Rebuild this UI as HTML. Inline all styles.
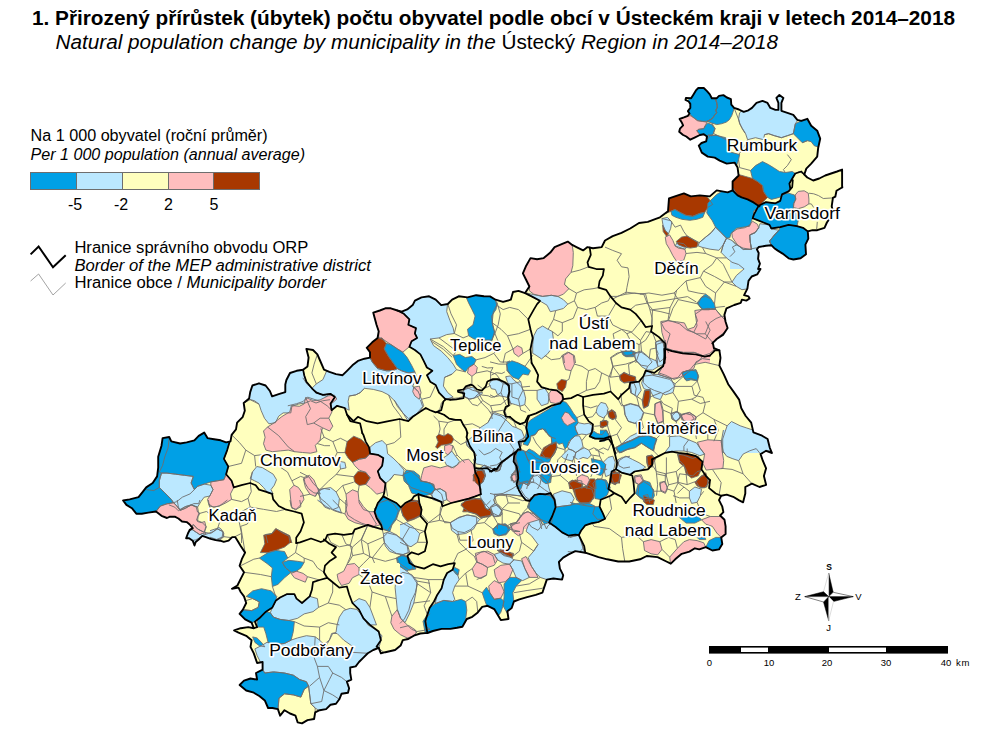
<!DOCTYPE html>
<html><head><meta charset="utf-8">
<style>
html,body{margin:0;padding:0;background:#fff;}
body{width:1005px;height:744px;overflow:hidden;font-family:"Liberation Sans",sans-serif;}
svg{display:block;position:absolute;left:0;top:0;}
text{font-family:"Liberation Sans",sans-serif;fill:#000;}
.lb{font-size:16px;paint-order:stroke;stroke:#fff;stroke-width:3.2px;stroke-linejoin:round;}
</style></head><body>
<svg width="1005" height="744" viewBox="0 0 1005 744">
<rect width="1005" height="744" fill="#fff"/>
<text x="32" y="24.6" font-size="20" font-weight="bold" textLength="923" lengthAdjust="spacingAndGlyphs">1. Přirozený přírůstek (úbytek) počtu obyvatel podle obcí v Ústeckém kraji v letech 2014–2018</text>
<text x="55.5" y="48.8" font-size="20" textLength="722.5" lengthAdjust="spacingAndGlyphs"><tspan font-style="italic">Natural population change by municipality in the </tspan>Ústecký<tspan font-style="italic"> Region in 2014–2018</tspan></text>
<text x="30.6" y="141" font-size="16" textLength="237" lengthAdjust="spacingAndGlyphs">Na 1 000 obyvatel (roční průměr)</text>
<text x="30.6" y="159.7" font-size="16" font-style="italic" textLength="274.4" lengthAdjust="spacingAndGlyphs">Per 1 000 population (annual average)</text>
<g stroke="#6e6e6e" stroke-width="1">
<rect x="30.5" y="172.5" width="46" height="17" fill="#00a0e6"/>
<rect x="76.5" y="172.5" width="46" height="17" fill="#bbe8ff"/>
<rect x="122.5" y="172.5" width="46" height="17" fill="#ffffbe"/>
<rect x="168.5" y="172.5" width="45" height="17" fill="#ffbebe"/>
<rect x="213.5" y="172.5" width="46" height="17" fill="#a83800"/>
</g>
<g font-size="16" text-anchor="middle">
<text x="75" y="210">-5</text><text x="121" y="210">-2</text><text x="168.5" y="210">2</text><text x="214" y="210">5</text>
</g>
<polyline points="30.6,254.4 38.6,246.5 53,267.2 65.7,255.2" fill="none" stroke="#000" stroke-width="2"/>
<polyline points="30.6,281 38.6,274 53,295 65.7,283" fill="none" stroke="#8c8c8c" stroke-width="0.8"/>
<text x="74.4" y="253.2" font-size="16" textLength="234" lengthAdjust="spacingAndGlyphs">Hranice správního obvodu ORP</text>
<text x="74.4" y="270.5" font-size="16" font-style="italic" textLength="296.6" lengthAdjust="spacingAndGlyphs">Border of the MEP administrative district</text>
<text x="74.4" y="288.4" font-size="16" textLength="252" lengthAdjust="spacingAndGlyphs">Hranice obce / <tspan font-style="italic">Municipality border</tspan></text>
<!-- compass -->
<g stroke="#000" stroke-width="0.5" stroke-linejoin="miter">
<polygon points="828.7,573 833.2,592.3 828.7,596.6" fill="#000"/>
<polygon points="828.7,573 823.5,591.7 828.7,596.6" fill="#fff" stroke="#bbb"/>
<polygon points="853.2,596.6 833.5,601.5 828.7,596.6" fill="#000"/>
<polygon points="853.2,596.6 833.2,592.3 828.7,596.6" fill="#fff"/>
<polygon points="828.7,620.7 823.5,602 828.7,596.6" fill="#000"/>
<polygon points="828.7,620.7 833.5,601.5 828.7,596.6" fill="#fff" stroke="#bbb"/>
<polygon points="804.8,596.6 823.5,591.7 828.7,596.6" fill="#000"/>
<polygon points="804.8,596.6 823.5,602 828.7,596.6" fill="#fff"/>
</g>
<g font-size="9.5" text-anchor="middle">
<text x="829" y="569.5" font-weight="bold" font-size="8.5">S</text>
<text x="828.5" y="630.5">J</text>
<text x="797.8" y="600">Z</text>
<text x="858.5" y="600">V</text>
</g>
<!-- scalebar -->
<rect x="709" y="646" width="239" height="7.6" fill="#000"/>
<rect x="741" y="647.6" width="27" height="4.4" fill="#fff"/>
<rect x="829" y="647.6" width="57" height="4.4" fill="#fff"/>
<g font-size="9.5" text-anchor="middle">
<text x="709.5" y="666">0</text><text x="769" y="666">10</text><text x="827" y="666">20</text><text x="886" y="666">30</text><text x="946" y="666">40</text><text x="963" y="666" letter-spacing="0.6">km</text>
</g>
<defs><clipPath id="oc"><polygon points="660.0,217.3 668.0,211.3 669.0,198.4 674.9,196.4 683.9,193.4 690.8,196.4 699.8,195.4 709.8,196.4 716.7,190.4 727.7,192.4 732.6,190.4 732.6,181.5 738.6,175.5 737.6,167.6 734.6,162.6 726.7,163.6 719.7,160.6 714.7,157.6 707.8,156.6 701.8,152.6 698.8,145.7 701.5,143.0 706.2,141.3 707.0,136.5 703.8,134.2 699.9,135.0 695.1,137.3 690.3,139.7 686.3,136.5 683.1,135.0 679.2,131.8 680.0,128.6 683.1,125.4 681.6,122.2 679.6,119.0 683.9,117.4 687.9,115.8 689.5,113.5 687.9,111.1 690.3,107.9 690.3,103.9 688.7,101.5 685.5,99.9 685.9,97.9 691.1,98.3 693.5,94.4 695.9,90.4 698.3,88.0 703.8,88.0 707.0,91.2 709.8,94.4 711.8,98.3 716.6,98.3 719.0,95.9 723.4,95.1 726.9,97.5 730.9,99.1 731.3,104.7 734.1,107.9 738.9,109.5 743.7,111.9 748.4,110.3 752.0,107.9 756.5,102.9 762.5,100.9 767.5,102.9 770.4,107.9 775.4,109.9 778.4,109.9 778.4,102.9 776.4,97.9 779.4,94.9 783.4,97.9 781.4,102.9 781.4,110.8 787.4,112.8 793.3,114.8 797.3,119.8 801.3,120.8 807.3,118.8 811.2,125.8 817.2,130.7 820.2,138.7 818.2,147.7 817.2,156.6 811.2,163.6 806.3,168.6 804.3,174.5 807.3,177.5 813.2,180.5 819.2,178.5 825.2,175.5 831.1,173.5 837.1,171.5 842.1,169.6 842.1,187.5 842.4,187.2 836.5,190.8 835.3,196.7 832.9,197.9 831.7,206.3 832.9,211.1 830.5,217.1 826.9,222.5 824.5,227.8 817.3,230.2 812.5,230.2 807.8,231.4 808.3,238.6 805.4,244.6 806.0,254.2 800.6,258.3 793.4,259.5 788.6,258.3 782.6,253.6 777.8,250.6 774.3,248.2 771.3,245.2 765.9,245.8 758.7,247.0 756.9,249.4 758.7,253.0 758.1,258.9 759.9,263.7 758.1,269.0 760.5,268.9 757.2,274.4 751.7,276.5 748.5,280.9 747.4,288.6 744.1,295.2 748.5,296.3 749.6,298.5 746.3,300.6 741.9,299.6 740.8,302.8 734.2,305.0 726.5,308.3 724.4,314.9 725.5,321.5 727.6,328.0 723.3,334.6 716.7,339.0 712.3,343.4 712.8,342.6 713.9,348.1 719.4,350.3 720.5,357.9 719.4,365.6 723.8,374.4 728.2,384.2 733.7,391.9 739.1,399.6 741.3,408.3 745.7,416.0 751.2,422.6 753.4,432.4 762.1,435.7 767.6,439.0 769.8,447.8 772.0,453.0 772.0,453.0 766.1,450.8 760.6,454.1 762.8,460.7 766.1,468.3 763.9,476.0 766.1,484.8 759.5,487.0 751.9,483.7 745.3,487.0 745.3,493.5 743.1,502.3 738.7,500.1 733.2,496.8 726.7,494.6 721.2,495.7 719.0,500.1 722.3,506.7 723.4,512.2 720.1,515.5 724.5,519.8 725.6,526.4 725.6,534.1 721.2,537.4 722.3,543.9 719.0,549.4 712.4,550.5 705.8,547.2 699.3,549.4 694.9,548.3 689.4,551.6 681.7,553.8 675.2,559.3 670.8,563.7 666.4,561.5 657.6,557.1 646.7,556.0 640.1,559.3 629.2,561.5 618.2,561.5 607.2,559.3 598.5,557.1 591.9,554.9 585.3,552.7 575.3,551.1 568.7,554.4 563.2,557.6 558.9,562.0 559.9,568.6 563.2,575.2 562.1,579.6 553.4,578.5 546.8,579.6 544.6,586.1 542.4,592.7 535.8,594.9 527.1,597.1 519.4,599.3 513.9,601.5 511.7,608.0 507.4,611.3 508.5,619.0 500.8,620.1 497.5,614.6 494.2,609.1 487.6,605.8 482.2,606.9 477.8,612.4 472.3,616.8 466.8,619.0 462.4,626.7 457.0,627.8 450.4,628.9 441.6,628.9 432.9,631.0 427.4,633.0 427.4,632.9 420.3,633.5 413.8,635.7 408.3,639.0 402.8,640.1 400.6,645.6 395.1,650.0 385.3,652.2 380.9,653.3 378.7,647.8 373.2,650.0 367.8,653.3 363.4,657.6 359.0,662.0 355.7,666.4 350.2,667.5 350.2,673.0 351.3,679.6 346.9,681.7 349.1,688.3 348.0,692.7 341.5,693.8 339.3,699.3 336.0,703.7 330.5,704.8 326.1,709.1 319.6,710.2 315.2,712.4 314.1,719.0 307.5,720.1 302.0,723.4 297.6,722.3 295.5,715.7 290.0,713.5 284.5,710.2 280.1,715.7 277.9,709.1 272.4,708.0 268.1,708.0 264.8,700.4 259.3,696.0 253.8,692.7 246.2,690.5 239.6,685.0 244.0,680.6 250.5,678.5 257.1,679.6 256.0,673.0 262.6,669.7 262.6,662.0 257.1,663.0 253.8,653.4 250.5,646.8 251.6,640.2 246.2,635.8 238.5,632.6 234.1,630.4 240.7,628.2 248.3,627.1 253.8,628.2 251.6,622.7 245.1,619.4 239.6,613.9 242.9,609.6 246.2,603.0 244.0,596.4 240.7,592.0 238.5,587.6 231.9,588.7 237.4,585.5 240.7,578.9 244.0,572.3 239.6,565.7 241.8,559.2 245.1,552.6 240.7,546.0 237.4,540.5 235.2,537.1 232.2,537.1 228.6,540.7 223.8,541.9 220.2,540.7 215.5,540.1 210.7,538.9 205.9,537.1 202.3,535.9 198.7,539.5 195.7,541.9 194.5,545.5 192.7,540.7 189.1,538.3 186.1,538.3 187.9,533.5 189.7,529.9 192.7,528.1 189.7,524.5 186.7,522.1 182.0,521.5 178.4,518.5 174.8,516.7 170.0,516.7 167.0,518.0 161.5,515.8 156.0,511.5 148.3,512.6 141.8,513.7 136.3,513.7 131.9,508.2 126.4,504.9 123.1,500.5 129.7,499.4 138.5,497.2 142.9,491.7 146.2,487.4 152.7,483.0 157.1,476.4 158.2,467.6 158.2,456.7 161.5,445.7 162.6,438.1 169.2,437.0 171.3,441.3 180.1,443.5 186.7,442.4 194.4,440.3 198.7,435.9 204.2,432.6 207.5,438.1 214.1,439.2 220.6,440.3 226.1,442.4 230.5,441.3 231.6,434.8 236.0,429.3 237.1,422.7 242.6,417.2 244.8,410.7 243.7,403.0 249.1,398.6 250.2,392.1 252.4,385.5 259.0,383.3 265.6,385.5 269.9,391.0 272.1,396.4 278.7,394.2 285.3,392.1 285.3,384.4 286.4,380.0 290.0,373.0 296.6,370.8 303.1,369.7 307.5,366.4 308.6,357.6 306.4,348.9 313.0,350.0 317.4,354.4 320.7,362.0 324.0,369.7 329.4,371.9 336.0,374.1 342.6,375.2 347.0,370.8 352.4,365.3 357.9,360.9 364.5,358.7 370.0,357.6 370.0,352.2 366.7,347.8 372.2,342.3 377.6,337.9 378.7,331.3 376.5,324.8 374.4,317.1 373.3,312.7 379.8,310.5 385.3,308.3 390.8,308.3 397.4,310.5 401.7,311.6 407.2,309.4 412.7,305.1 414.9,300.7 421.5,297.4 429.1,296.3 435.7,299.6 441.2,305.1 447.8,304.0 452.1,299.6 458.7,296.3 467.5,297.4 476.2,295.2 483.9,296.3 490.0,296.4 495.5,299.7 503.1,301.9 510.8,299.7 513.0,292.0 518.5,290.9 525.1,293.1 529.4,286.5 526.2,280.0 522.9,273.4 526.2,265.7 530.5,258.1 537.1,259.2 543.7,258.1 550.3,252.6 554.6,247.1 562.3,243.8 567.8,241.6 572.2,244.9 576.5,247.1 583.1,250.4 587.5,247.1 593.0,248.2 601.7,247.1 605.0,240.5 612.7,236.2 621.5,232.9 630.2,228.5 639.0,223.0 647.8,221.9 656.5,218.6"/></clipPath></defs>
<polygon points="660.0,217.3 668.0,211.3 669.0,198.4 674.9,196.4 683.9,193.4 690.8,196.4 699.8,195.4 709.8,196.4 716.7,190.4 727.7,192.4 732.6,190.4 732.6,181.5 738.6,175.5 737.6,167.6 734.6,162.6 726.7,163.6 719.7,160.6 714.7,157.6 707.8,156.6 701.8,152.6 698.8,145.7 701.5,143.0 706.2,141.3 707.0,136.5 703.8,134.2 699.9,135.0 695.1,137.3 690.3,139.7 686.3,136.5 683.1,135.0 679.2,131.8 680.0,128.6 683.1,125.4 681.6,122.2 679.6,119.0 683.9,117.4 687.9,115.8 689.5,113.5 687.9,111.1 690.3,107.9 690.3,103.9 688.7,101.5 685.5,99.9 685.9,97.9 691.1,98.3 693.5,94.4 695.9,90.4 698.3,88.0 703.8,88.0 707.0,91.2 709.8,94.4 711.8,98.3 716.6,98.3 719.0,95.9 723.4,95.1 726.9,97.5 730.9,99.1 731.3,104.7 734.1,107.9 738.9,109.5 743.7,111.9 748.4,110.3 752.0,107.9 756.5,102.9 762.5,100.9 767.5,102.9 770.4,107.9 775.4,109.9 778.4,109.9 778.4,102.9 776.4,97.9 779.4,94.9 783.4,97.9 781.4,102.9 781.4,110.8 787.4,112.8 793.3,114.8 797.3,119.8 801.3,120.8 807.3,118.8 811.2,125.8 817.2,130.7 820.2,138.7 818.2,147.7 817.2,156.6 811.2,163.6 806.3,168.6 804.3,174.5 807.3,177.5 813.2,180.5 819.2,178.5 825.2,175.5 831.1,173.5 837.1,171.5 842.1,169.6 842.1,187.5 842.4,187.2 836.5,190.8 835.3,196.7 832.9,197.9 831.7,206.3 832.9,211.1 830.5,217.1 826.9,222.5 824.5,227.8 817.3,230.2 812.5,230.2 807.8,231.4 808.3,238.6 805.4,244.6 806.0,254.2 800.6,258.3 793.4,259.5 788.6,258.3 782.6,253.6 777.8,250.6 774.3,248.2 771.3,245.2 765.9,245.8 758.7,247.0 756.9,249.4 758.7,253.0 758.1,258.9 759.9,263.7 758.1,269.0 760.5,268.9 757.2,274.4 751.7,276.5 748.5,280.9 747.4,288.6 744.1,295.2 748.5,296.3 749.6,298.5 746.3,300.6 741.9,299.6 740.8,302.8 734.2,305.0 726.5,308.3 724.4,314.9 725.5,321.5 727.6,328.0 723.3,334.6 716.7,339.0 712.3,343.4 712.8,342.6 713.9,348.1 719.4,350.3 720.5,357.9 719.4,365.6 723.8,374.4 728.2,384.2 733.7,391.9 739.1,399.6 741.3,408.3 745.7,416.0 751.2,422.6 753.4,432.4 762.1,435.7 767.6,439.0 769.8,447.8 772.0,453.0 772.0,453.0 766.1,450.8 760.6,454.1 762.8,460.7 766.1,468.3 763.9,476.0 766.1,484.8 759.5,487.0 751.9,483.7 745.3,487.0 745.3,493.5 743.1,502.3 738.7,500.1 733.2,496.8 726.7,494.6 721.2,495.7 719.0,500.1 722.3,506.7 723.4,512.2 720.1,515.5 724.5,519.8 725.6,526.4 725.6,534.1 721.2,537.4 722.3,543.9 719.0,549.4 712.4,550.5 705.8,547.2 699.3,549.4 694.9,548.3 689.4,551.6 681.7,553.8 675.2,559.3 670.8,563.7 666.4,561.5 657.6,557.1 646.7,556.0 640.1,559.3 629.2,561.5 618.2,561.5 607.2,559.3 598.5,557.1 591.9,554.9 585.3,552.7 575.3,551.1 568.7,554.4 563.2,557.6 558.9,562.0 559.9,568.6 563.2,575.2 562.1,579.6 553.4,578.5 546.8,579.6 544.6,586.1 542.4,592.7 535.8,594.9 527.1,597.1 519.4,599.3 513.9,601.5 511.7,608.0 507.4,611.3 508.5,619.0 500.8,620.1 497.5,614.6 494.2,609.1 487.6,605.8 482.2,606.9 477.8,612.4 472.3,616.8 466.8,619.0 462.4,626.7 457.0,627.8 450.4,628.9 441.6,628.9 432.9,631.0 427.4,633.0 427.4,632.9 420.3,633.5 413.8,635.7 408.3,639.0 402.8,640.1 400.6,645.6 395.1,650.0 385.3,652.2 380.9,653.3 378.7,647.8 373.2,650.0 367.8,653.3 363.4,657.6 359.0,662.0 355.7,666.4 350.2,667.5 350.2,673.0 351.3,679.6 346.9,681.7 349.1,688.3 348.0,692.7 341.5,693.8 339.3,699.3 336.0,703.7 330.5,704.8 326.1,709.1 319.6,710.2 315.2,712.4 314.1,719.0 307.5,720.1 302.0,723.4 297.6,722.3 295.5,715.7 290.0,713.5 284.5,710.2 280.1,715.7 277.9,709.1 272.4,708.0 268.1,708.0 264.8,700.4 259.3,696.0 253.8,692.7 246.2,690.5 239.6,685.0 244.0,680.6 250.5,678.5 257.1,679.6 256.0,673.0 262.6,669.7 262.6,662.0 257.1,663.0 253.8,653.4 250.5,646.8 251.6,640.2 246.2,635.8 238.5,632.6 234.1,630.4 240.7,628.2 248.3,627.1 253.8,628.2 251.6,622.7 245.1,619.4 239.6,613.9 242.9,609.6 246.2,603.0 244.0,596.4 240.7,592.0 238.5,587.6 231.9,588.7 237.4,585.5 240.7,578.9 244.0,572.3 239.6,565.7 241.8,559.2 245.1,552.6 240.7,546.0 237.4,540.5 235.2,537.1 232.2,537.1 228.6,540.7 223.8,541.9 220.2,540.7 215.5,540.1 210.7,538.9 205.9,537.1 202.3,535.9 198.7,539.5 195.7,541.9 194.5,545.5 192.7,540.7 189.1,538.3 186.1,538.3 187.9,533.5 189.7,529.9 192.7,528.1 189.7,524.5 186.7,522.1 182.0,521.5 178.4,518.5 174.8,516.7 170.0,516.7 167.0,518.0 161.5,515.8 156.0,511.5 148.3,512.6 141.8,513.7 136.3,513.7 131.9,508.2 126.4,504.9 123.1,500.5 129.7,499.4 138.5,497.2 142.9,491.7 146.2,487.4 152.7,483.0 157.1,476.4 158.2,467.6 158.2,456.7 161.5,445.7 162.6,438.1 169.2,437.0 171.3,441.3 180.1,443.5 186.7,442.4 194.4,440.3 198.7,435.9 204.2,432.6 207.5,438.1 214.1,439.2 220.6,440.3 226.1,442.4 230.5,441.3 231.6,434.8 236.0,429.3 237.1,422.7 242.6,417.2 244.8,410.7 243.7,403.0 249.1,398.6 250.2,392.1 252.4,385.5 259.0,383.3 265.6,385.5 269.9,391.0 272.1,396.4 278.7,394.2 285.3,392.1 285.3,384.4 286.4,380.0 290.0,373.0 296.6,370.8 303.1,369.7 307.5,366.4 308.6,357.6 306.4,348.9 313.0,350.0 317.4,354.4 320.7,362.0 324.0,369.7 329.4,371.9 336.0,374.1 342.6,375.2 347.0,370.8 352.4,365.3 357.9,360.9 364.5,358.7 370.0,357.6 370.0,352.2 366.7,347.8 372.2,342.3 377.6,337.9 378.7,331.3 376.5,324.8 374.4,317.1 373.3,312.7 379.8,310.5 385.3,308.3 390.8,308.3 397.4,310.5 401.7,311.6 407.2,309.4 412.7,305.1 414.9,300.7 421.5,297.4 429.1,296.3 435.7,299.6 441.2,305.1 447.8,304.0 452.1,299.6 458.7,296.3 467.5,297.4 476.2,295.2 483.9,296.3 490.0,296.4 495.5,299.7 503.1,301.9 510.8,299.7 513.0,292.0 518.5,290.9 525.1,293.1 529.4,286.5 526.2,280.0 522.9,273.4 526.2,265.7 530.5,258.1 537.1,259.2 543.7,258.1 550.3,252.6 554.6,247.1 562.3,243.8 567.8,241.6 572.2,244.9 576.5,247.1 583.1,250.4 587.5,247.1 593.0,248.2 601.7,247.1 605.0,240.5 612.7,236.2 621.5,232.9 630.2,228.5 639.0,223.0 647.8,221.9 656.5,218.6" fill="#ffffbe"/>
<g clip-path="url(#oc)">
<polygon points="696.8,145.7 704.8,141.7 708.8,137.7 710.7,134.7 717.7,135.7 725.7,137.7 727.7,145.7 728.7,151.6 739.6,154.6 738.6,159.6 736.6,165.6 734.6,164.6 726.7,165.6 719.7,162.6 714.7,159.6 707.8,158.6 701.8,154.6" fill="#00a0e6"/>
<polygon points="795.3,123.8 801.3,120.8 807.3,116.8 813.2,123.8 819.2,128.8 822.2,138.7 820.2,147.7 814.2,145.7 811.2,141.7 807.3,140.7 802.3,142.7 797.3,137.7 793.3,133.7 794.3,128.8" fill="#00a0e6"/>
<polygon points="750.5,170.5 755.5,165.6 762.5,161.6 768.5,164.6 773.4,167.6 779.4,171.5 785.4,172.5 792.3,171.5 795.3,173.5 792.3,178.5 789.4,183.5 790.3,188.5 785.4,193.4 779.4,197.4 771.4,199.4 767.5,197.4 763.5,191.4 762.5,185.5 757.5,181.5 752.5,178.5" fill="#00a0e6"/>
<polygon points="670.9,211.3 674.9,209.4 679.9,212.3 685.9,215.3 692.8,216.3 699.8,213.3 704.8,212.3 702.8,217.3 696.8,219.3 689.9,220.3 681.9,219.3 675.9,217.3 671.9,215.3" fill="#00a0e6"/>
<polygon points="739.6,112.8 743.6,108.9 749.6,105.9 756.5,100.9 762.5,98.9 767.5,100.9 770.4,105.9 775.4,107.9 776.4,107.9 776.4,93.9 785.4,93.9 783.4,108.9 787.4,110.8 793.3,112.8 799.3,117.8 795.3,123.8 794.3,128.8 793.3,133.7 787.4,135.7 781.4,137.7 774.4,135.7 768.5,133.7 764.5,134.7 763.5,139.7 755.5,137.7 747.6,139.7 745.6,133.7 742.6,128.8 739.6,123.8 738.6,118.8" fill="#bbe8ff"/>
<polygon points="730.6,181.5 738.6,174.5 745.6,176.5 752.5,178.5 757.5,181.5 762.5,185.5 763.5,191.4 767.5,197.4 763.5,201.4 759.5,206.4 753.5,202.4 747.6,199.4 741.6,197.4 737.6,195.4 732.6,190.4" fill="#a83800"/>
<polygon points="667.0,198.4 674.9,194.4 683.9,191.4 690.8,194.4 699.8,193.4 707.8,197.4 712.7,204.4 707.8,207.4 704.8,212.3 699.8,213.3 692.8,216.3 685.9,215.3 679.9,212.3 674.9,209.4 670.9,211.3 666.0,213.3" fill="#a83800"/>
<polygon points="758.7,205.7 765.9,202.1 775.5,203.3 780.2,200.9 782.0,194.4 788.6,193.2 794.6,195.0 795.8,199.1 793.4,203.9 793.4,208.7 797.0,214.7 798.2,220.7 797.0,226.1 788.6,224.9 780.2,227.2 771.3,229.0 769.5,224.9 763.5,222.5 757.5,220.1 752.7,218.3 753.9,214.7" fill="#00a0e6"/>
<polygon points="795.2,195.0 798.2,191.4 804.2,190.8 808.3,193.2 808.9,199.1 808.9,203.9 804.2,206.9 798.2,208.7 793.4,207.5 794.0,203.3 795.8,199.1" fill="#ffbebe"/>
<polygon points="759.9,223.7 769.5,224.9 771.3,229.0 779.0,230.2 775.5,233.8 769.5,241.0 771.3,245.2 765.9,245.8 758.7,247.0 756.9,249.4 758.7,253.0 758.1,258.9 759.9,263.7 758.1,269.0 730.0,269.0 730.0,256.6 734.8,251.8 732.4,247.0 737.2,244.6 743.2,249.4 751.5,249.4 750.3,242.2 749.7,235.0 755.1,232.6 758.7,227.8" fill="#bbe8ff"/>
<polygon points="752.7,221.3 757.5,224.3 758.7,227.8 755.1,232.6 749.7,235.0 750.3,242.2 751.5,249.4 743.2,249.4 737.2,244.6 732.4,237.4 731.8,232.6 737.2,229.0 744.4,227.8 749.1,225.5" fill="#ffbebe"/>
<polygon points="779.0,230.2 780.2,227.2 788.6,224.9 797.0,226.1 803.0,227.8 807.8,231.4 809.5,238.6 806.6,244.6 807.2,254.2 800.6,259.5 793.4,260.7 788.6,259.5 782.6,254.8 777.8,251.8 774.3,249.4 771.3,245.2 769.5,241.0 775.5,233.8" fill="#00a0e6"/>
<polygon points="707.9,203.1 716.7,194.4 727.6,188.2 733.1,188.2 737.7,195.5 741.7,197.4 747.6,199.4 753.5,202.5 759.6,206.4 753.9,210.8 752.8,217.4 749.6,226.2 736.4,228.3 730.9,233.8 729.8,237.8 726.5,238.2 721.1,232.7 715.6,227.2 712.3,220.7 706.8,213.0" fill="#00a0e6"/>
<polygon points="661.9,218.5 667.4,217.4 671.8,221.8 670.7,228.3 668.5,233.8 665.2,230.5 663.0,225.1" fill="#bbe8ff"/>
<polygon points="662.6,225.1 665.2,230.5 668.5,233.8 666.7,236.5 663.2,231.6" fill="#a83800"/>
<polygon points="665.2,237.1 669.6,234.9 672.9,240.4 675.1,245.9 678.3,248.1 684.9,249.2 686.0,253.5 683.8,260.1 677.2,262.3 672.9,255.7 669.6,249.2 666.3,243.7" fill="#ffbebe"/>
<polygon points="675.1,245.9 684.9,249.2 687.1,247.0 683.8,243.7 677.2,242.6" fill="#bbe8ff"/>
<polygon points="676.2,241.5 681.6,237.1 687.1,236.0 692.6,239.3 698.1,242.6 697.0,247.0 690.4,248.1 683.8,247.0 678.3,244.8" fill="#a83800"/>
<polygon points="699.2,242.6 705.7,237.1 711.2,232.7 715.6,227.2 721.1,232.7 726.5,238.2 723.3,244.8 718.9,250.3 710.1,249.2 702.4,247.4 698.1,245.9" fill="#bbe8ff"/>
<polygon points="726.5,238.2 732.0,240.4 736.4,244.8 743.0,248.1 749.6,249.2 755.0,248.1 761.6,247.0 759.4,250.3 761.6,255.7 760.5,262.3 762.7,268.9 759.4,274.4 753.9,276.5 750.6,280.9 749.6,288.6 741.9,289.7 736.4,286.4 732.0,282.0 736.4,275.5 744.1,268.9 738.6,264.5 732.0,262.3 726.5,257.9 721.1,252.4 723.3,244.8" fill="#bbe8ff"/>
<polygon points="701.3,297.4 705.7,294.1 710.1,297.4 714.5,303.9 715.6,309.4 707.9,308.3 702.4,309.4 698.1,303.9" fill="#00a0e6"/>
<polygon points="694.8,310.5 702.4,309.4 715.6,309.4 721.1,316.0 726.5,321.5 729.8,328.0 725.5,334.6 718.9,339.0 714.5,343.4 713.4,353.0 668.5,353.0 665.2,343.4 661.9,332.4 660.8,321.5 668.5,320.4 679.4,323.7 687.1,330.2 693.7,332.4 697.0,325.8 695.9,318.2" fill="#ffbebe"/>
<polygon points="524.0,265.7 528.3,255.9 537.1,257.0 543.7,255.9 550.3,250.4 554.6,244.9 562.3,241.6 567.8,239.4 572.2,244.9 573.3,252.6 572.8,265.7 571.1,272.3 565.6,278.9 564.5,284.4 568.9,288.7 563.4,294.2 557.9,296.4 551.3,295.3 542.6,296.4 533.8,294.2 529.4,290.9 529.4,286.5 526.2,280.0 520.7,273.4" fill="#ffbebe"/>
<polygon points="527.2,293.1 533.8,294.7 542.6,296.4 551.3,295.3 557.9,296.4 563.4,299.7 567.8,304.1 563.4,308.5 555.7,310.6 550.3,311.7 547.0,305.2 541.5,301.9 537.1,299.7 531.6,296.4" fill="#bbe8ff"/>
<polygon points="537.1,329.3 542.6,326.0 548.1,329.3 552.4,331.5 553.5,340.2 551.3,349.0 547.0,354.5 541.5,358.9 534.9,354.5 532.7,353.4 532.7,344.6 533.8,335.8" fill="#bbe8ff"/>
<polygon points="487.8,294.2 495.5,299.7 496.6,305.2 493.3,311.7 492.2,322.7 494.4,331.5 492.2,340.2 490.0,342.4 487.8,342.4" fill="#00a0e6"/>
<polygon points="513.0,349.0 517.4,345.7 521.8,347.9 522.9,353.4 518.5,356.7 514.1,353.4" fill="#ffbebe"/>
<polygon points="563.4,355.6 568.9,352.3 574.4,355.6 575.5,363.0 564.5,363.0" fill="#ffbebe"/>
<polygon points="621.5,351.2 630.2,350.1 635.7,352.3 633.5,356.7 625.8,356.7 622.6,354.5" fill="#00a0e6"/>
<polygon points="655.4,342.4 659.8,340.2 664.2,343.5 665.3,349.0 664.2,363.0 657.6,363.0 656.5,353.4" fill="#bbe8ff"/>
<polygon points="665.3,349.0 671.9,351.2 682.8,353.4 696.0,354.5 704.7,356.7 710.0,355.6 710.0,363.0 664.6,363.0" fill="#ffbebe"/>
<polygon points="697.1,303.0 701.4,297.5 705.8,296.4 710.0,298.6 710.0,309.6 703.6,309.6 700.3,307.4" fill="#00a0e6"/>
<polygon points="371.1,312.7 379.8,308.3 385.3,306.2 390.8,306.2 397.4,310.5 403.9,313.8 409.4,319.3 408.3,324.8 416.0,328.1 414.9,333.5 417.1,337.9 411.6,341.2 409.4,346.7 402.8,352.2 397.4,348.9 390.8,344.5 384.2,340.1 378.7,337.9 378.7,331.3 376.5,324.8 374.4,317.1" fill="#ffbebe"/>
<polygon points="364.5,347.8 372.2,340.1 377.6,337.9 382.0,337.9 386.4,343.4 384.2,348.9 388.6,356.5 394.1,364.2 397.4,368.6 393.0,370.8 386.4,370.8 377.6,368.6 372.2,362.0 370.0,357.6 370.0,352.2" fill="#a83800"/>
<polygon points="384.2,348.9 386.4,343.4 390.8,344.5 397.4,348.9 402.8,352.2 407.2,357.6 411.6,365.3 414.9,371.9 408.3,373.0 401.7,370.8 397.4,368.6 394.1,364.2 388.6,356.5" fill="#00a0e6"/>
<polygon points="311.9,388.3 316.3,383.9 322.9,379.6 327.2,369.7 336.0,371.9 342.6,373.0 347.0,368.6 352.4,363.1 357.9,358.7 364.5,356.5 370.0,357.6 372.2,362.0 377.6,368.6 386.4,370.8 393.0,370.8 397.4,368.6 401.7,370.8 408.3,373.0 414.9,371.9 417.1,377.4 412.7,386.1 418.2,391.6 421.5,399.3 423.7,405.8 419.3,412.4 412.7,416.8 408.3,421.2 403.9,414.6 399.6,408.0 395.2,401.5 388.6,394.9 382.0,391.6 373.3,389.4 364.5,388.3 360.1,392.7 355.7,394.9 349.2,396.0 348.1,401.5 349.2,410.2 344.8,408.0 337.1,405.8 331.6,410.2 330.5,403.7 334.9,397.1 330.5,393.8 322.9,394.9 316.3,392.7" fill="#bbe8ff"/>
<polygon points="287.8,373.0 296.6,368.6 303.1,369.7 304.2,375.2 306.4,381.7 311.9,388.3 316.3,392.7 322.9,394.9 330.5,393.8 334.9,397.1 330.5,403.7 331.6,410.2 327.2,405.8 320.7,401.5 314.1,399.3 307.5,397.1 303.1,401.5 296.6,403.7 287.8,405.8" fill="#bbe8ff"/>
<polygon points="401.7,311.6 407.2,307.2 412.7,302.9 414.9,298.5 421.5,295.2 429.1,294.1 435.7,297.4 441.2,302.9 447.8,301.8 446.7,311.6 449.9,320.4 453.2,328.1 454.3,333.5 446.7,334.6 439.0,337.9 430.2,339.0 433.5,345.6 441.2,351.1 447.8,357.6 453.2,364.2 456.5,369.7 452.1,374.1 444.5,377.4 443.4,386.1 447.8,392.7 453.2,397.1 445.6,399.3 439.0,392.7 435.7,385.0 430.2,381.7 426.9,375.2 432.4,370.8 426.9,367.5 423.7,360.9 420.4,354.4 414.9,350.0 409.4,346.7 411.6,341.2 417.1,337.9 414.9,333.5 416.0,328.1 408.3,324.8 409.4,319.3 403.9,313.8" fill="#bbe8ff"/>
<polygon points="465.3,295.2 476.2,293.0 483.9,294.1 491.6,295.2 497.1,302.9 496.0,309.4 491.6,316.0 492.7,324.8 494.9,333.5 491.6,340.1 482.8,340.1 474.0,339.0 468.6,335.7 467.5,329.2 473.0,324.8 475.1,316.0 471.9,309.4 468.6,302.9" fill="#00a0e6"/>
<polygon points="453.2,355.5 459.8,354.4 465.3,357.6 471.9,356.5 476.2,359.8 474.0,364.2 468.6,367.5 465.3,371.9 460.9,368.6 456.5,364.2" fill="#00a0e6"/>
<polygon points="468.6,367.5 474.0,364.2 477.3,367.5 476.2,373.0 471.9,376.3 467.5,373.0" fill="#ffbebe"/>
<polygon points="506.9,362.0 510.0,360.9 510.0,373.0 506.9,370.8" fill="#00a0e6"/>
<polygon points="413.8,387.2 419.3,386.1 421.0,392.7 419.3,399.3 414.9,396.0 412.7,391.6" fill="#ffbebe"/>
<polygon points="121.0,500.5 129.7,497.2 138.5,495.0 142.9,489.6 146.2,485.2 152.7,480.8 154.9,476.4 156.0,467.6 156.0,456.7 159.3,445.7 160.4,435.9 169.2,434.8 171.3,439.2 180.1,441.3 186.7,440.3 194.4,438.1 198.7,433.7 204.2,430.4 207.5,435.9 214.1,437.0 220.6,438.1 226.1,440.3 229.4,442.4 227.2,450.1 223.9,458.9 228.3,466.5 226.1,474.2 223.9,479.7 217.4,480.8 210.8,481.9 204.2,484.1 197.6,486.3 194.4,489.6 191.1,483.0 193.3,476.4 184.5,475.3 175.7,474.2 167.0,473.1 161.5,473.1 159.3,480.8 159.3,487.4 164.8,492.8 171.3,499.4 173.5,502.7 167.0,503.8 160.4,506.0 156.0,511.5 148.3,514.8 141.8,515.8 136.3,515.8 130.8,510.4 125.3,507.1" fill="#00a0e6"/>
<polygon points="161.5,473.1 167.0,473.1 175.7,474.2 184.5,475.3 193.3,476.4 191.1,483.0 194.4,489.6 197.6,486.3 204.2,484.1 210.8,485.2 213.0,489.6 209.7,496.1 204.2,497.2 200.9,501.6 197.6,507.1 191.1,504.9 185.6,508.2 180.1,510.4 176.8,506.0 173.5,502.7 171.3,499.4 164.8,492.8 159.3,487.4 159.3,480.8" fill="#bbe8ff"/>
<polygon points="210.8,481.9 217.4,480.8 223.9,479.7 226.1,474.2 231.6,480.8 233.8,487.4 230.5,493.9 231.6,499.4 226.1,502.7 219.6,506.0 213.0,507.1 208.6,503.8 207.5,499.4 209.7,496.1 213.0,489.6 210.8,485.2" fill="#ffbebe"/>
<polygon points="156.0,511.5 160.4,506.0 167.0,503.8 173.5,502.7 176.8,506.0 180.1,510.4 185.6,508.2 191.1,504.9 197.6,507.1 198.7,513.7 196.5,520.2 202.0,522.4 206.4,526.8 204.2,532.3 197.6,529.0 193.3,524.6 190.0,531.2 183.4,525.7 177.9,521.3 173.5,519.1 167.0,520.2 161.5,518.0" fill="#ffbebe"/>
<polygon points="187.8,531.2 193.3,524.6 197.6,529.0 204.2,532.3 210.8,533.4 217.4,529.0 222.8,531.2 223.9,536.7 217.4,539.9 208.6,538.9 202.0,536.7 195.5,539.9 188.9,541.0 184.5,536.7" fill="#bbe8ff"/>
<polygon points="265.6,534.5 272.1,533.4 276.5,529.0 283.1,532.3 289.7,535.6 291.9,543.0 267.8,543.0" fill="#a83800"/>
<polygon points="246.9,398.6 248.0,392.1 250.2,384.4 259.0,381.1 265.6,383.3 271.0,389.9 273.2,394.2 278.7,392.1 283.1,391.0 283.1,384.4 284.2,377.8 302.8,377.8 307.2,384.4 313.8,389.9 320.3,394.2 326.9,396.4 330.0,393.1 330.0,399.7 322.5,400.8 316.0,403.0 310.5,400.8 305.0,403.0 298.4,404.1 291.9,406.3 290.8,412.9 283.1,412.9 278.7,416.2 275.4,422.7 268.9,423.8 264.5,418.3 261.2,410.7 259.0,404.1 254.6,400.8" fill="#bbe8ff"/>
<polygon points="252.4,472.0 256.8,466.5 262.3,467.6 267.8,470.9 273.2,474.2 276.5,479.7 274.3,485.2 271.0,489.6 273.2,493.9 267.8,492.8 263.4,487.4 259.0,483.0 254.6,480.8 250.2,478.6" fill="#bbe8ff"/>
<polygon points="289.7,489.6 294.0,485.2 298.4,487.4 302.8,493.9 303.9,499.4 300.6,504.9 296.2,509.3 291.9,508.2 290.8,500.5" fill="#ffbebe"/>
<polygon points="303.9,477.5 309.4,475.3 313.8,479.7 317.1,487.4 320.3,493.9 313.8,492.8 308.3,488.5 305.0,483.0" fill="#ffbebe"/>
<polygon points="318.2,489.6 324.7,488.5 330.0,489.6 330.0,509.3 324.7,507.1 320.3,500.5" fill="#bbe8ff"/>
<polygon points="344.9,452.6 347.1,441.6 353.7,436.2 361.3,439.4 365.7,443.8 369.0,447.1 370.1,453.7 365.7,458.1 359.2,459.2 352.6,462.4 348.2,458.1" fill="#a83800"/>
<polygon points="352.6,462.4 359.2,459.2 365.7,458.1 370.1,453.7 377.8,454.8 383.3,458.1 382.2,465.7 377.8,471.2 380.0,477.8 385.5,483.3 384.4,492.0 376.7,494.2 370.1,487.6 365.7,484.4 370.1,477.8 365.7,472.3 359.2,470.1 354.8,465.7" fill="#ffbebe"/>
<polygon points="353.7,476.7 358.1,471.2 365.7,472.3 370.1,477.8 365.7,484.4 359.2,485.5 354.8,482.2" fill="#a83800"/>
<polygon points="303.3,478.9 308.8,476.7 313.1,483.3 319.7,489.8 315.3,496.4 309.9,494.2 305.5,487.6" fill="#ffbebe"/>
<polygon points="317.5,492.0 323.0,488.7 330.7,487.6 336.2,492.0 339.4,498.6 338.3,507.4 332.9,509.6 326.3,503.0 320.8,498.6" fill="#bbe8ff"/>
<polygon points="346.0,494.2 352.6,489.8 358.1,492.0 359.2,503.0 363.5,509.6 370.1,511.7 374.5,511.7 376.7,518.3 380.0,524.9 372.3,527.1 363.5,524.9 354.8,522.7 348.2,519.4 344.9,513.9 347.1,505.2" fill="#ffbebe"/>
<polygon points="339.4,461.3 344.9,462.4 346.0,467.9 340.5,469.0" fill="#bbe8ff"/>
<polygon points="370.1,447.1 375.6,442.7 382.2,440.5 386.5,444.9 387.6,453.7 393.1,458.1 398.6,463.5 404.1,470.1 403.0,475.6 394.2,474.5 389.8,480.0 385.5,483.3 380.0,477.8 377.8,471.2 382.2,465.7 383.3,458.1 377.8,454.8 370.1,453.7" fill="#bbe8ff"/>
<polygon points="403.0,475.6 406.3,470.1 413.9,471.2 419.4,475.6 420.5,481.1 427.1,482.2 433.7,484.4 434.8,489.8 430.4,494.2 422.7,496.4 416.1,494.2 411.7,493.1 408.5,485.5 404.1,481.1" fill="#00a0e6"/>
<polygon points="421.6,475.6 423.8,467.9 431.5,465.7 440.2,467.9 447.9,465.7 453.4,467.9 458.9,463.5 462.1,460.3 468.7,459.2 474.2,465.7 475.3,472.3 478.6,478.9 479.7,485.5 480.8,494.2 475.3,496.4 468.7,498.6 459.9,500.8 451.2,503.0 446.8,499.7 445.7,492.0 440.2,488.7 434.8,489.8 433.7,484.4 427.1,482.2 420.5,481.1" fill="#ffbebe"/>
<polygon points="434.8,489.8 440.2,488.7 445.7,492.0 446.8,499.7 441.3,501.9 433.7,498.6 430.4,494.2" fill="#bbe8ff"/>
<polygon points="473.1,475.6 476.4,470.1 481.9,470.1 485.1,475.6 483.0,482.2 478.6,485.5 475.3,482.2" fill="#a83800"/>
<polygon points="511.4,474.5 516.9,470.1 520.0,472.3 520.0,481.1 515.8,483.3 512.5,480.0" fill="#ffbebe"/>
<polygon points="515.8,451.5 520.0,449.3 520.0,472.3 518.0,465.7 515.8,458.1" fill="#00a0e6"/>
<polygon points="461.0,504.1 468.7,498.6 475.3,498.6 481.9,499.7 486.2,505.2 490.6,509.6 492.8,515.0 486.2,516.1 479.7,517.2 475.3,513.9 468.7,511.7 464.3,508.5" fill="#a83800"/>
<polygon points="450.1,522.7 457.8,518.3 466.5,515.0 475.3,516.1 479.7,519.4 475.3,524.9 470.9,529.3 464.3,532.6 457.8,531.5 452.3,528.2" fill="#bbe8ff"/>
<polygon points="490.6,507.4 496.1,505.2 501.6,509.6 500.5,516.1 493.9,516.1" fill="#bbe8ff"/>
<polygon points="492.8,529.3 498.3,523.8 506.0,524.9 510.3,529.3 506.0,534.8 498.3,535.8 493.9,533.7" fill="#00a0e6"/>
<polygon points="497.2,550.1 503.8,551.2 513.6,553.4 512.5,557.8 503.8,555.6" fill="#a83800"/>
<polygon points="475.3,553.4 484.0,551.2 492.8,555.6 495.0,563.0 477.5,563.0" fill="#ffbebe"/>
<polygon points="510.3,524.9 520.0,522.7 520.0,531.5 513.6,531.5" fill="#ffbebe"/>
<polygon points="374.5,511.7 377.8,503.0 383.3,496.4 389.8,499.7 396.4,503.0 400.8,507.4 398.6,512.8 396.4,519.4 392.0,524.9 389.8,531.5 382.2,529.3 381.1,524.9 376.7,518.3" fill="#00a0e6"/>
<polygon points="400.8,507.4 405.2,503.0 411.7,499.7 418.3,500.8 421.6,509.6 420.5,516.1 413.9,519.4 407.4,521.6 403.0,516.1" fill="#a83800"/>
<polygon points="383.3,533.7 389.8,531.5 396.4,534.8 401.9,540.2 407.4,544.6 409.6,552.3 403.0,554.5 396.4,553.4 389.8,549.0 384.4,542.4" fill="#bbe8ff"/>
<polygon points="396.4,557.8 403.0,554.5 407.4,557.8 408.5,563.0 397.5,563.0" fill="#00a0e6"/>
<polygon points="394.2,400.0 420.5,400.0 422.7,406.6 416.1,414.2 408.5,418.6 403.0,413.1 397.5,406.6" fill="#bbe8ff"/>
<polygon points="506.4,364.1 511.9,360.8 518.5,363.0 525.1,366.3 530.5,370.7 528.3,375.1 522.9,374.0 518.5,379.4 513.0,377.2 508.6,372.9" fill="#00a0e6"/>
<polygon points="490.0,379.4 498.8,379.4 503.1,383.8 501.0,392.6 494.4,397.0 490.0,394.8" fill="#bbe8ff"/>
<polygon points="511.9,383.8 520.7,381.6 522.9,390.4 518.5,399.2 511.9,397.0" fill="#bbe8ff"/>
<polygon points="537.1,390.4 544.8,388.2 549.2,394.8 548.1,403.5 541.5,405.7 537.1,399.2" fill="#bbe8ff"/>
<polygon points="548.1,394.8 551.3,390.4 557.9,390.8 562.3,394.8 562.3,401.3 555.7,403.5 550.3,402.4" fill="#ffbebe"/>
<polygon points="556.8,383.8 561.2,379.4 566.7,380.5 565.6,387.1 562.3,391.5 557.9,389.3" fill="#a83800"/>
<polygon points="562.3,355.3 567.8,352.1 573.3,355.3 574.4,364.1 571.1,370.7 565.6,369.6 563.4,363.0" fill="#ffbebe"/>
<polygon points="622.6,352.1 632.4,349.9 634.6,354.2 626.9,356.4" fill="#00a0e6"/>
<polygon points="634.6,353.1 641.2,351.0 646.7,355.3 652.1,361.9 647.8,366.3 641.2,365.2 635.7,360.8" fill="#bbe8ff"/>
<polygon points="656.5,344.4 663.1,342.2 664.2,348.8 665.3,357.5 659.8,361.9 656.5,353.1" fill="#bbe8ff"/>
<polygon points="619.3,376.2 623.7,372.9 630.2,375.1 635.7,377.2 634.6,382.7 629.1,381.6 623.7,382.7 620.4,380.5" fill="#a83800"/>
<polygon points="630.2,382.7 639.0,381.6 641.2,390.4 636.8,397.0 631.3,392.6" fill="#bbe8ff"/>
<polygon points="665.3,340.0 710.0,340.0 710.0,359.7 702.5,358.6 696.0,361.9 693.8,368.5 687.2,372.9 680.6,377.2 674.0,379.4 665.3,375.1 658.7,372.9 663.1,366.3 665.3,357.5" fill="#ffbebe"/>
<polygon points="681.7,372.9 687.2,370.7 696.0,369.6 698.2,375.1 697.1,380.5 690.5,378.3 685.0,379.4" fill="#00a0e6"/>
<polygon points="643.4,376.2 652.1,375.1 660.9,377.2 669.7,379.4 675.1,383.8 673.0,392.6 665.3,394.8 660.9,392.6 654.3,390.4 647.8,387.1 643.4,382.7" fill="#bbe8ff"/>
<polygon points="644.5,390.4 649.9,389.3 649.9,397.0 647.8,405.7 643.4,407.9 642.3,401.3" fill="#a83800"/>
<polygon points="655.4,403.5 660.9,401.3 663.1,410.1 663.1,421.1 657.6,423.3 654.3,414.5" fill="#ffbebe"/>
<polygon points="623.7,405.7 630.2,403.5 639.0,405.7 643.4,412.3 641.2,418.9 634.6,423.3 628.0,421.1 624.8,414.5" fill="#bbe8ff"/>
<polygon points="670.8,413.4 677.3,411.2 680.6,416.7 676.2,421.1 671.9,418.9" fill="#bbe8ff"/>
<polygon points="680.6,414.5 689.4,412.3 696.0,416.7 693.8,423.3 685.0,424.4" fill="#ffbebe"/>
<polygon points="621.5,444.1 630.2,436.4 639.0,432.0 643.4,436.4 639.0,436.4 630.2,440.8" fill="#bbe8ff"/>
<polygon points="616.0,447.4 621.5,444.1 630.2,440.8 639.0,436.4 647.8,435.3 656.5,438.6 654.3,445.2 653.2,450.6 647.8,447.4 641.2,443.0 634.6,447.4 625.8,449.6 619.3,452.8" fill="#00a0e6"/>
<polygon points="619.3,460.5 625.8,456.1 632.4,459.4 639.0,462.7 645.6,467.1 641.2,470.4 634.6,471.5 630.2,474.8 621.5,472.6 616.0,469.3" fill="#bbe8ff"/>
<polygon points="646.7,456.1 652.1,455.0 655.4,459.4 652.1,464.9 648.9,469.3 646.7,462.7" fill="#a83800"/>
<polygon points="678.4,453.9 687.2,453.9 696.0,456.1 702.5,461.6 701.4,469.3 698.2,475.8 691.6,478.0 686.1,473.7 683.9,464.9 679.5,460.5" fill="#a83800"/>
<polygon points="696.0,481.3 701.4,475.8 705.8,475.8 709.1,482.4 704.7,487.9 699.2,486.8" fill="#a83800"/>
<polygon points="659.8,482.4 665.3,481.3 667.5,489.0 665.3,493.4 660.9,491.2" fill="#ffbebe"/>
<polygon points="634.6,475.8 641.2,474.8 643.4,480.2 639.0,484.6 634.6,482.4" fill="#ffbebe"/>
<polygon points="639.0,484.6 643.4,480.2 649.9,482.4 653.2,491.2 652.1,497.8 643.4,498.9 637.9,495.6" fill="#00a0e6"/>
<polygon points="643.4,495.6 647.8,494.5 649.9,503.0 644.5,503.0" fill="#a83800"/>
<polygon points="530.5,497.8 540.4,493.4 550.3,495.6 555.7,503.0 529.4,503.0" fill="#00a0e6"/>
<polygon points="490.0,436.4 496.6,434.2 503.1,438.6 509.7,443.0 514.1,449.6 511.9,455.0 503.1,460.5 496.6,464.9 490.0,466.0" fill="#bbe8ff"/>
<polygon points="490.0,471.5 496.6,469.3 501.0,462.7 511.9,455.0 516.3,451.7 515.2,458.3 517.4,467.1 516.3,475.8 518.5,484.6 511.9,489.0 503.1,493.4 494.4,494.5 490.0,493.4" fill="#bbe8ff"/>
<polygon points="661.3,322.9 667.9,320.7 676.7,321.8 684.4,322.9 687.6,329.4 694.2,327.2 697.5,320.7 695.3,314.1 701.9,309.7 708.5,309.7 715.0,308.6 721.6,316.3 727.1,316.3 728.2,322.9 729.3,328.3 723.8,332.7 718.3,337.1 715.0,342.6 716.1,348.1 709.6,353.5 703.0,355.7 694.2,352.4 683.3,352.4 672.3,350.3 665.7,348.1 667.9,340.4 670.1,333.8 664.6,329.4" fill="#ffbebe"/>
<polygon points="665.7,348.1 672.3,350.3 683.3,352.4 694.2,352.4 703.0,355.7 699.7,360.1 694.2,364.5 689.8,370.0 682.2,372.2 677.8,377.6 671.2,378.7 664.6,376.5 658.1,374.4 663.5,364.5 664.6,355.7" fill="#ffbebe"/>
<polygon points="682.2,372.2 689.8,370.0 696.4,371.1 698.6,376.5 697.5,380.9 690.9,379.8 686.5,380.9 683.3,376.5" fill="#00a0e6"/>
<polygon points="655.9,341.5 662.4,340.4 664.6,348.1 664.6,355.7 663.5,364.5 658.1,366.7 655.9,360.1 658.1,353.5 655.9,348.1" fill="#bbe8ff"/>
<polygon points="632.9,353.5 641.6,352.4 649.3,357.9 657.0,361.2 658.1,366.7 652.6,370.0 647.1,370.0 641.6,366.7 636.2,360.1" fill="#bbe8ff"/>
<polygon points="621.9,351.3 632.9,351.3 632.9,354.6 624.1,355.7" fill="#00a0e6"/>
<polygon points="619.7,375.5 624.1,372.2 629.6,375.5 635.1,376.5 636.2,380.9 630.7,382.0 624.1,383.1 620.8,379.8" fill="#a83800"/>
<polygon points="643.8,376.5 647.1,370.0 652.6,374.4 658.1,374.4 664.6,376.5 671.2,378.7 674.5,386.4 669.0,390.8 663.5,393.0 660.3,399.6 653.7,397.4 650.4,390.8 643.8,388.6 641.6,383.1" fill="#bbe8ff"/>
<polygon points="644.9,390.8 650.4,389.7 650.4,397.4 648.2,406.1 643.8,408.3 642.7,401.7" fill="#a83800"/>
<polygon points="624.1,406.1 630.7,403.9 638.3,406.1 643.8,412.7 641.6,419.3 636.2,423.7 628.5,421.5 625.2,414.9" fill="#bbe8ff"/>
<polygon points="629.6,384.2 634.0,383.1 636.2,388.6 635.1,395.2 630.7,393.0" fill="#bbe8ff"/>
<polygon points="654.8,403.9 660.3,401.7 662.4,410.5 663.5,421.5 658.1,423.7 654.8,414.9" fill="#ffbebe"/>
<polygon points="671.2,413.8 677.8,411.6 681.1,417.1 676.7,421.5 672.3,419.3" fill="#bbe8ff"/>
<polygon points="681.1,414.9 689.8,412.7 696.4,417.1 694.2,423.7 685.5,424.8" fill="#ffbebe"/>
<polygon points="607.7,412.7 613.1,410.5 616.4,418.2 612.1,419.3 608.8,417.1" fill="#a83800"/>
<polygon points="600.0,421.5 606.6,420.4 607.7,424.8 602.2,428.0 600.0,426.9" fill="#a83800"/>
<polygon points="600.0,430.2 606.6,430.2 609.9,436.8 604.4,441.2 600.0,441.2" fill="#00a0e6"/>
<polygon points="616.4,447.8 621.9,444.5 630.7,441.2 639.4,436.8 648.2,435.7 657.0,439.0 654.8,445.6 653.7,451.0 648.2,447.8 641.6,443.4 635.1,447.8 626.3,449.9 619.7,453.0" fill="#00a0e6"/>
<polygon points="722.7,439.0 727.1,425.8 731.5,421.5 740.2,425.8 746.8,428.0 753.4,430.2 764.3,433.5 769.8,436.8 772.0,447.8 774.2,453.0 722.7,453.0" fill="#bbe8ff"/>
<polygon points="677.4,454.1 683.9,455.2 692.7,458.5 698.2,456.3 702.6,462.9 701.5,470.5 697.1,471.6 692.7,476.0 688.3,474.9 685.0,467.2 679.6,462.9" fill="#a83800"/>
<polygon points="694.9,482.6 700.4,477.1 705.8,472.7 708.0,480.4 706.9,487.0 701.5,488.1 697.1,485.9" fill="#a83800"/>
<polygon points="723.4,430.0 754.0,430.0 762.8,432.2 770.5,438.8 774.9,450.8 766.1,450.8 760.6,454.1 756.2,448.6 749.7,450.8 743.1,454.1 738.7,460.7 732.1,458.5 726.7,456.3 723.4,451.9 721.2,442.1" fill="#bbe8ff"/>
<polygon points="646.7,456.3 652.2,455.2 654.4,459.6 652.2,467.2 647.8,465.1" fill="#a83800"/>
<polygon points="634.6,477.1 640.1,476.0 643.4,481.5 639.0,484.8 635.7,482.6" fill="#ffbebe"/>
<polygon points="637.9,484.8 643.4,481.5 648.9,484.8 653.3,489.2 654.4,495.7 652.2,500.1 645.6,501.2 640.1,497.9 635.7,493.5" fill="#00a0e6"/>
<polygon points="643.4,495.7 648.9,497.9 654.4,500.1 653.3,504.5 646.7,504.5 643.4,501.2" fill="#a83800"/>
<polygon points="659.8,483.7 664.2,481.5 667.5,487.0 665.3,492.4 660.9,490.3" fill="#ffbebe"/>
<polygon points="689.4,491.3 694.9,487.0 701.5,489.2 700.4,495.7 697.1,502.3 691.6,503.4 689.4,497.9" fill="#bbe8ff"/>
<polygon points="679.6,517.6 688.3,515.5 698.2,516.5 701.5,519.8 694.9,523.1 686.1,523.1" fill="#00a0e6"/>
<polygon points="701.5,519.8 710.2,516.5 721.2,516.5 726.7,519.8 727.8,526.4 727.8,534.1 721.2,537.4 716.8,533.0 712.4,526.4 705.8,524.2" fill="#ffbebe"/>
<polygon points="643.4,541.7 651.1,539.6 659.8,541.7 662.0,549.4 657.6,554.9 651.1,553.8 644.5,550.5" fill="#ffbebe"/>
<polygon points="677.4,548.3 683.9,541.7 689.4,539.6 697.1,540.6 703.7,542.8 705.8,547.2 699.3,551.6 694.9,550.5 689.4,553.8 681.7,556.0 675.2,561.5 670.8,565.8 669.7,557.1" fill="#ffbebe"/>
<polygon points="705.8,547.2 709.1,540.6 715.7,537.4 721.2,537.4 724.5,543.9 721.2,551.6 712.4,552.7" fill="#00a0e6"/>
<polygon points="697.1,537.4 704.8,537.4 705.8,539.6 699.3,539.6" fill="#00a0e6"/>
<polygon points="610.5,473.8 617.1,472.7 621.5,474.9 619.3,481.5 613.8,483.7 609.4,481.5" fill="#a83800"/>
<polygon points="570.0,502.3 578.8,504.5 591.9,506.7 599.6,506.7 602.9,513.3 605.1,518.7 598.5,522.0 591.9,523.1 585.3,525.3 581.0,530.8 578.8,535.2 570.0,537.4" fill="#00a0e6"/>
<polygon points="567.8,537.4 578.8,535.2 581.0,539.6 583.1,548.3 578.8,552.7 567.8,551.6" fill="#bbe8ff"/>
<polygon points="574.4,489.2 583.1,487.0 591.9,489.2 594.1,495.7 590.8,502.3 583.1,504.5 576.6,500.1" fill="#a83800"/>
<polygon points="481.3,468.7 487.2,468.1 491.4,471.7 494.4,468.7 497.4,470.5 499.8,466.3 501.0,462.7 507.0,459.1 511.8,455.6 515.4,452.6 517.8,449.6 514.2,455.6 513.6,461.5 516.6,466.3 517.8,472.3 518.3,478.3 516.6,484.3 518.9,490.2 522.5,496.2 517.8,495.6 511.8,495.0 507.0,494.4 499.8,495.0 495.6,496.2 493.8,499.8 495.0,503.4 491.4,507.0 487.8,509.4 485.5,508.2 484.3,504.6 481.9,499.8 480.1,496.2 481.3,489.0 478.3,485.5 483.1,481.9 485.5,475.9 483.1,469.9" fill="#bbe8ff"/>
<polygon points="495.6,496.2 499.8,495.0 507.0,494.4 511.8,495.0 517.8,495.6 522.5,496.2 526.1,500.4 529.7,501.0 528.5,507.0 523.7,511.8 520.1,517.8 516.6,522.5 510.6,523.7 507.0,526.1 502.2,524.9 502.2,514.2 501.6,510.6 498.6,505.8 495.0,503.4 493.8,499.8" fill="#ffffbe"/>
<polygon points="510.6,477.1 513.0,474.7 517.8,474.7 517.8,479.5 514.8,481.3 511.8,480.1" fill="#ffbebe"/>
<polygon points="490.2,507.0 495.0,503.4 498.6,505.8 501.6,510.6 502.2,514.2 497.4,516.6 493.2,516.6 492.0,511.8" fill="#bbe8ff"/>
<polygon points="460.9,505.2 465.1,501.0 475.9,498.6 480.7,498.6 481.9,499.8 484.3,504.6 485.5,508.2 487.8,509.4 491.4,511.8 490.2,516.6 485.5,517.2 480.7,517.8 477.1,514.2 472.3,513.0 467.5,511.8 462.7,511.8 463.9,508.2" fill="#a83800"/>
<polygon points="510.6,523.7 516.6,522.5 520.1,517.8 523.7,513.0 528.5,511.8 534.5,516.6 539.3,520.1 541.7,529.0 511.8,529.0" fill="#ffbebe"/>
<polygon points="497.4,523.7 502.2,524.9 507.0,526.1 508.2,529.0 497.4,529.0" fill="#00a0e6"/>
<polygon points="517.8,449.6 522.5,450.2 527.3,452.0 532.1,454.4 535.7,457.9 541.7,460.3 545.3,463.9 550.0,469.9 551.2,475.9 547.7,481.9 544.1,478.3 539.3,474.7 534.5,473.5 530.9,479.5 528.5,485.5 523.7,483.1 518.9,484.3 518.3,478.3 517.8,472.3 516.6,466.3 513.6,461.5 514.2,455.6" fill="#00a0e6"/>
<polygon points="518.9,484.3 523.7,483.1 528.5,485.5 530.9,479.5 534.5,473.5 539.3,474.7 544.1,478.3 547.7,481.9 548.9,487.8 550.6,493.2 545.3,494.4 539.3,493.8 534.5,495.0 529.7,501.0 526.1,500.4 522.5,496.2 518.9,490.2 516.6,484.3" fill="#bbe8ff"/>
<polygon points="529.7,501.0 534.5,495.0 539.3,493.8 545.3,494.4 550.6,493.2 554.8,498.6 556.0,504.6 554.8,511.8 552.4,516.6 551.8,522.5 547.7,526.1 546.5,529.0 544.1,523.7 540.5,518.9 535.7,514.2 530.9,510.6 527.3,507.0" fill="#00a0e6"/>
<polygon points="541.7,453.2 545.3,448.4 550.0,444.8 556.0,442.4 557.2,447.2 554.8,453.2 551.2,457.9 546.5,459.1" fill="#a83800"/>
<polygon points="403.3,474.4 411.0,471.1 417.5,476.6 421.9,481.0 430.7,483.1 435.1,488.6 431.8,494.1 424.1,491.9 417.5,489.7 411.0,487.5 406.6,482.1" fill="#00a0e6"/>
<polygon points="431.8,494.1 435.1,488.6 441.6,494.1 443.8,502.9 432.9,499.6" fill="#bbe8ff"/>
<polygon points="450.4,522.6 459.2,517.1 467.9,514.9 476.7,517.1 476.7,523.7 473.4,529.2 465.7,533.5 457.0,534.6 451.5,530.3" fill="#bbe8ff"/>
<polygon points="493.1,529.2 498.6,524.8 505.2,523.7 509.6,527.0 506.3,533.5 499.7,535.7 495.3,533.5" fill="#00a0e6"/>
<polygon points="509.6,528.1 516.1,522.6 520.5,516.0 527.1,511.6 533.7,513.8 540.2,519.3 542.4,524.8 538.0,530.3 531.5,527.0 528.2,522.6 523.8,527.0 522.7,533.5 518.3,535.7 513.9,532.4" fill="#ffbebe"/>
<polygon points="529.3,522.6 540.2,519.3 542.4,524.8 549.0,522.6 555.6,527.0 562.1,532.4 568.7,535.7 575.3,534.6 578.8,535.1 581.9,544.5 585.1,554.4 575.3,553.3 568.7,556.5 563.2,559.8 561.0,562.0 562.1,568.6 565.4,575.2 564.3,581.7 553.4,580.6 546.8,579.6 540.2,577.4 535.8,573.0 531.5,566.4 528.2,557.6 533.7,551.1 538.0,544.5 531.5,535.7 526.0,531.3" fill="#bbe8ff"/>
<polygon points="497.5,550.0 503.0,548.9 509.6,552.2 513.9,555.5 509.6,556.5 503.0,554.4" fill="#a83800"/>
<polygon points="494.2,554.4 500.8,552.2 509.6,556.5 513.9,559.8 509.6,564.2 503.0,563.1 497.5,559.8" fill="#bbe8ff"/>
<polygon points="474.5,556.5 481.1,552.2 487.6,551.1 494.2,554.4 497.5,559.8 494.2,565.3 487.6,567.5 482.2,564.2 476.7,562.0" fill="#ffbebe"/>
<polygon points="472.3,568.6 476.7,562.0 482.2,564.2 487.6,567.5 486.5,575.2 481.1,578.5 474.5,576.3" fill="#ffbebe"/>
<polygon points="494.2,569.7 500.8,565.3 509.6,564.2 512.8,569.7 509.6,577.4 505.2,581.7 498.6,582.8 495.3,576.3" fill="#ffbebe"/>
<polygon points="509.6,564.2 513.9,559.8 521.6,560.9 524.9,568.6 529.3,577.4 522.7,580.6 516.1,577.4 512.8,569.7" fill="#bbe8ff"/>
<polygon points="521.6,558.7 526.0,556.5 531.5,566.4 535.8,573.0 538.0,577.4 529.3,577.4 524.9,568.6" fill="#ffbebe"/>
<polygon points="488.7,586.1 494.2,580.6 500.8,583.9 504.1,591.6 500.8,598.2 494.2,599.3 489.8,592.7" fill="#ffbebe"/>
<polygon points="504.1,583.9 509.6,577.4 516.1,577.4 521.6,580.6 516.1,586.1 512.8,592.7 513.9,601.5 512.8,609.1 507.4,613.5 503.0,605.8 504.1,597.1 504.1,591.6" fill="#00a0e6"/>
<polygon points="482.2,592.7 486.5,587.2 489.8,592.7 494.2,599.3 500.8,598.2 504.1,601.5 503.0,605.8 500.8,612.4 497.5,616.8 493.1,610.2 487.6,608.0 484.4,599.3" fill="#00a0e6"/>
<polygon points="423.0,621.2 427.4,614.6 429.6,608.0 435.1,603.7 443.8,600.4 452.6,601.5 461.3,599.3 465.7,601.5 466.8,610.2 465.7,619.0 463.5,627.8 457.0,629.9 450.4,631.0 441.6,631.0 432.9,633.0 425.2,633.0" fill="#00a0e6"/>
<polygon points="447.1,573.0 452.6,569.7 457.0,573.0 459.2,579.6 454.8,586.1 452.6,592.7 454.8,599.3 452.6,601.5 443.8,600.4 435.1,603.7 437.2,594.9 441.6,588.3 443.8,579.6" fill="#bbe8ff"/>
<polygon points="452.6,569.7 454.8,567.5 459.2,569.7 458.1,575.2 455.9,574.1" fill="#00a0e6"/>
<polygon points="400.0,524.8 406.6,522.6 413.1,527.0 419.7,533.5 417.5,542.3 411.0,546.7 404.4,544.5 400.0,542.3" fill="#bbe8ff"/>
<polygon points="400.0,555.5 406.6,556.5 411.0,562.0 413.1,568.6 406.6,570.8 400.0,566.4" fill="#00a0e6"/>
<polygon points="400.0,566.4 406.6,570.8 413.1,577.4 417.5,583.9 415.3,592.7 411.0,601.5 408.8,610.2 404.4,619.0 400.0,623.4" fill="#bbe8ff"/>
<polygon points="400.0,627.8 408.8,625.6 415.3,629.9 416.4,633.0 400.0,633.0" fill="#ffbebe"/>
<polygon points="518.3,483.1 527.1,481.0 535.8,483.1 544.6,489.7 551.2,494.1 540.2,494.1 533.7,496.3 529.3,499.6 524.9,496.3 519.4,487.5" fill="#bbe8ff"/>
<polygon points="529.3,499.6 533.7,496.3 540.2,494.1 549.0,495.2 554.5,499.6 555.6,507.2 552.3,516.0 549.0,522.6 540.2,519.3 533.7,513.8 529.3,509.4" fill="#00a0e6"/>
<polygon points="555.6,507.2 562.1,506.2 570.9,505.1 579.7,502.9 588.4,502.9 595.0,506.2 592.8,513.8 597.2,519.3 604.9,519.3 597.2,522.6 586.2,524.8 581.0,530.7 578.8,535.1 575.3,534.6 568.7,535.7 562.1,532.4 555.6,527.0 549.0,522.6 552.3,516.0" fill="#00a0e6"/>
<polygon points="553.4,494.1 562.1,490.8 570.9,493.0 574.2,498.5 570.9,505.1 562.1,506.2 555.6,507.2 554.5,499.6" fill="#bbe8ff"/>
<polygon points="568.7,483.1 575.3,479.9 581.9,481.0 581.9,487.5 588.4,485.3 595.0,489.7 593.9,498.5 588.4,502.9 579.7,502.9 575.3,496.3 573.1,489.7" fill="#a83800"/>
<polygon points="592.8,483.1 597.2,478.8 606.0,479.9 610.3,487.5 607.1,495.2 600.7,499.6 595.0,498.5 595.0,489.7" fill="#00a0e6"/>
<polygon points="610.3,474.4 620.0,472.2 620.0,483.1 613.6,483.1" fill="#a83800"/>
<polygon points="260.4,552.6 264.8,543.8 263.7,535.1 271.3,534.0 275.7,528.5 282.3,532.9 288.9,536.2 290.0,542.7 284.5,547.1 275.7,550.4 268.1,552.6" fill="#a83800"/>
<polygon points="259.3,558.1 268.1,552.6 275.7,550.4 284.5,551.5 287.8,558.1 282.3,562.4 285.6,567.9 291.1,572.3 284.5,577.8 277.9,584.4 272.4,586.5 271.3,576.7 272.4,567.9 267.0,563.5" fill="#00a0e6"/>
<polygon points="282.3,562.4 288.9,560.3 297.6,561.3 304.2,562.4 300.9,567.9 296.5,571.2 291.1,572.3 285.6,567.9" fill="#00a0e6"/>
<polygon points="291.1,573.4 296.5,571.2 303.1,573.4 307.5,576.7 305.3,582.2 299.8,580.0 294.4,577.8" fill="#ffbebe"/>
<polygon points="246.2,596.4 252.7,590.9 261.5,588.7 271.3,590.9 276.8,596.4 275.7,600.8 272.4,607.4 265.9,611.7 259.3,618.3 254.9,621.6 251.6,622.7 242.9,621.6 237.4,613.9 240.7,609.6 251.6,610.6 258.2,607.4 259.3,601.9 252.7,598.6" fill="#00a0e6"/>
<polygon points="245.1,600.8 252.7,598.6 259.3,601.9 258.2,607.4 251.6,610.6 242.9,609.6" fill="#ffffbe"/>
<polygon points="272.4,607.4 275.7,600.8 280.1,597.5 286.7,594.2 294.4,594.2 296.5,598.6 302.0,603.0 309.7,596.4 317.4,598.6 318.5,607.4 313.0,611.7 304.2,613.9 297.6,618.3 288.9,620.5 280.1,619.4 273.5,617.2 270.3,612.8" fill="#bbe8ff"/>
<polygon points="257.1,619.4 265.9,611.7 270.3,612.8 273.5,617.2 280.1,619.4 288.9,620.5 294.4,621.6 293.3,631.5 291.1,640.2 284.5,643.5 275.7,644.6 268.1,642.4 265.9,633.7 263.7,627.1 257.1,627.1" fill="#00a0e6"/>
<polygon points="252.7,636.9 257.1,638.0 261.5,642.4 264.8,646.8 259.3,645.7 254.9,642.4" fill="#00a0e6"/>
<polygon points="383.1,537.2 387.5,532.9 396.2,535.1 402.8,539.4 407.2,546.0 408.3,552.6 402.8,554.8 396.2,553.7 389.7,551.5 385.3,546.0" fill="#bbe8ff"/>
<polygon points="397.3,558.1 402.8,554.8 408.3,557.0 412.7,563.5 416.0,569.0 409.4,570.1 402.8,565.7 398.4,562.4" fill="#00a0e6"/>
<polygon points="396.2,576.7 402.8,572.3 411.6,574.5 417.1,581.1 416.0,592.0 413.8,603.0 409.4,613.9 405.0,622.7 400.6,618.3 397.3,609.6 396.2,598.6 395.1,587.6" fill="#bbe8ff"/>
<polygon points="391.9,616.1 397.3,609.6 400.6,618.3 405.0,622.7 411.6,629.3 417.1,631.5 413.8,635.8 407.2,638.0 400.6,634.8 394.0,629.3 390.8,622.7" fill="#ffbebe"/>
<polygon points="337.1,574.5 343.7,571.2 346.9,564.6 354.6,563.5 359.0,567.9 359.0,574.5 352.4,577.8 349.1,583.3 341.5,585.5 338.2,580.0" fill="#ffbebe"/>
<polygon points="352.4,603.0 359.0,598.6 365.6,600.8 369.9,607.4 373.2,616.1 376.5,624.9 369.9,624.9 363.4,618.3 359.0,609.6" fill="#bbe8ff"/>
<polygon points="374.3,508.8 380.9,502.2 387.5,500.0 394.0,504.4 398.4,511.0 396.2,517.5 391.9,524.1 387.5,530.7 383.1,528.5 380.9,521.9 376.5,515.3" fill="#00a0e6"/>
<polygon points="400.6,508.8 407.2,502.2 416.0,501.1 421.4,506.6 420.3,515.3 413.8,518.6 407.2,520.8 402.8,515.3" fill="#a83800"/>
<polygon points="345.8,500.0 359.0,500.0 363.4,506.6 369.9,513.1 376.5,524.1 373.2,527.4 367.8,525.2 361.2,523.0 354.6,519.7 348.0,515.3 345.8,508.8" fill="#ffbebe"/>
<polygon points="290.0,500.0 299.8,500.0 300.9,506.6 295.5,509.9 291.1,506.6" fill="#ffbebe"/>
<polygon points="317.4,500.0 332.7,500.0 339.3,506.6 341.5,513.1 334.9,511.0 326.1,506.6" fill="#bbe8ff"/>
<polygon points="425.8,618.3 430.0,613.9 430.0,629.3 426.9,627.1" fill="#00a0e6"/>
<polygon points="210.0,530.7 216.6,528.5 223.1,531.8 222.1,537.2 216.6,539.4 210.0,537.2" fill="#bbe8ff"/>
<polygon points="445.3,399.2 451.7,398.6 458.2,397.9 463.4,396.6 462.1,391.5 458.2,390.8 463.4,388.9 469.9,386.3 472.4,385.0 477.6,385.0 482.8,388.9 489.3,386.3 490.6,385.0 507.4,385.0 510.0,391.5 508.7,397.9 511.3,404.4 507.4,407.0 504.8,410.9 507.4,417.3 513.8,421.2 521.6,423.8 525.5,426.4 526.8,432.9 524.2,438.0 519.0,440.6 521.6,445.8 519.0,448.4 512.5,453.6 507.4,458.7 502.2,462.6 499.6,470.4 495.7,471.7 490.6,467.8 484.1,465.2 477.6,470.4 475.0,465.2 473.7,460.0 476.3,454.9 472.4,451.0 467.3,445.8 466.0,441.9 467.3,435.5 466.0,429.0 463.4,425.1 460.8,419.9 455.6,419.9 449.2,418.6 444.0,414.8 437.5,412.2 440.1,408.3 441.4,403.1" fill="#ffffbe"/>
<polygon points="466.0,441.9 472.4,436.7 480.2,427.7 488.0,422.5 493.1,413.5 500.9,416.0 507.4,421.2 512.5,426.4 516.4,427.7 521.6,430.3 524.2,436.7 521.6,443.2 519.0,448.4 512.5,453.6 507.4,458.7 502.2,462.6 499.6,470.4 494.4,469.1 489.3,467.8 482.8,465.2 476.3,463.9 473.7,460.0 476.3,454.9 472.4,451.0 467.3,445.8" fill="#bbe8ff"/>
<polygon points="463.4,390.2 467.3,387.6 472.4,390.2 477.6,391.5 482.8,392.8 480.2,395.3 475.0,397.9 469.9,399.2 464.7,396.6" fill="#bbe8ff"/>
<polygon points="477.6,470.4 484.1,465.2 490.6,467.8 495.7,471.7 499.6,470.4 502.2,462.6 507.4,458.7 512.5,453.6 516.4,453.6 515.1,460.0 516.4,469.1 513.8,474.3 511.3,476.8 511.3,481.2 482.8,481.2 485.4,475.6 484.1,470.4" fill="#bbe8ff"/>
<polygon points="436.2,436.7 438.8,434.2 444.0,436.1 447.9,433.5 451.7,435.5 453.7,439.3 451.7,443.2 446.6,444.5 441.4,445.2 437.5,448.4 435.6,447.1 438.2,441.9" fill="#a83800"/>
<polygon points="444.6,445.8 449.2,444.5 453.0,445.8 451.7,451.0 447.9,454.9 444.6,452.3" fill="#ffbebe"/>
<polygon points="444.0,457.4 447.9,454.9 451.7,451.0 455.6,456.2 459.5,461.3 456.9,465.2 451.7,467.8 446.6,465.2 444.6,461.3" fill="#bbe8ff"/>
<polygon points="473.7,474.3 477.6,470.4 484.1,470.4 485.4,475.6 482.8,481.2 473.1,481.2" fill="#a83800"/>
<polygon points="489.0,383.9 491.4,380.7 496.2,379.9 501.8,381.5 505.7,383.9 508.5,386.3 508.9,391.8 507.3,397.4 504.1,396.6 499.4,395.8 497.0,393.4 495.4,389.5 491.4,388.7" fill="#bbe8ff"/>
<polygon points="461.9,391.8 465.1,389.5 469.1,387.9 473.1,387.1 476.3,391.1 480.3,392.6 477.1,395.0 473.9,398.2 469.1,399.0 465.1,397.4" fill="#bbe8ff"/>
<polygon points="505.7,376.7 510.5,375.9 513.7,379.9 517.7,383.1 521.7,387.1 524.0,391.8 525.6,398.2 524.8,404.6 520.1,406.2 515.3,404.6 509.7,403.0 508.9,397.4 509.7,391.8 509.3,385.5 507.3,381.5" fill="#bbe8ff"/>
<polygon points="491.4,414.1 494.6,412.5 499.4,414.1 504.1,415.7 507.3,419.0 492.2,419.0" fill="#bbe8ff"/>
<polygon points="687.9,100.7 690.3,97.5 692.7,93.6 695.1,89.6 697.9,87.2 704.2,87.2 707.8,90.8 710.6,94.0 711.8,98.3 715.4,99.1 716.6,102.3 717.4,107.1 715.8,110.3 716.6,112.7 714.2,115.8 711.8,119.0 707.0,121.4 702.3,121.4 697.5,120.6 694.3,118.2 691.1,115.8 689.5,113.5 687.1,111.1 689.5,107.9 689.5,103.9" fill="#00a0e6"/>
<polygon points="715.4,99.1 716.6,97.5 719.0,95.1 723.4,94.4 727.3,96.7 731.7,98.7 732.1,104.7 734.1,107.9 733.3,111.1 731.7,115.8 729.3,119.8 726.1,122.2 721.4,123.8 716.6,124.6 711.8,123.0 707.0,121.4 711.8,119.0 714.2,115.8 716.6,112.7 715.8,110.3 717.4,107.1 716.6,102.3" fill="#00a0e6"/>
<polygon points="678.8,119.0 683.9,117.4 687.9,115.8 691.1,115.8 694.3,118.2 697.5,120.6 702.3,121.4 707.0,122.2 705.4,125.4 703.8,128.6 698.3,129.4 696.7,131.0 699.1,133.4 699.9,135.0 695.1,138.1 690.3,140.5 685.9,137.3 682.7,135.8 678.4,131.8 679.2,128.6 682.4,125.4 680.8,122.2" fill="#ffbebe"/>
<polygon points="696.7,131.0 698.3,129.4 703.8,128.6 705.4,125.4 707.8,123.0 711.8,124.6 715.0,128.6 713.4,133.4 711.8,135.8 708.6,135.0 707.0,136.5 703.8,134.2 699.9,135.0 699.1,133.4" fill="#00a0e6"/>
<polygon points="707.0,136.5 708.6,135.0 711.8,135.8 716.6,135.0 721.4,137.3 726.1,139.7 727.7,143.0 701.5,143.0 706.2,141.3" fill="#00a0e6"/>
<polygon points="664.8,452.5 669.6,446.2 669.6,436.6 679.1,435.8 688.7,439.8 696.6,443.0 699.8,447.8 704.6,454.1 699.8,455.7 691.8,452.5 683.9,451.0 675.9,451.0 669.6,451.8" fill="#bbe8ff"/>
<polygon points="697.4,442.2 707.8,439.8 721.3,440.6 722.1,451.0 723.7,460.5 722.9,468.5 712.5,469.3 706.2,470.1 703.0,463.7 704.6,454.1 699.8,447.8" fill="#ffbebe"/>
<polygon points="671.9,415.9 675.9,411.9 680.7,413.5 679.1,419.1 675.1,421.5" fill="#bbe8ff"/>
<polygon points="680.7,415.9 685.5,413.5 691.8,415.1 694.2,419.1 688.7,421.5 682.3,420.7" fill="#ffbebe"/>
<polygon points="263.5,431.0 267.5,427.0 273.9,423.0 281.8,416.6 289.8,411.8 291.4,405.5 299.4,406.3 304.1,403.9 305.7,397.5 313.7,400.7 320.1,399.9 328.0,395.9 334.4,395.1 336.8,399.1 331.2,403.9 332.0,411.8 328.8,418.2 332.8,426.2 329.6,431.0 322.5,427.8 320.9,434.1 320.1,440.5 315.3,445.3 316.9,451.7 310.5,453.2 302.5,452.5 294.6,451.7 288.2,450.1 280.3,450.9 272.3,451.7 265.9,450.1 263.5,443.7 265.1,437.3" fill="#ffbebe"/>
<polygon points="527.9,422.7 526.7,429.9 525.6,437.1 523.2,444.3 527.9,445.5 530.3,440.7 530.9,435.9 535.1,434.7 538.7,429.9 542.9,428.7 547.1,433.5 551.3,437.1 551.9,444.3 556.1,441.9 559.0,444.3 562.6,443.1 565.0,449.0 567.4,446.7 568.6,441.9 571.0,439.5 575.2,435.9 578.2,434.7 575.8,429.9 575.2,426.3 578.2,422.7 577.0,417.9 573.4,413.2 569.8,407.2 566.2,402.4 562.6,401.2 557.8,403.6 551.9,407.2 545.9,410.8 539.9,414.4 533.9,417.9 530.3,420.3" fill="#00a0e6"/>
<polygon points="561.4,417.9 565.0,412.0 568.6,413.2 572.2,417.9 575.8,421.5 571.0,423.9 567.4,425.7 563.8,422.7" fill="#ffbebe"/>
<polygon points="575.2,426.3 578.2,422.7 584.2,423.9 588.9,423.3 592.5,425.7 593.7,429.9 590.1,433.5 586.6,434.7 581.8,434.1 578.2,434.7 575.8,429.9" fill="#bbe8ff"/>
<polygon points="590.1,435.9 593.7,431.1 597.3,433.5 602.1,434.7 605.7,429.9 608.7,434.7 608.1,438.3 603.3,439.5 597.3,438.9 592.5,438.3" fill="#00a0e6"/>
<polygon points="567.4,446.7 571.0,439.5 575.2,435.9 579.4,435.9 581.8,440.7 583.0,446.7 579.4,450.2 575.8,452.6 572.2,450.2 568.6,449.0" fill="#bbe8ff"/>
<polygon points="561.4,456.2 565.0,452.6 568.6,449.0 572.2,450.2 575.8,452.6 574.6,457.4 572.2,461.0 567.4,459.8 563.8,458.6" fill="#bbe8ff"/>
<polygon points="575.8,452.6 579.4,450.2 584.2,447.8 588.9,450.2 591.3,455.0 587.8,458.6 583.0,457.4 578.2,459.8 574.6,457.4" fill="#bbe8ff"/>
<polygon points="591.3,458.6 596.1,459.8 602.1,461.0 605.7,464.6 604.5,471.8 600.9,475.4 596.1,474.2 593.7,470.6 592.5,464.6" fill="#00a0e6"/>
<polygon points="603.3,462.2 608.1,457.4 612.9,456.2 615.3,462.2 614.1,468.2 611.7,474.2 605.7,476.6 604.5,471.8 605.7,464.6" fill="#bbe8ff"/>
<polygon points="539.9,456.2 543.5,447.8 549.5,444.3 556.1,441.9 556.7,447.8 554.3,453.8 550.7,458.6 544.7,457.4" fill="#a83800"/>
<polygon points="525.0,452.6 529.1,449.0 533.9,451.4 539.9,456.2 544.7,457.4 550.7,458.6 549.5,462.2 533.9,462.2 527.9,459.8" fill="#00a0e6"/>
<polygon points="517.2,451.4 523.2,450.2 525.0,452.6 527.9,459.8 530.3,464.6 531.5,474.2 533.9,481.3 529.1,483.7 523.2,482.5 520.8,489.0 517.2,489.0 516.0,477.8 515.4,467.0 514.8,457.4" fill="#00a0e6"/>
<polygon points="531.5,476.6 537.5,475.4 541.1,478.9 539.9,484.9 537.5,489.0 526.7,489.0 527.9,483.7" fill="#bbe8ff"/>
<polygon points="539.9,475.4 545.9,474.2 551.3,476.6 550.7,482.5 545.9,483.7 542.3,481.3" fill="#00a0e6"/>
<polygon points="511.2,476.6 514.8,470.6 518.4,474.2 517.8,480.1 513.6,482.5" fill="#ffbebe"/>
<polygon points="577.0,477.8 581.8,474.8 587.8,476.6 590.1,481.3 586.6,486.1 583.0,483.7 578.2,482.5" fill="#ffbebe"/>
<polygon points="568.6,482.5 572.2,480.1 578.2,482.5 583.0,483.7 581.8,489.0 569.8,489.0" fill="#a83800"/>
<polygon points="587.8,483.7 590.1,478.9 594.9,478.9 595.5,489.0 586.6,489.0" fill="#a83800"/>
<polygon points="595.5,480.1 600.9,478.9 605.7,481.3 606.9,489.0 596.1,489.0" fill="#00a0e6"/>
<polygon points="610.5,474.2 614.1,470.6 620.0,474.2 618.9,481.3 615.3,484.9 610.5,482.5" fill="#a83800"/>
<polygon points="597.3,407.2 600.9,402.4 605.7,403.6 608.1,408.4 606.9,414.4 603.3,417.9 598.5,415.6 596.1,412.0" fill="#bbe8ff"/>
<polygon points="608.1,412.0 611.7,409.6 615.3,412.0 616.5,416.7 612.9,419.7 609.3,417.9" fill="#a83800"/>
<polygon points="600.3,422.1 604.5,420.3 608.1,421.5 607.5,425.7 603.3,426.9 600.3,425.7" fill="#a83800"/>
<polygon points="615.3,447.8 620.0,445.5 624.8,443.1 630.0,440.7 630.0,447.8 626.0,450.2 621.2,452.6 617.7,451.4" fill="#00a0e6"/>
<polygon points="617.7,459.8 622.4,457.4 630.0,456.2 630.0,467.0 623.6,468.2 618.9,465.8" fill="#bbe8ff"/>
<polygon points="261.5,645.6 267.0,642.3 275.7,644.5 284.5,643.4 291.1,640.1 297.6,637.9 306.4,635.7 315.2,636.8 319.6,640.1 323.9,644.5 329.4,640.1 331.6,633.5 336.0,632.4 337.1,624.8 339.3,617.1 343.7,610.5 350.2,608.3 356.8,609.4 363.4,617.1 367.8,624.8 376.5,630.3 382.0,635.7 379.8,644.5 378.7,647.8 373.2,652.2 367.8,655.5 363.4,659.8 359.0,664.2 355.7,668.6 352.4,669.7 352.4,673.0 353.5,679.6 349.1,681.7 351.3,688.3 350.2,694.9 343.7,696.0 341.5,701.5 338.2,705.8 332.7,706.9 328.3,711.3 321.7,712.4 315.2,708.0 310.8,703.7 309.7,694.9 308.6,686.1 306.4,681.7 299.8,679.6 293.3,675.2 284.5,673.0 273.5,671.9 264.8,673.0 262.6,669.7 260.4,662.0 257.1,655.5 254.9,648.9" fill="#bbe8ff"/>
<polygon points="329.4,640.1 332.7,633.5 337.1,633.5 343.7,640.1 354.6,647.8 350.2,652.2 341.5,651.1 332.7,650.0 326.1,645.6" fill="#ffffbe"/>
<polygon points="237.4,685.0 241.8,679.6 250.5,676.3 254.9,678.5 253.8,671.9 262.6,669.7 264.8,673.0 273.5,671.9 284.5,673.0 293.3,675.2 299.8,679.6 306.4,681.7 308.6,686.1 304.2,689.4 300.9,697.1 293.3,694.9 284.5,693.8 279.0,698.2 277.9,711.3 272.4,710.2 267.0,710.2 262.6,702.6 257.1,698.2 251.6,694.9 244.0,692.7" fill="#00a0e6"/>
<polygon points="277.9,709.1 279.0,698.2 284.5,693.8 293.3,694.9 300.9,697.1 304.2,689.4 308.6,686.1 309.7,694.9 310.8,703.7 315.2,708.0 315.2,712.4 314.1,719.0 307.5,720.1 302.0,723.4 297.6,724.5 295.5,715.7 290.0,713.5 284.5,710.2 280.1,715.7" fill="#ffffbe"/>
<polygon points="187.9,533.5 189.7,529.9 192.7,529.9 196.3,532.3 199.9,534.7 202.3,533.5 204.7,534.7 208.3,533.5 213.1,531.7 216.7,528.7 219.0,527.5 221.4,529.3 223.8,533.5 223.2,537.1 220.2,540.1 215.5,540.7 210.7,540.1 205.9,538.3 202.3,537.1 198.7,540.7 195.7,543.1 193.9,546.7 191.5,541.3 187.9,539.5 185.0,538.9" fill="#bbe8ff"/>
<polygon points="168.8,504.8 174.8,507.2 178.4,510.8 182.0,508.4 186.7,506.0 191.5,504.8 196.3,507.2 197.5,512.0 199.9,513.2 198.1,516.7 197.5,521.5 201.1,522.7 204.7,521.5 205.9,526.3 204.7,531.1 205.9,534.1 202.3,533.5 199.9,534.7 196.3,532.3 192.7,529.9 192.7,528.1 189.7,524.5 186.7,522.1 182.0,522.1 178.4,519.7 174.8,517.9 168.8,517.9" fill="#ffbebe"/>
<polygon points="208.3,500.0 227.4,500.0 222.6,503.6 219.0,506.0 214.3,507.2 209.5,506.0" fill="#ffbebe"/>
<polygon points="177.2,500.0 199.9,500.0 198.7,503.6 193.9,503.6 189.1,506.0 184.4,507.2 180.8,509.6 178.4,507.2" fill="#bbe8ff"/>
<g fill="none" stroke="#6e6e6e" stroke-width="0.9" stroke-linejoin="round">
<polyline points="696.8,145.7 704.8,141.7 708.8,137.7 710.7,134.7 717.7,135.7 725.7,137.7 727.7,145.7 728.7,151.6 739.6,154.6 738.6,159.6 736.6,165.6 734.6,164.6 726.7,165.6 719.7,162.6 714.7,159.6 707.8,158.6 701.8,154.6 696.8,145.7"/>
<polyline points="795.3,123.8 801.3,120.8 807.3,116.8 813.2,123.8 819.2,128.8 822.2,138.7 820.2,147.7 814.2,145.7 811.2,141.7 807.3,140.7 802.3,142.7 797.3,137.7 793.3,133.7 794.3,128.8 795.3,123.8"/>
<polyline points="750.5,170.5 755.5,165.6 762.5,161.6 768.5,164.6 773.4,167.6 779.4,171.5 785.4,172.5 792.3,171.5 795.3,173.5 792.3,178.5 789.4,183.5 790.3,188.5 785.4,193.4 779.4,197.4 771.4,199.4 767.5,197.4 763.5,191.4 762.5,185.5 757.5,181.5 752.5,178.5 750.5,170.5"/>
<polyline points="670.9,211.3 674.9,209.4 679.9,212.3 685.9,215.3 692.8,216.3 699.8,213.3 704.8,212.3 702.8,217.3 696.8,219.3 689.9,220.3 681.9,219.3 675.9,217.3 671.9,215.3 670.9,211.3"/>
<polyline points="739.6,112.8 743.6,108.9 749.6,105.9 756.5,100.9 762.5,98.9 767.5,100.9 770.4,105.9 775.4,107.9 776.4,107.9 776.4,93.9 785.4,93.9 783.4,108.9 787.4,110.8 793.3,112.8 799.3,117.8 795.3,123.8 794.3,128.8 793.3,133.7 787.4,135.7 781.4,137.7 774.4,135.7 768.5,133.7 764.5,134.7 763.5,139.7 755.5,137.7 747.6,139.7 745.6,133.7 742.6,128.8 739.6,123.8 738.6,118.8 739.6,112.8"/>
<polyline points="730.6,181.5 738.6,174.5 745.6,176.5 752.5,178.5 757.5,181.5 762.5,185.5 763.5,191.4 767.5,197.4 763.5,201.4 759.5,206.4 753.5,202.4 747.6,199.4 741.6,197.4 737.6,195.4 732.6,190.4 730.6,181.5"/>
<polyline points="667.0,198.4 674.9,194.4 683.9,191.4 690.8,194.4 699.8,193.4 707.8,197.4 712.7,204.4 707.8,207.4 704.8,212.3 699.8,213.3 692.8,216.3 685.9,215.3 679.9,212.3 674.9,209.4 670.9,211.3 666.0,213.3 667.0,198.4"/>
<polyline points="758.7,205.7 765.9,202.1 775.5,203.3 780.2,200.9 782.0,194.4 788.6,193.2 794.6,195.0 795.8,199.1 793.4,203.9 793.4,208.7 797.0,214.7 798.2,220.7 797.0,226.1 788.6,224.9 780.2,227.2 771.3,229.0 769.5,224.9 763.5,222.5 757.5,220.1 752.7,218.3 753.9,214.7 758.7,205.7"/>
<polyline points="795.2,195.0 798.2,191.4 804.2,190.8 808.3,193.2 808.9,199.1 808.9,203.9 804.2,206.9 798.2,208.7 793.4,207.5 794.0,203.3 795.8,199.1 795.2,195.0"/>
<polyline points="759.9,223.7 769.5,224.9 771.3,229.0 779.0,230.2 775.5,233.8 769.5,241.0 771.3,245.2 765.9,245.8 758.7,247.0 756.9,249.4 758.7,253.0 758.1,258.9 759.9,263.7 758.1,269.0"/>
<polyline points="730.0,256.6 734.8,251.8 732.4,247.0 737.2,244.6 743.2,249.4 751.5,249.4 750.3,242.2 749.7,235.0 755.1,232.6 758.7,227.8 759.9,223.7"/>
<polyline points="752.7,221.3 757.5,224.3 758.7,227.8 755.1,232.6 749.7,235.0 750.3,242.2 751.5,249.4 743.2,249.4 737.2,244.6 732.4,237.4 731.8,232.6 737.2,229.0 744.4,227.8 749.1,225.5 752.7,221.3"/>
<polyline points="779.0,230.2 780.2,227.2 788.6,224.9 797.0,226.1 803.0,227.8 807.8,231.4 809.5,238.6 806.6,244.6 807.2,254.2 800.6,259.5 793.4,260.7 788.6,259.5 782.6,254.8 777.8,251.8 774.3,249.4 771.3,245.2 769.5,241.0 775.5,233.8 779.0,230.2"/>
<polyline points="707.9,203.1 716.7,194.4 727.6,188.2"/>
<polyline points="733.1,188.2 737.7,195.5 741.7,197.4 747.6,199.4 753.5,202.5 759.6,206.4 753.9,210.8 752.8,217.4 749.6,226.2 736.4,228.3 730.9,233.8 729.8,237.8 726.5,238.2 721.1,232.7 715.6,227.2 712.3,220.7 706.8,213.0 707.9,203.1"/>
<polyline points="661.9,218.5 667.4,217.4 671.8,221.8 670.7,228.3 668.5,233.8 665.2,230.5 663.0,225.1 661.9,218.5"/>
<polyline points="662.6,225.1 665.2,230.5 668.5,233.8 666.7,236.5 663.2,231.6 662.6,225.1"/>
<polyline points="665.2,237.1 669.6,234.9 672.9,240.4 675.1,245.9 678.3,248.1 684.9,249.2 686.0,253.5 683.8,260.1 677.2,262.3 672.9,255.7 669.6,249.2 666.3,243.7 665.2,237.1"/>
<polyline points="675.1,245.9 684.9,249.2 687.1,247.0 683.8,243.7 677.2,242.6 675.1,245.9"/>
<polyline points="676.2,241.5 681.6,237.1 687.1,236.0 692.6,239.3 698.1,242.6 697.0,247.0 690.4,248.1 683.8,247.0 678.3,244.8 676.2,241.5"/>
<polyline points="699.2,242.6 705.7,237.1 711.2,232.7 715.6,227.2 721.1,232.7 726.5,238.2 723.3,244.8 718.9,250.3 710.1,249.2 702.4,247.4 698.1,245.9 699.2,242.6"/>
<polyline points="726.5,238.2 732.0,240.4 736.4,244.8 743.0,248.1 749.6,249.2 755.0,248.1 761.6,247.0 759.4,250.3 761.6,255.7 760.5,262.3 762.7,268.9 759.4,274.4 753.9,276.5 750.6,280.9 749.6,288.6 741.9,289.7 736.4,286.4 732.0,282.0 736.4,275.5 744.1,268.9 738.6,264.5 732.0,262.3 726.5,257.9 721.1,252.4 723.3,244.8 726.5,238.2"/>
<polyline points="701.3,297.4 705.7,294.1 710.1,297.4 714.5,303.9 715.6,309.4 707.9,308.3 702.4,309.4 698.1,303.9 701.3,297.4"/>
<polyline points="694.8,310.5 702.4,309.4 715.6,309.4 721.1,316.0 726.5,321.5 729.8,328.0 725.5,334.6 718.9,339.0 714.5,343.4 713.4,353.0"/>
<polyline points="668.5,353.0 665.2,343.4 661.9,332.4 660.8,321.5 668.5,320.4 679.4,323.7 687.1,330.2 693.7,332.4 697.0,325.8 695.9,318.2 694.8,310.5"/>
<polyline points="524.0,265.7 528.3,255.9 537.1,257.0 543.7,255.9 550.3,250.4 554.6,244.9 562.3,241.6 567.8,239.4 572.2,244.9 573.3,252.6 572.8,265.7 571.1,272.3 565.6,278.9 564.5,284.4 568.9,288.7 563.4,294.2 557.9,296.4 551.3,295.3 542.6,296.4 533.8,294.2 529.4,290.9 529.4,286.5 526.2,280.0 520.7,273.4 524.0,265.7"/>
<polyline points="527.2,293.1 533.8,294.7 542.6,296.4 551.3,295.3 557.9,296.4 563.4,299.7 567.8,304.1 563.4,308.5 555.7,310.6 550.3,311.7 547.0,305.2 541.5,301.9 537.1,299.7 531.6,296.4 527.2,293.1"/>
<polyline points="537.1,329.3 542.6,326.0 548.1,329.3 552.4,331.5 553.5,340.2 551.3,349.0 547.0,354.5 541.5,358.9 534.9,354.5 532.7,353.4 532.7,344.6 533.8,335.8 537.1,329.3"/>
<polyline points="487.8,294.2 495.5,299.7 496.6,305.2 493.3,311.7 492.2,322.7 494.4,331.5 492.2,340.2 490.0,342.4"/>
<polyline points="513.0,349.0 517.4,345.7 521.8,347.9 522.9,353.4 518.5,356.7 514.1,353.4 513.0,349.0"/>
<polyline points="563.4,355.6 568.9,352.3 574.4,355.6 575.5,363.0"/>
<polyline points="564.5,363.0 563.4,355.6"/>
<polyline points="621.5,351.2 630.2,350.1 635.7,352.3 633.5,356.7 625.8,356.7 622.6,354.5 621.5,351.2"/>
<polyline points="655.4,342.4 659.8,340.2 664.2,343.5 665.3,349.0 664.2,363.0"/>
<polyline points="657.6,363.0 656.5,353.4 655.4,342.4"/>
<polyline points="665.3,349.0 671.9,351.2 682.8,353.4 696.0,354.5 704.7,356.7 710.0,355.6"/>
<polyline points="664.6,363.0 665.3,349.0"/>
<polyline points="697.1,303.0 701.4,297.5 705.8,296.4 710.0,298.6"/>
<polyline points="710.0,309.6 703.6,309.6 700.3,307.4 697.1,303.0"/>
<polyline points="371.1,312.7 379.8,308.3 385.3,306.2 390.8,306.2 397.4,310.5 403.9,313.8 409.4,319.3 408.3,324.8 416.0,328.1 414.9,333.5 417.1,337.9 411.6,341.2 409.4,346.7 402.8,352.2 397.4,348.9 390.8,344.5 384.2,340.1 378.7,337.9 378.7,331.3 376.5,324.8 374.4,317.1 371.1,312.7"/>
<polyline points="364.5,347.8 372.2,340.1 377.6,337.9 382.0,337.9 386.4,343.4 384.2,348.9 388.6,356.5 394.1,364.2 397.4,368.6 393.0,370.8 386.4,370.8 377.6,368.6 372.2,362.0 370.0,357.6 370.0,352.2 364.5,347.8"/>
<polyline points="384.2,348.9 386.4,343.4 390.8,344.5 397.4,348.9 402.8,352.2 407.2,357.6 411.6,365.3 414.9,371.9 408.3,373.0 401.7,370.8 397.4,368.6 394.1,364.2 388.6,356.5 384.2,348.9"/>
<polyline points="311.9,388.3 316.3,383.9 322.9,379.6 327.2,369.7 336.0,371.9 342.6,373.0 347.0,368.6 352.4,363.1 357.9,358.7 364.5,356.5 370.0,357.6 372.2,362.0 377.6,368.6 386.4,370.8 393.0,370.8 397.4,368.6 401.7,370.8 408.3,373.0 414.9,371.9 417.1,377.4 412.7,386.1 418.2,391.6 421.5,399.3 423.7,405.8 419.3,412.4 412.7,416.8 408.3,421.2 403.9,414.6 399.6,408.0 395.2,401.5 388.6,394.9 382.0,391.6 373.3,389.4 364.5,388.3 360.1,392.7 355.7,394.9 349.2,396.0 348.1,401.5 349.2,410.2 344.8,408.0 337.1,405.8 331.6,410.2 330.5,403.7 334.9,397.1 330.5,393.8 322.9,394.9 316.3,392.7 311.9,388.3"/>
<polyline points="287.8,373.0 296.6,368.6 303.1,369.7 304.2,375.2 306.4,381.7 311.9,388.3 316.3,392.7 322.9,394.9 330.5,393.8 334.9,397.1 330.5,403.7 331.6,410.2 327.2,405.8 320.7,401.5 314.1,399.3 307.5,397.1 303.1,401.5 296.6,403.7 287.8,405.8"/>
<polyline points="401.7,311.6 407.2,307.2 412.7,302.9 414.9,298.5 421.5,295.2 429.1,294.1 435.7,297.4 441.2,302.9 447.8,301.8 446.7,311.6 449.9,320.4 453.2,328.1 454.3,333.5 446.7,334.6 439.0,337.9 430.2,339.0 433.5,345.6 441.2,351.1 447.8,357.6 453.2,364.2 456.5,369.7 452.1,374.1 444.5,377.4 443.4,386.1 447.8,392.7 453.2,397.1 445.6,399.3 439.0,392.7 435.7,385.0 430.2,381.7 426.9,375.2 432.4,370.8 426.9,367.5 423.7,360.9 420.4,354.4 414.9,350.0 409.4,346.7 411.6,341.2 417.1,337.9 414.9,333.5 416.0,328.1 408.3,324.8 409.4,319.3 403.9,313.8 401.7,311.6"/>
<polyline points="465.3,295.2 476.2,293.0 483.9,294.1 491.6,295.2 497.1,302.9 496.0,309.4 491.6,316.0 492.7,324.8 494.9,333.5 491.6,340.1 482.8,340.1 474.0,339.0 468.6,335.7 467.5,329.2 473.0,324.8 475.1,316.0 471.9,309.4 468.6,302.9 465.3,295.2"/>
<polyline points="453.2,355.5 459.8,354.4 465.3,357.6 471.9,356.5 476.2,359.8 474.0,364.2 468.6,367.5 465.3,371.9 460.9,368.6 456.5,364.2 453.2,355.5"/>
<polyline points="468.6,367.5 474.0,364.2 477.3,367.5 476.2,373.0 471.9,376.3 467.5,373.0 468.6,367.5"/>
<polyline points="506.9,362.0 510.0,360.9"/>
<polyline points="510.0,373.0 506.9,370.8 506.9,362.0"/>
<polyline points="413.8,387.2 419.3,386.1 421.0,392.7 419.3,399.3 414.9,396.0 412.7,391.6 413.8,387.2"/>
<polyline points="121.0,500.5 129.7,497.2 138.5,495.0 142.9,489.6 146.2,485.2 152.7,480.8 154.9,476.4 156.0,467.6 156.0,456.7 159.3,445.7 160.4,435.9 169.2,434.8 171.3,439.2 180.1,441.3 186.7,440.3 194.4,438.1 198.7,433.7 204.2,430.4 207.5,435.9 214.1,437.0 220.6,438.1 226.1,440.3 229.4,442.4 227.2,450.1 223.9,458.9 228.3,466.5 226.1,474.2 223.9,479.7 217.4,480.8 210.8,481.9 204.2,484.1 197.6,486.3 194.4,489.6 191.1,483.0 193.3,476.4 184.5,475.3 175.7,474.2 167.0,473.1 161.5,473.1 159.3,480.8 159.3,487.4 164.8,492.8 171.3,499.4 173.5,502.7 167.0,503.8 160.4,506.0 156.0,511.5 148.3,514.8 141.8,515.8 136.3,515.8 130.8,510.4 125.3,507.1 121.0,500.5"/>
<polyline points="161.5,473.1 167.0,473.1 175.7,474.2 184.5,475.3 193.3,476.4 191.1,483.0 194.4,489.6 197.6,486.3 204.2,484.1 210.8,485.2 213.0,489.6 209.7,496.1 204.2,497.2 200.9,501.6 197.6,507.1 191.1,504.9 185.6,508.2 180.1,510.4 176.8,506.0 173.5,502.7 171.3,499.4 164.8,492.8 159.3,487.4 159.3,480.8 161.5,473.1"/>
<polyline points="210.8,481.9 217.4,480.8 223.9,479.7 226.1,474.2 231.6,480.8 233.8,487.4 230.5,493.9 231.6,499.4 226.1,502.7 219.6,506.0 213.0,507.1 208.6,503.8 207.5,499.4 209.7,496.1 213.0,489.6 210.8,485.2 210.8,481.9"/>
<polyline points="156.0,511.5 160.4,506.0 167.0,503.8 173.5,502.7 176.8,506.0 180.1,510.4 185.6,508.2 191.1,504.9 197.6,507.1 198.7,513.7 196.5,520.2 202.0,522.4 206.4,526.8 204.2,532.3 197.6,529.0 193.3,524.6 190.0,531.2 183.4,525.7 177.9,521.3 173.5,519.1 167.0,520.2 161.5,518.0 156.0,511.5"/>
<polyline points="187.8,531.2 193.3,524.6 197.6,529.0 204.2,532.3 210.8,533.4 217.4,529.0 222.8,531.2 223.9,536.7 217.4,539.9 208.6,538.9 202.0,536.7 195.5,539.9 188.9,541.0 184.5,536.7 187.8,531.2"/>
<polyline points="265.6,534.5 272.1,533.4 276.5,529.0 283.1,532.3 289.7,535.6 291.9,543.0"/>
<polyline points="267.8,543.0 265.6,534.5"/>
<polyline points="246.9,398.6 248.0,392.1 250.2,384.4 259.0,381.1 265.6,383.3 271.0,389.9 273.2,394.2 278.7,392.1 283.1,391.0 283.1,384.4 284.2,377.8"/>
<polyline points="302.8,377.8 307.2,384.4 313.8,389.9 320.3,394.2 326.9,396.4 330.0,393.1"/>
<polyline points="330.0,399.7 322.5,400.8 316.0,403.0 310.5,400.8 305.0,403.0 298.4,404.1 291.9,406.3 290.8,412.9 283.1,412.9 278.7,416.2 275.4,422.7 268.9,423.8 264.5,418.3 261.2,410.7 259.0,404.1 254.6,400.8 246.9,398.6"/>
<polyline points="252.4,472.0 256.8,466.5 262.3,467.6 267.8,470.9 273.2,474.2 276.5,479.7 274.3,485.2 271.0,489.6 273.2,493.9 267.8,492.8 263.4,487.4 259.0,483.0 254.6,480.8 250.2,478.6 252.4,472.0"/>
<polyline points="289.7,489.6 294.0,485.2 298.4,487.4 302.8,493.9 303.9,499.4 300.6,504.9 296.2,509.3 291.9,508.2 290.8,500.5 289.7,489.6"/>
<polyline points="303.9,477.5 309.4,475.3 313.8,479.7 317.1,487.4 320.3,493.9 313.8,492.8 308.3,488.5 305.0,483.0 303.9,477.5"/>
<polyline points="318.2,489.6 324.7,488.5 330.0,489.6"/>
<polyline points="330.0,509.3 324.7,507.1 320.3,500.5 318.2,489.6"/>
<polyline points="344.9,452.6 347.1,441.6 353.7,436.2 361.3,439.4 365.7,443.8 369.0,447.1 370.1,453.7 365.7,458.1 359.2,459.2 352.6,462.4 348.2,458.1 344.9,452.6"/>
<polyline points="352.6,462.4 359.2,459.2 365.7,458.1 370.1,453.7 377.8,454.8 383.3,458.1 382.2,465.7 377.8,471.2 380.0,477.8 385.5,483.3 384.4,492.0 376.7,494.2 370.1,487.6 365.7,484.4 370.1,477.8 365.7,472.3 359.2,470.1 354.8,465.7 352.6,462.4"/>
<polyline points="353.7,476.7 358.1,471.2 365.7,472.3 370.1,477.8 365.7,484.4 359.2,485.5 354.8,482.2 353.7,476.7"/>
<polyline points="303.3,478.9 308.8,476.7 313.1,483.3 319.7,489.8 315.3,496.4 309.9,494.2 305.5,487.6 303.3,478.9"/>
<polyline points="317.5,492.0 323.0,488.7 330.7,487.6 336.2,492.0 339.4,498.6 338.3,507.4 332.9,509.6 326.3,503.0 320.8,498.6 317.5,492.0"/>
<polyline points="346.0,494.2 352.6,489.8 358.1,492.0 359.2,503.0 363.5,509.6 370.1,511.7 374.5,511.7 376.7,518.3 380.0,524.9 372.3,527.1 363.5,524.9 354.8,522.7 348.2,519.4 344.9,513.9 347.1,505.2 346.0,494.2"/>
<polyline points="339.4,461.3 344.9,462.4 346.0,467.9 340.5,469.0 339.4,461.3"/>
<polyline points="370.1,447.1 375.6,442.7 382.2,440.5 386.5,444.9 387.6,453.7 393.1,458.1 398.6,463.5 404.1,470.1 403.0,475.6 394.2,474.5 389.8,480.0 385.5,483.3 380.0,477.8 377.8,471.2 382.2,465.7 383.3,458.1 377.8,454.8 370.1,453.7 370.1,447.1"/>
<polyline points="403.0,475.6 406.3,470.1 413.9,471.2 419.4,475.6 420.5,481.1 427.1,482.2 433.7,484.4 434.8,489.8 430.4,494.2 422.7,496.4 416.1,494.2 411.7,493.1 408.5,485.5 404.1,481.1 403.0,475.6"/>
<polyline points="421.6,475.6 423.8,467.9 431.5,465.7 440.2,467.9 447.9,465.7 453.4,467.9 458.9,463.5 462.1,460.3 468.7,459.2 474.2,465.7 475.3,472.3 478.6,478.9 479.7,485.5 480.8,494.2 475.3,496.4 468.7,498.6 459.9,500.8 451.2,503.0 446.8,499.7 445.7,492.0 440.2,488.7 434.8,489.8 433.7,484.4 427.1,482.2 420.5,481.1 421.6,475.6"/>
<polyline points="434.8,489.8 440.2,488.7 445.7,492.0 446.8,499.7 441.3,501.9 433.7,498.6 430.4,494.2 434.8,489.8"/>
<polyline points="473.1,475.6 476.4,470.1 481.9,470.1 485.1,475.6 483.0,482.2 478.6,485.5 475.3,482.2 473.1,475.6"/>
<polyline points="511.4,474.5 516.9,470.1 520.0,472.3"/>
<polyline points="520.0,481.1 515.8,483.3 512.5,480.0 511.4,474.5"/>
<polyline points="515.8,451.5 520.0,449.3"/>
<polyline points="520.0,472.3 518.0,465.7 515.8,458.1 515.8,451.5"/>
<polyline points="461.0,504.1 468.7,498.6 475.3,498.6 481.9,499.7 486.2,505.2 490.6,509.6 492.8,515.0 486.2,516.1 479.7,517.2 475.3,513.9 468.7,511.7 464.3,508.5 461.0,504.1"/>
<polyline points="450.1,522.7 457.8,518.3 466.5,515.0 475.3,516.1 479.7,519.4 475.3,524.9 470.9,529.3 464.3,532.6 457.8,531.5 452.3,528.2 450.1,522.7"/>
<polyline points="490.6,507.4 496.1,505.2 501.6,509.6 500.5,516.1 493.9,516.1 490.6,507.4"/>
<polyline points="492.8,529.3 498.3,523.8 506.0,524.9 510.3,529.3 506.0,534.8 498.3,535.8 493.9,533.7 492.8,529.3"/>
<polyline points="497.2,550.1 503.8,551.2 513.6,553.4 512.5,557.8 503.8,555.6 497.2,550.1"/>
<polyline points="475.3,553.4 484.0,551.2 492.8,555.6 495.0,563.0"/>
<polyline points="477.5,563.0 475.3,553.4"/>
<polyline points="510.3,524.9 520.0,522.7"/>
<polyline points="520.0,531.5 513.6,531.5 510.3,524.9"/>
<polyline points="374.5,511.7 377.8,503.0 383.3,496.4 389.8,499.7 396.4,503.0 400.8,507.4 398.6,512.8 396.4,519.4 392.0,524.9 389.8,531.5 382.2,529.3 381.1,524.9 376.7,518.3 374.5,511.7"/>
<polyline points="400.8,507.4 405.2,503.0 411.7,499.7 418.3,500.8 421.6,509.6 420.5,516.1 413.9,519.4 407.4,521.6 403.0,516.1 400.8,507.4"/>
<polyline points="383.3,533.7 389.8,531.5 396.4,534.8 401.9,540.2 407.4,544.6 409.6,552.3 403.0,554.5 396.4,553.4 389.8,549.0 384.4,542.4 383.3,533.7"/>
<polyline points="396.4,557.8 403.0,554.5 407.4,557.8 408.5,563.0"/>
<polyline points="397.5,563.0 396.4,557.8"/>
<polyline points="420.5,400.0 422.7,406.6 416.1,414.2 408.5,418.6 403.0,413.1 397.5,406.6 394.2,400.0"/>
<polyline points="506.4,364.1 511.9,360.8 518.5,363.0 525.1,366.3 530.5,370.7 528.3,375.1 522.9,374.0 518.5,379.4 513.0,377.2 508.6,372.9 506.4,364.1"/>
<polyline points="490.0,379.4 498.8,379.4 503.1,383.8 501.0,392.6 494.4,397.0 490.0,394.8"/>
<polyline points="511.9,383.8 520.7,381.6 522.9,390.4 518.5,399.2 511.9,397.0 511.9,383.8"/>
<polyline points="537.1,390.4 544.8,388.2 549.2,394.8 548.1,403.5 541.5,405.7 537.1,399.2 537.1,390.4"/>
<polyline points="548.1,394.8 551.3,390.4 557.9,390.8 562.3,394.8 562.3,401.3 555.7,403.5 550.3,402.4 548.1,394.8"/>
<polyline points="556.8,383.8 561.2,379.4 566.7,380.5 565.6,387.1 562.3,391.5 557.9,389.3 556.8,383.8"/>
<polyline points="562.3,355.3 567.8,352.1 573.3,355.3 574.4,364.1 571.1,370.7 565.6,369.6 563.4,363.0 562.3,355.3"/>
<polyline points="622.6,352.1 632.4,349.9 634.6,354.2 626.9,356.4 622.6,352.1"/>
<polyline points="634.6,353.1 641.2,351.0 646.7,355.3 652.1,361.9 647.8,366.3 641.2,365.2 635.7,360.8 634.6,353.1"/>
<polyline points="656.5,344.4 663.1,342.2 664.2,348.8 665.3,357.5 659.8,361.9 656.5,353.1 656.5,344.4"/>
<polyline points="619.3,376.2 623.7,372.9 630.2,375.1 635.7,377.2 634.6,382.7 629.1,381.6 623.7,382.7 620.4,380.5 619.3,376.2"/>
<polyline points="630.2,382.7 639.0,381.6 641.2,390.4 636.8,397.0 631.3,392.6 630.2,382.7"/>
<polyline points="710.0,359.7 702.5,358.6 696.0,361.9 693.8,368.5 687.2,372.9 680.6,377.2 674.0,379.4 665.3,375.1 658.7,372.9 663.1,366.3 665.3,357.5 665.3,340.0"/>
<polyline points="681.7,372.9 687.2,370.7 696.0,369.6 698.2,375.1 697.1,380.5 690.5,378.3 685.0,379.4 681.7,372.9"/>
<polyline points="643.4,376.2 652.1,375.1 660.9,377.2 669.7,379.4 675.1,383.8 673.0,392.6 665.3,394.8 660.9,392.6 654.3,390.4 647.8,387.1 643.4,382.7 643.4,376.2"/>
<polyline points="644.5,390.4 649.9,389.3 649.9,397.0 647.8,405.7 643.4,407.9 642.3,401.3 644.5,390.4"/>
<polyline points="655.4,403.5 660.9,401.3 663.1,410.1 663.1,421.1 657.6,423.3 654.3,414.5 655.4,403.5"/>
<polyline points="623.7,405.7 630.2,403.5 639.0,405.7 643.4,412.3 641.2,418.9 634.6,423.3 628.0,421.1 624.8,414.5 623.7,405.7"/>
<polyline points="670.8,413.4 677.3,411.2 680.6,416.7 676.2,421.1 671.9,418.9 670.8,413.4"/>
<polyline points="680.6,414.5 689.4,412.3 696.0,416.7 693.8,423.3 685.0,424.4 680.6,414.5"/>
<polyline points="621.5,444.1 630.2,436.4 639.0,432.0 643.4,436.4 639.0,436.4 630.2,440.8 621.5,444.1"/>
<polyline points="616.0,447.4 621.5,444.1 630.2,440.8 639.0,436.4 647.8,435.3 656.5,438.6 654.3,445.2 653.2,450.6 647.8,447.4 641.2,443.0 634.6,447.4 625.8,449.6 619.3,452.8 616.0,447.4"/>
<polyline points="619.3,460.5 625.8,456.1 632.4,459.4 639.0,462.7 645.6,467.1 641.2,470.4 634.6,471.5 630.2,474.8 621.5,472.6 616.0,469.3 619.3,460.5"/>
<polyline points="646.7,456.1 652.1,455.0 655.4,459.4 652.1,464.9 648.9,469.3 646.7,462.7 646.7,456.1"/>
<polyline points="678.4,453.9 687.2,453.9 696.0,456.1 702.5,461.6 701.4,469.3 698.2,475.8 691.6,478.0 686.1,473.7 683.9,464.9 679.5,460.5 678.4,453.9"/>
<polyline points="696.0,481.3 701.4,475.8 705.8,475.8 709.1,482.4 704.7,487.9 699.2,486.8 696.0,481.3"/>
<polyline points="659.8,482.4 665.3,481.3 667.5,489.0 665.3,493.4 660.9,491.2 659.8,482.4"/>
<polyline points="634.6,475.8 641.2,474.8 643.4,480.2 639.0,484.6 634.6,482.4 634.6,475.8"/>
<polyline points="639.0,484.6 643.4,480.2 649.9,482.4 653.2,491.2 652.1,497.8 643.4,498.9 637.9,495.6 639.0,484.6"/>
<polyline points="643.4,495.6 647.8,494.5 649.9,503.0"/>
<polyline points="644.5,503.0 643.4,495.6"/>
<polyline points="530.5,497.8 540.4,493.4 550.3,495.6 555.7,503.0"/>
<polyline points="529.4,503.0 530.5,497.8"/>
<polyline points="490.0,436.4 496.6,434.2 503.1,438.6 509.7,443.0 514.1,449.6 511.9,455.0 503.1,460.5 496.6,464.9 490.0,466.0"/>
<polyline points="490.0,471.5 496.6,469.3 501.0,462.7 511.9,455.0 516.3,451.7 515.2,458.3 517.4,467.1 516.3,475.8 518.5,484.6 511.9,489.0 503.1,493.4 494.4,494.5 490.0,493.4"/>
<polyline points="661.3,322.9 667.9,320.7 676.7,321.8 684.4,322.9 687.6,329.4 694.2,327.2 697.5,320.7 695.3,314.1 701.9,309.7 708.5,309.7 715.0,308.6 721.6,316.3 727.1,316.3 728.2,322.9 729.3,328.3 723.8,332.7 718.3,337.1 715.0,342.6 716.1,348.1 709.6,353.5 703.0,355.7 694.2,352.4 683.3,352.4 672.3,350.3 665.7,348.1 667.9,340.4 670.1,333.8 664.6,329.4 661.3,322.9"/>
<polyline points="665.7,348.1 672.3,350.3 683.3,352.4 694.2,352.4 703.0,355.7 699.7,360.1 694.2,364.5 689.8,370.0 682.2,372.2 677.8,377.6 671.2,378.7 664.6,376.5 658.1,374.4 663.5,364.5 664.6,355.7 665.7,348.1"/>
<polyline points="682.2,372.2 689.8,370.0 696.4,371.1 698.6,376.5 697.5,380.9 690.9,379.8 686.5,380.9 683.3,376.5 682.2,372.2"/>
<polyline points="655.9,341.5 662.4,340.4 664.6,348.1 664.6,355.7 663.5,364.5 658.1,366.7 655.9,360.1 658.1,353.5 655.9,348.1 655.9,341.5"/>
<polyline points="632.9,353.5 641.6,352.4 649.3,357.9 657.0,361.2 658.1,366.7 652.6,370.0 647.1,370.0 641.6,366.7 636.2,360.1 632.9,353.5"/>
<polyline points="621.9,351.3 632.9,351.3 632.9,354.6 624.1,355.7 621.9,351.3"/>
<polyline points="619.7,375.5 624.1,372.2 629.6,375.5 635.1,376.5 636.2,380.9 630.7,382.0 624.1,383.1 620.8,379.8 619.7,375.5"/>
<polyline points="643.8,376.5 647.1,370.0 652.6,374.4 658.1,374.4 664.6,376.5 671.2,378.7 674.5,386.4 669.0,390.8 663.5,393.0 660.3,399.6 653.7,397.4 650.4,390.8 643.8,388.6 641.6,383.1 643.8,376.5"/>
<polyline points="644.9,390.8 650.4,389.7 650.4,397.4 648.2,406.1 643.8,408.3 642.7,401.7 644.9,390.8"/>
<polyline points="624.1,406.1 630.7,403.9 638.3,406.1 643.8,412.7 641.6,419.3 636.2,423.7 628.5,421.5 625.2,414.9 624.1,406.1"/>
<polyline points="629.6,384.2 634.0,383.1 636.2,388.6 635.1,395.2 630.7,393.0 629.6,384.2"/>
<polyline points="654.8,403.9 660.3,401.7 662.4,410.5 663.5,421.5 658.1,423.7 654.8,414.9 654.8,403.9"/>
<polyline points="671.2,413.8 677.8,411.6 681.1,417.1 676.7,421.5 672.3,419.3 671.2,413.8"/>
<polyline points="681.1,414.9 689.8,412.7 696.4,417.1 694.2,423.7 685.5,424.8 681.1,414.9"/>
<polyline points="607.7,412.7 613.1,410.5 616.4,418.2 612.1,419.3 608.8,417.1 607.7,412.7"/>
<polyline points="600.0,421.5 606.6,420.4 607.7,424.8 602.2,428.0 600.0,426.9"/>
<polyline points="600.0,430.2 606.6,430.2 609.9,436.8 604.4,441.2 600.0,441.2"/>
<polyline points="616.4,447.8 621.9,444.5 630.7,441.2 639.4,436.8 648.2,435.7 657.0,439.0 654.8,445.6 653.7,451.0 648.2,447.8 641.6,443.4 635.1,447.8 626.3,449.9 619.7,453.0 616.4,447.8"/>
<polyline points="722.7,439.0 727.1,425.8 731.5,421.5 740.2,425.8 746.8,428.0 753.4,430.2 764.3,433.5 769.8,436.8 772.0,447.8 774.2,453.0"/>
<polyline points="722.7,453.0 722.7,439.0"/>
<polyline points="677.4,454.1 683.9,455.2 692.7,458.5 698.2,456.3 702.6,462.9 701.5,470.5 697.1,471.6 692.7,476.0 688.3,474.9 685.0,467.2 679.6,462.9 677.4,454.1"/>
<polyline points="694.9,482.6 700.4,477.1 705.8,472.7 708.0,480.4 706.9,487.0 701.5,488.1 697.1,485.9 694.9,482.6"/>
<polyline points="754.0,430.0 762.8,432.2 770.5,438.8 774.9,450.8 766.1,450.8 760.6,454.1 756.2,448.6 749.7,450.8 743.1,454.1 738.7,460.7 732.1,458.5 726.7,456.3 723.4,451.9 721.2,442.1 723.4,430.0"/>
<polyline points="646.7,456.3 652.2,455.2 654.4,459.6 652.2,467.2 647.8,465.1 646.7,456.3"/>
<polyline points="634.6,477.1 640.1,476.0 643.4,481.5 639.0,484.8 635.7,482.6 634.6,477.1"/>
<polyline points="637.9,484.8 643.4,481.5 648.9,484.8 653.3,489.2 654.4,495.7 652.2,500.1 645.6,501.2 640.1,497.9 635.7,493.5 637.9,484.8"/>
<polyline points="643.4,495.7 648.9,497.9 654.4,500.1 653.3,504.5 646.7,504.5 643.4,501.2 643.4,495.7"/>
<polyline points="659.8,483.7 664.2,481.5 667.5,487.0 665.3,492.4 660.9,490.3 659.8,483.7"/>
<polyline points="689.4,491.3 694.9,487.0 701.5,489.2 700.4,495.7 697.1,502.3 691.6,503.4 689.4,497.9 689.4,491.3"/>
<polyline points="679.6,517.6 688.3,515.5 698.2,516.5 701.5,519.8 694.9,523.1 686.1,523.1 679.6,517.6"/>
<polyline points="701.5,519.8 710.2,516.5 721.2,516.5 726.7,519.8 727.8,526.4 727.8,534.1 721.2,537.4 716.8,533.0 712.4,526.4 705.8,524.2 701.5,519.8"/>
<polyline points="643.4,541.7 651.1,539.6 659.8,541.7 662.0,549.4 657.6,554.9 651.1,553.8 644.5,550.5 643.4,541.7"/>
<polyline points="677.4,548.3 683.9,541.7 689.4,539.6 697.1,540.6 703.7,542.8 705.8,547.2 699.3,551.6 694.9,550.5 689.4,553.8 681.7,556.0 675.2,561.5 670.8,565.8 669.7,557.1 677.4,548.3"/>
<polyline points="705.8,547.2 709.1,540.6 715.7,537.4 721.2,537.4 724.5,543.9 721.2,551.6 712.4,552.7 705.8,547.2"/>
<polyline points="697.1,537.4 704.8,537.4 705.8,539.6 699.3,539.6 697.1,537.4"/>
<polyline points="610.5,473.8 617.1,472.7 621.5,474.9 619.3,481.5 613.8,483.7 609.4,481.5 610.5,473.8"/>
<polyline points="570.0,502.3 578.8,504.5 591.9,506.7 599.6,506.7 602.9,513.3 605.1,518.7 598.5,522.0 591.9,523.1 585.3,525.3 581.0,530.8 578.8,535.2 570.0,537.4"/>
<polyline points="567.8,537.4 578.8,535.2 581.0,539.6 583.1,548.3 578.8,552.7 567.8,551.6"/>
<polyline points="574.4,489.2 583.1,487.0 591.9,489.2 594.1,495.7 590.8,502.3 583.1,504.5 576.6,500.1 574.4,489.2"/>
<polyline points="481.3,468.7 487.2,468.1 491.4,471.7 494.4,468.7 497.4,470.5 499.8,466.3 501.0,462.7 507.0,459.1 511.8,455.6 515.4,452.6 517.8,449.6 514.2,455.6 513.6,461.5 516.6,466.3 517.8,472.3 518.3,478.3 516.6,484.3 518.9,490.2 522.5,496.2 517.8,495.6 511.8,495.0 507.0,494.4 499.8,495.0 495.6,496.2 493.8,499.8 495.0,503.4 491.4,507.0 487.8,509.4 485.5,508.2 484.3,504.6 481.9,499.8 480.1,496.2 481.3,489.0 478.3,485.5 483.1,481.9 485.5,475.9 483.1,469.9 481.3,468.7"/>
<polyline points="495.6,496.2 499.8,495.0 507.0,494.4 511.8,495.0 517.8,495.6 522.5,496.2 526.1,500.4 529.7,501.0 528.5,507.0 523.7,511.8 520.1,517.8 516.6,522.5 510.6,523.7 507.0,526.1 502.2,524.9 502.2,514.2 501.6,510.6 498.6,505.8 495.0,503.4 493.8,499.8 495.6,496.2"/>
<polyline points="510.6,477.1 513.0,474.7 517.8,474.7 517.8,479.5 514.8,481.3 511.8,480.1 510.6,477.1"/>
<polyline points="490.2,507.0 495.0,503.4 498.6,505.8 501.6,510.6 502.2,514.2 497.4,516.6 493.2,516.6 492.0,511.8 490.2,507.0"/>
<polyline points="460.9,505.2 465.1,501.0 475.9,498.6 480.7,498.6 481.9,499.8 484.3,504.6 485.5,508.2 487.8,509.4 491.4,511.8 490.2,516.6 485.5,517.2 480.7,517.8 477.1,514.2 472.3,513.0 467.5,511.8 462.7,511.8 463.9,508.2 460.9,505.2"/>
<polyline points="510.6,523.7 516.6,522.5 520.1,517.8 523.7,513.0 528.5,511.8 534.5,516.6 539.3,520.1 541.7,529.0"/>
<polyline points="511.8,529.0 510.6,523.7"/>
<polyline points="497.4,523.7 502.2,524.9 507.0,526.1 508.2,529.0"/>
<polyline points="497.4,529.0 497.4,523.7"/>
<polyline points="517.8,449.6 522.5,450.2 527.3,452.0 532.1,454.4 535.7,457.9 541.7,460.3 545.3,463.9 550.0,469.9 551.2,475.9 547.7,481.9 544.1,478.3 539.3,474.7 534.5,473.5 530.9,479.5 528.5,485.5 523.7,483.1 518.9,484.3 518.3,478.3 517.8,472.3 516.6,466.3 513.6,461.5 514.2,455.6 517.8,449.6"/>
<polyline points="518.9,484.3 523.7,483.1 528.5,485.5 530.9,479.5 534.5,473.5 539.3,474.7 544.1,478.3 547.7,481.9 548.9,487.8 550.6,493.2 545.3,494.4 539.3,493.8 534.5,495.0 529.7,501.0 526.1,500.4 522.5,496.2 518.9,490.2 516.6,484.3 518.9,484.3"/>
<polyline points="529.7,501.0 534.5,495.0 539.3,493.8 545.3,494.4 550.6,493.2 554.8,498.6 556.0,504.6 554.8,511.8 552.4,516.6 551.8,522.5 547.7,526.1 546.5,529.0 544.1,523.7 540.5,518.9 535.7,514.2 530.9,510.6 527.3,507.0 529.7,501.0"/>
<polyline points="541.7,453.2 545.3,448.4 550.0,444.8 556.0,442.4 557.2,447.2 554.8,453.2 551.2,457.9 546.5,459.1 541.7,453.2"/>
<polyline points="403.3,474.4 411.0,471.1 417.5,476.6 421.9,481.0 430.7,483.1 435.1,488.6 431.8,494.1 424.1,491.9 417.5,489.7 411.0,487.5 406.6,482.1 403.3,474.4"/>
<polyline points="431.8,494.1 435.1,488.6 441.6,494.1 443.8,502.9 432.9,499.6 431.8,494.1"/>
<polyline points="450.4,522.6 459.2,517.1 467.9,514.9 476.7,517.1 476.7,523.7 473.4,529.2 465.7,533.5 457.0,534.6 451.5,530.3 450.4,522.6"/>
<polyline points="493.1,529.2 498.6,524.8 505.2,523.7 509.6,527.0 506.3,533.5 499.7,535.7 495.3,533.5 493.1,529.2"/>
<polyline points="509.6,528.1 516.1,522.6 520.5,516.0 527.1,511.6 533.7,513.8 540.2,519.3 542.4,524.8 538.0,530.3 531.5,527.0 528.2,522.6 523.8,527.0 522.7,533.5 518.3,535.7 513.9,532.4 509.6,528.1"/>
<polyline points="529.3,522.6 540.2,519.3 542.4,524.8 549.0,522.6 555.6,527.0 562.1,532.4 568.7,535.7 575.3,534.6 578.8,535.1 581.9,544.5 585.1,554.4 575.3,553.3 568.7,556.5 563.2,559.8 561.0,562.0 562.1,568.6 565.4,575.2 564.3,581.7 553.4,580.6 546.8,579.6 540.2,577.4 535.8,573.0 531.5,566.4 528.2,557.6 533.7,551.1 538.0,544.5 531.5,535.7 526.0,531.3 529.3,522.6"/>
<polyline points="497.5,550.0 503.0,548.9 509.6,552.2 513.9,555.5 509.6,556.5 503.0,554.4 497.5,550.0"/>
<polyline points="494.2,554.4 500.8,552.2 509.6,556.5 513.9,559.8 509.6,564.2 503.0,563.1 497.5,559.8 494.2,554.4"/>
<polyline points="474.5,556.5 481.1,552.2 487.6,551.1 494.2,554.4 497.5,559.8 494.2,565.3 487.6,567.5 482.2,564.2 476.7,562.0 474.5,556.5"/>
<polyline points="472.3,568.6 476.7,562.0 482.2,564.2 487.6,567.5 486.5,575.2 481.1,578.5 474.5,576.3 472.3,568.6"/>
<polyline points="494.2,569.7 500.8,565.3 509.6,564.2 512.8,569.7 509.6,577.4 505.2,581.7 498.6,582.8 495.3,576.3 494.2,569.7"/>
<polyline points="509.6,564.2 513.9,559.8 521.6,560.9 524.9,568.6 529.3,577.4 522.7,580.6 516.1,577.4 512.8,569.7 509.6,564.2"/>
<polyline points="521.6,558.7 526.0,556.5 531.5,566.4 535.8,573.0 538.0,577.4 529.3,577.4 524.9,568.6 521.6,558.7"/>
<polyline points="488.7,586.1 494.2,580.6 500.8,583.9 504.1,591.6 500.8,598.2 494.2,599.3 489.8,592.7 488.7,586.1"/>
<polyline points="504.1,583.9 509.6,577.4 516.1,577.4 521.6,580.6 516.1,586.1 512.8,592.7 513.9,601.5 512.8,609.1 507.4,613.5 503.0,605.8 504.1,597.1 504.1,591.6 504.1,583.9"/>
<polyline points="482.2,592.7 486.5,587.2 489.8,592.7 494.2,599.3 500.8,598.2 504.1,601.5 503.0,605.8 500.8,612.4 497.5,616.8 493.1,610.2 487.6,608.0 484.4,599.3 482.2,592.7"/>
<polyline points="423.0,621.2 427.4,614.6 429.6,608.0 435.1,603.7 443.8,600.4 452.6,601.5 461.3,599.3 465.7,601.5 466.8,610.2 465.7,619.0 463.5,627.8 457.0,629.9 450.4,631.0 441.6,631.0 432.9,633.0"/>
<polyline points="425.2,633.0 423.0,621.2"/>
<polyline points="447.1,573.0 452.6,569.7 457.0,573.0 459.2,579.6 454.8,586.1 452.6,592.7 454.8,599.3 452.6,601.5 443.8,600.4 435.1,603.7 437.2,594.9 441.6,588.3 443.8,579.6 447.1,573.0"/>
<polyline points="452.6,569.7 454.8,567.5 459.2,569.7 458.1,575.2 455.9,574.1 452.6,569.7"/>
<polyline points="400.0,524.8 406.6,522.6 413.1,527.0 419.7,533.5 417.5,542.3 411.0,546.7 404.4,544.5 400.0,542.3"/>
<polyline points="400.0,555.5 406.6,556.5 411.0,562.0 413.1,568.6 406.6,570.8 400.0,566.4"/>
<polyline points="400.0,566.4 406.6,570.8 413.1,577.4 417.5,583.9 415.3,592.7 411.0,601.5 408.8,610.2 404.4,619.0 400.0,623.4"/>
<polyline points="400.0,627.8 408.8,625.6 415.3,629.9 416.4,633.0"/>
<polyline points="518.3,483.1 527.1,481.0 535.8,483.1 544.6,489.7 551.2,494.1 540.2,494.1 533.7,496.3 529.3,499.6 524.9,496.3 519.4,487.5 518.3,483.1"/>
<polyline points="529.3,499.6 533.7,496.3 540.2,494.1 549.0,495.2 554.5,499.6 555.6,507.2 552.3,516.0 549.0,522.6 540.2,519.3 533.7,513.8 529.3,509.4 529.3,499.6"/>
<polyline points="555.6,507.2 562.1,506.2 570.9,505.1 579.7,502.9 588.4,502.9 595.0,506.2 592.8,513.8 597.2,519.3 604.9,519.3 597.2,522.6 586.2,524.8 581.0,530.7 578.8,535.1 575.3,534.6 568.7,535.7 562.1,532.4 555.6,527.0 549.0,522.6 552.3,516.0 555.6,507.2"/>
<polyline points="553.4,494.1 562.1,490.8 570.9,493.0 574.2,498.5 570.9,505.1 562.1,506.2 555.6,507.2 554.5,499.6 553.4,494.1"/>
<polyline points="568.7,483.1 575.3,479.9 581.9,481.0 581.9,487.5 588.4,485.3 595.0,489.7 593.9,498.5 588.4,502.9 579.7,502.9 575.3,496.3 573.1,489.7 568.7,483.1"/>
<polyline points="592.8,483.1 597.2,478.8 606.0,479.9 610.3,487.5 607.1,495.2 600.7,499.6 595.0,498.5 595.0,489.7 592.8,483.1"/>
<polyline points="610.3,474.4 620.0,472.2"/>
<polyline points="620.0,483.1 613.6,483.1 610.3,474.4"/>
<polyline points="260.4,552.6 264.8,543.8 263.7,535.1 271.3,534.0 275.7,528.5 282.3,532.9 288.9,536.2 290.0,542.7 284.5,547.1 275.7,550.4 268.1,552.6 260.4,552.6"/>
<polyline points="259.3,558.1 268.1,552.6 275.7,550.4 284.5,551.5 287.8,558.1 282.3,562.4 285.6,567.9 291.1,572.3 284.5,577.8 277.9,584.4 272.4,586.5 271.3,576.7 272.4,567.9 267.0,563.5 259.3,558.1"/>
<polyline points="282.3,562.4 288.9,560.3 297.6,561.3 304.2,562.4 300.9,567.9 296.5,571.2 291.1,572.3 285.6,567.9 282.3,562.4"/>
<polyline points="291.1,573.4 296.5,571.2 303.1,573.4 307.5,576.7 305.3,582.2 299.8,580.0 294.4,577.8 291.1,573.4"/>
<polyline points="246.2,596.4 252.7,590.9 261.5,588.7 271.3,590.9 276.8,596.4 275.7,600.8 272.4,607.4 265.9,611.7 259.3,618.3 254.9,621.6 251.6,622.7 242.9,621.6 237.4,613.9 240.7,609.6 251.6,610.6 258.2,607.4 259.3,601.9 252.7,598.6 246.2,596.4"/>
<polyline points="245.1,600.8 252.7,598.6 259.3,601.9 258.2,607.4 251.6,610.6 242.9,609.6 245.1,600.8"/>
<polyline points="272.4,607.4 275.7,600.8 280.1,597.5 286.7,594.2 294.4,594.2 296.5,598.6 302.0,603.0 309.7,596.4 317.4,598.6 318.5,607.4 313.0,611.7 304.2,613.9 297.6,618.3 288.9,620.5 280.1,619.4 273.5,617.2 270.3,612.8 272.4,607.4"/>
<polyline points="257.1,619.4 265.9,611.7 270.3,612.8 273.5,617.2 280.1,619.4 288.9,620.5 294.4,621.6 293.3,631.5 291.1,640.2 284.5,643.5 275.7,644.6 268.1,642.4 265.9,633.7 263.7,627.1 257.1,627.1 257.1,619.4"/>
<polyline points="252.7,636.9 257.1,638.0 261.5,642.4 264.8,646.8 259.3,645.7 254.9,642.4 252.7,636.9"/>
<polyline points="383.1,537.2 387.5,532.9 396.2,535.1 402.8,539.4 407.2,546.0 408.3,552.6 402.8,554.8 396.2,553.7 389.7,551.5 385.3,546.0 383.1,537.2"/>
<polyline points="397.3,558.1 402.8,554.8 408.3,557.0 412.7,563.5 416.0,569.0 409.4,570.1 402.8,565.7 398.4,562.4 397.3,558.1"/>
<polyline points="396.2,576.7 402.8,572.3 411.6,574.5 417.1,581.1 416.0,592.0 413.8,603.0 409.4,613.9 405.0,622.7 400.6,618.3 397.3,609.6 396.2,598.6 395.1,587.6 396.2,576.7"/>
<polyline points="391.9,616.1 397.3,609.6 400.6,618.3 405.0,622.7 411.6,629.3 417.1,631.5 413.8,635.8 407.2,638.0 400.6,634.8 394.0,629.3 390.8,622.7 391.9,616.1"/>
<polyline points="337.1,574.5 343.7,571.2 346.9,564.6 354.6,563.5 359.0,567.9 359.0,574.5 352.4,577.8 349.1,583.3 341.5,585.5 338.2,580.0 337.1,574.5"/>
<polyline points="352.4,603.0 359.0,598.6 365.6,600.8 369.9,607.4 373.2,616.1 376.5,624.9 369.9,624.9 363.4,618.3 359.0,609.6 352.4,603.0"/>
<polyline points="374.3,508.8 380.9,502.2 387.5,500.0 394.0,504.4 398.4,511.0 396.2,517.5 391.9,524.1 387.5,530.7 383.1,528.5 380.9,521.9 376.5,515.3 374.3,508.8"/>
<polyline points="400.6,508.8 407.2,502.2 416.0,501.1 421.4,506.6 420.3,515.3 413.8,518.6 407.2,520.8 402.8,515.3 400.6,508.8"/>
<polyline points="359.0,500.0 363.4,506.6 369.9,513.1 376.5,524.1 373.2,527.4 367.8,525.2 361.2,523.0 354.6,519.7 348.0,515.3 345.8,508.8 345.8,500.0"/>
<polyline points="299.8,500.0 300.9,506.6 295.5,509.9 291.1,506.6 290.0,500.0"/>
<polyline points="332.7,500.0 339.3,506.6 341.5,513.1 334.9,511.0 326.1,506.6 317.4,500.0"/>
<polyline points="425.8,618.3 430.0,613.9"/>
<polyline points="430.0,629.3 426.9,627.1 425.8,618.3"/>
<polyline points="210.0,530.7 216.6,528.5 223.1,531.8 222.1,537.2 216.6,539.4 210.0,537.2"/>
<polyline points="445.3,399.2 451.7,398.6 458.2,397.9 463.4,396.6 462.1,391.5 458.2,390.8 463.4,388.9 469.9,386.3 472.4,385.0"/>
<polyline points="477.6,385.0 482.8,388.9 489.3,386.3 490.6,385.0"/>
<polyline points="507.4,385.0 510.0,391.5 508.7,397.9 511.3,404.4 507.4,407.0 504.8,410.9 507.4,417.3 513.8,421.2 521.6,423.8 525.5,426.4 526.8,432.9 524.2,438.0 519.0,440.6 521.6,445.8 519.0,448.4 512.5,453.6 507.4,458.7 502.2,462.6 499.6,470.4 495.7,471.7 490.6,467.8 484.1,465.2 477.6,470.4 475.0,465.2 473.7,460.0 476.3,454.9 472.4,451.0 467.3,445.8 466.0,441.9 467.3,435.5 466.0,429.0 463.4,425.1 460.8,419.9 455.6,419.9 449.2,418.6 444.0,414.8 437.5,412.2 440.1,408.3 441.4,403.1 445.3,399.2"/>
<polyline points="466.0,441.9 472.4,436.7 480.2,427.7 488.0,422.5 493.1,413.5 500.9,416.0 507.4,421.2 512.5,426.4 516.4,427.7 521.6,430.3 524.2,436.7 521.6,443.2 519.0,448.4 512.5,453.6 507.4,458.7 502.2,462.6 499.6,470.4 494.4,469.1 489.3,467.8 482.8,465.2 476.3,463.9 473.7,460.0 476.3,454.9 472.4,451.0 467.3,445.8 466.0,441.9"/>
<polyline points="463.4,390.2 467.3,387.6 472.4,390.2 477.6,391.5 482.8,392.8 480.2,395.3 475.0,397.9 469.9,399.2 464.7,396.6 463.4,390.2"/>
<polyline points="477.6,470.4 484.1,465.2 490.6,467.8 495.7,471.7 499.6,470.4 502.2,462.6 507.4,458.7 512.5,453.6 516.4,453.6 515.1,460.0 516.4,469.1 513.8,474.3 511.3,476.8 511.3,481.2"/>
<polyline points="482.8,481.2 485.4,475.6 484.1,470.4 477.6,470.4"/>
<polyline points="436.2,436.7 438.8,434.2 444.0,436.1 447.9,433.5 451.7,435.5 453.7,439.3 451.7,443.2 446.6,444.5 441.4,445.2 437.5,448.4 435.6,447.1 438.2,441.9 436.2,436.7"/>
<polyline points="444.6,445.8 449.2,444.5 453.0,445.8 451.7,451.0 447.9,454.9 444.6,452.3 444.6,445.8"/>
<polyline points="444.0,457.4 447.9,454.9 451.7,451.0 455.6,456.2 459.5,461.3 456.9,465.2 451.7,467.8 446.6,465.2 444.6,461.3 444.0,457.4"/>
<polyline points="473.7,474.3 477.6,470.4 484.1,470.4 485.4,475.6 482.8,481.2"/>
<polyline points="473.1,481.2 473.7,474.3"/>
<polyline points="489.0,383.9 491.4,380.7 496.2,379.9 501.8,381.5 505.7,383.9 508.5,386.3 508.9,391.8 507.3,397.4 504.1,396.6 499.4,395.8 497.0,393.4 495.4,389.5 491.4,388.7 489.0,383.9"/>
<polyline points="461.9,391.8 465.1,389.5 469.1,387.9 473.1,387.1 476.3,391.1 480.3,392.6 477.1,395.0 473.9,398.2 469.1,399.0 465.1,397.4 461.9,391.8"/>
<polyline points="505.7,376.7 510.5,375.9 513.7,379.9 517.7,383.1 521.7,387.1 524.0,391.8 525.6,398.2 524.8,404.6 520.1,406.2 515.3,404.6 509.7,403.0 508.9,397.4 509.7,391.8 509.3,385.5 507.3,381.5 505.7,376.7"/>
<polyline points="491.4,414.1 494.6,412.5 499.4,414.1 504.1,415.7 507.3,419.0"/>
<polyline points="492.2,419.0 491.4,414.1"/>
<polyline points="687.9,100.7 690.3,97.5 692.7,93.6 695.1,89.6 697.9,87.2 704.2,87.2 707.8,90.8 710.6,94.0 711.8,98.3 715.4,99.1 716.6,102.3 717.4,107.1 715.8,110.3 716.6,112.7 714.2,115.8 711.8,119.0 707.0,121.4 702.3,121.4 697.5,120.6 694.3,118.2 691.1,115.8 689.5,113.5 687.1,111.1 689.5,107.9 689.5,103.9 687.9,100.7"/>
<polyline points="715.4,99.1 716.6,97.5 719.0,95.1 723.4,94.4 727.3,96.7 731.7,98.7 732.1,104.7 734.1,107.9 733.3,111.1 731.7,115.8 729.3,119.8 726.1,122.2 721.4,123.8 716.6,124.6 711.8,123.0 707.0,121.4 711.8,119.0 714.2,115.8 716.6,112.7 715.8,110.3 717.4,107.1 716.6,102.3 715.4,99.1"/>
<polyline points="678.8,119.0 683.9,117.4 687.9,115.8 691.1,115.8 694.3,118.2 697.5,120.6 702.3,121.4 707.0,122.2 705.4,125.4 703.8,128.6 698.3,129.4 696.7,131.0 699.1,133.4 699.9,135.0 695.1,138.1 690.3,140.5 685.9,137.3 682.7,135.8 678.4,131.8 679.2,128.6 682.4,125.4 680.8,122.2 678.8,119.0"/>
<polyline points="696.7,131.0 698.3,129.4 703.8,128.6 705.4,125.4 707.8,123.0 711.8,124.6 715.0,128.6 713.4,133.4 711.8,135.8 708.6,135.0 707.0,136.5 703.8,134.2 699.9,135.0 699.1,133.4 696.7,131.0"/>
<polyline points="707.0,136.5 708.6,135.0 711.8,135.8 716.6,135.0 721.4,137.3 726.1,139.7 727.7,143.0"/>
<polyline points="701.5,143.0 706.2,141.3 707.0,136.5"/>
<polyline points="664.8,452.5 669.6,446.2 669.6,436.6 679.1,435.8 688.7,439.8 696.6,443.0 699.8,447.8 704.6,454.1 699.8,455.7 691.8,452.5 683.9,451.0 675.9,451.0 669.6,451.8 664.8,452.5"/>
<polyline points="697.4,442.2 707.8,439.8 721.3,440.6 722.1,451.0 723.7,460.5 722.9,468.5 712.5,469.3 706.2,470.1 703.0,463.7 704.6,454.1 699.8,447.8 697.4,442.2"/>
<polyline points="671.9,415.9 675.9,411.9 680.7,413.5 679.1,419.1 675.1,421.5 671.9,415.9"/>
<polyline points="680.7,415.9 685.5,413.5 691.8,415.1 694.2,419.1 688.7,421.5 682.3,420.7 680.7,415.9"/>
<polyline points="263.5,431.0 267.5,427.0 273.9,423.0 281.8,416.6 289.8,411.8 291.4,405.5 299.4,406.3 304.1,403.9 305.7,397.5 313.7,400.7 320.1,399.9 328.0,395.9 334.4,395.1 336.8,399.1 331.2,403.9 332.0,411.8 328.8,418.2 332.8,426.2 329.6,431.0 322.5,427.8 320.9,434.1 320.1,440.5 315.3,445.3 316.9,451.7 310.5,453.2 302.5,452.5 294.6,451.7 288.2,450.1 280.3,450.9 272.3,451.7 265.9,450.1 263.5,443.7 265.1,437.3 263.5,431.0"/>
<polyline points="527.9,422.7 526.7,429.9 525.6,437.1 523.2,444.3 527.9,445.5 530.3,440.7 530.9,435.9 535.1,434.7 538.7,429.9 542.9,428.7 547.1,433.5 551.3,437.1 551.9,444.3 556.1,441.9 559.0,444.3 562.6,443.1 565.0,449.0 567.4,446.7 568.6,441.9 571.0,439.5 575.2,435.9 578.2,434.7 575.8,429.9 575.2,426.3 578.2,422.7 577.0,417.9 573.4,413.2 569.8,407.2 566.2,402.4 562.6,401.2 557.8,403.6 551.9,407.2 545.9,410.8 539.9,414.4 533.9,417.9 530.3,420.3 527.9,422.7"/>
<polyline points="561.4,417.9 565.0,412.0 568.6,413.2 572.2,417.9 575.8,421.5 571.0,423.9 567.4,425.7 563.8,422.7 561.4,417.9"/>
<polyline points="575.2,426.3 578.2,422.7 584.2,423.9 588.9,423.3 592.5,425.7 593.7,429.9 590.1,433.5 586.6,434.7 581.8,434.1 578.2,434.7 575.8,429.9 575.2,426.3"/>
<polyline points="590.1,435.9 593.7,431.1 597.3,433.5 602.1,434.7 605.7,429.9 608.7,434.7 608.1,438.3 603.3,439.5 597.3,438.9 592.5,438.3 590.1,435.9"/>
<polyline points="567.4,446.7 571.0,439.5 575.2,435.9 579.4,435.9 581.8,440.7 583.0,446.7 579.4,450.2 575.8,452.6 572.2,450.2 568.6,449.0 567.4,446.7"/>
<polyline points="561.4,456.2 565.0,452.6 568.6,449.0 572.2,450.2 575.8,452.6 574.6,457.4 572.2,461.0 567.4,459.8 563.8,458.6 561.4,456.2"/>
<polyline points="575.8,452.6 579.4,450.2 584.2,447.8 588.9,450.2 591.3,455.0 587.8,458.6 583.0,457.4 578.2,459.8 574.6,457.4 575.8,452.6"/>
<polyline points="591.3,458.6 596.1,459.8 602.1,461.0 605.7,464.6 604.5,471.8 600.9,475.4 596.1,474.2 593.7,470.6 592.5,464.6 591.3,458.6"/>
<polyline points="603.3,462.2 608.1,457.4 612.9,456.2 615.3,462.2 614.1,468.2 611.7,474.2 605.7,476.6 604.5,471.8 605.7,464.6 603.3,462.2"/>
<polyline points="539.9,456.2 543.5,447.8 549.5,444.3 556.1,441.9 556.7,447.8 554.3,453.8 550.7,458.6 544.7,457.4 539.9,456.2"/>
<polyline points="525.0,452.6 529.1,449.0 533.9,451.4 539.9,456.2 544.7,457.4 550.7,458.6 549.5,462.2 533.9,462.2 527.9,459.8 525.0,452.6"/>
<polyline points="517.2,451.4 523.2,450.2 525.0,452.6 527.9,459.8 530.3,464.6 531.5,474.2 533.9,481.3 529.1,483.7 523.2,482.5 520.8,489.0"/>
<polyline points="517.2,489.0 516.0,477.8 515.4,467.0 514.8,457.4 517.2,451.4"/>
<polyline points="531.5,476.6 537.5,475.4 541.1,478.9 539.9,484.9 537.5,489.0"/>
<polyline points="526.7,489.0 527.9,483.7 531.5,476.6"/>
<polyline points="539.9,475.4 545.9,474.2 551.3,476.6 550.7,482.5 545.9,483.7 542.3,481.3 539.9,475.4"/>
<polyline points="511.2,476.6 514.8,470.6 518.4,474.2 517.8,480.1 513.6,482.5 511.2,476.6"/>
<polyline points="577.0,477.8 581.8,474.8 587.8,476.6 590.1,481.3 586.6,486.1 583.0,483.7 578.2,482.5 577.0,477.8"/>
<polyline points="568.6,482.5 572.2,480.1 578.2,482.5 583.0,483.7 581.8,489.0"/>
<polyline points="569.8,489.0 568.6,482.5"/>
<polyline points="587.8,483.7 590.1,478.9 594.9,478.9 595.5,489.0"/>
<polyline points="586.6,489.0 587.8,483.7"/>
<polyline points="595.5,480.1 600.9,478.9 605.7,481.3 606.9,489.0"/>
<polyline points="596.1,489.0 595.5,480.1"/>
<polyline points="610.5,474.2 614.1,470.6 620.0,474.2 618.9,481.3 615.3,484.9 610.5,482.5 610.5,474.2"/>
<polyline points="597.3,407.2 600.9,402.4 605.7,403.6 608.1,408.4 606.9,414.4 603.3,417.9 598.5,415.6 596.1,412.0 597.3,407.2"/>
<polyline points="608.1,412.0 611.7,409.6 615.3,412.0 616.5,416.7 612.9,419.7 609.3,417.9 608.1,412.0"/>
<polyline points="600.3,422.1 604.5,420.3 608.1,421.5 607.5,425.7 603.3,426.9 600.3,425.7 600.3,422.1"/>
<polyline points="615.3,447.8 620.0,445.5 624.8,443.1 630.0,440.7"/>
<polyline points="630.0,447.8 626.0,450.2 621.2,452.6 617.7,451.4 615.3,447.8"/>
<polyline points="617.7,459.8 622.4,457.4 630.0,456.2"/>
<polyline points="630.0,467.0 623.6,468.2 618.9,465.8 617.7,459.8"/>
<polyline points="261.5,645.6 267.0,642.3 275.7,644.5 284.5,643.4 291.1,640.1 297.6,637.9 306.4,635.7 315.2,636.8 319.6,640.1 323.9,644.5 329.4,640.1 331.6,633.5 336.0,632.4 337.1,624.8 339.3,617.1 343.7,610.5 350.2,608.3 356.8,609.4 363.4,617.1 367.8,624.8 376.5,630.3 382.0,635.7 379.8,644.5 378.7,647.8 373.2,652.2 367.8,655.5 363.4,659.8 359.0,664.2 355.7,668.6 352.4,669.7 352.4,673.0 353.5,679.6 349.1,681.7 351.3,688.3 350.2,694.9 343.7,696.0 341.5,701.5 338.2,705.8 332.7,706.9 328.3,711.3 321.7,712.4 315.2,708.0 310.8,703.7 309.7,694.9 308.6,686.1 306.4,681.7 299.8,679.6 293.3,675.2 284.5,673.0 273.5,671.9 264.8,673.0 262.6,669.7 260.4,662.0 257.1,655.5 254.9,648.9 261.5,645.6"/>
<polyline points="329.4,640.1 332.7,633.5 337.1,633.5 343.7,640.1 354.6,647.8 350.2,652.2 341.5,651.1 332.7,650.0 326.1,645.6 329.4,640.1"/>
<polyline points="237.4,685.0 241.8,679.6 250.5,676.3 254.9,678.5 253.8,671.9 262.6,669.7 264.8,673.0 273.5,671.9 284.5,673.0 293.3,675.2 299.8,679.6 306.4,681.7 308.6,686.1 304.2,689.4 300.9,697.1 293.3,694.9 284.5,693.8 279.0,698.2 277.9,711.3 272.4,710.2 267.0,710.2 262.6,702.6 257.1,698.2 251.6,694.9 244.0,692.7 237.4,685.0"/>
<polyline points="277.9,709.1 279.0,698.2 284.5,693.8 293.3,694.9 300.9,697.1 304.2,689.4 308.6,686.1 309.7,694.9 310.8,703.7 315.2,708.0 315.2,712.4 314.1,719.0 307.5,720.1 302.0,723.4 297.6,724.5 295.5,715.7 290.0,713.5 284.5,710.2 280.1,715.7 277.9,709.1"/>
<polyline points="187.9,533.5 189.7,529.9 192.7,529.9 196.3,532.3 199.9,534.7 202.3,533.5 204.7,534.7 208.3,533.5 213.1,531.7 216.7,528.7 219.0,527.5 221.4,529.3 223.8,533.5 223.2,537.1 220.2,540.1 215.5,540.7 210.7,540.1 205.9,538.3 202.3,537.1 198.7,540.7 195.7,543.1 193.9,546.7 191.5,541.3 187.9,539.5 185.0,538.9 187.9,533.5"/>
<polyline points="168.8,504.8 174.8,507.2 178.4,510.8 182.0,508.4 186.7,506.0 191.5,504.8 196.3,507.2 197.5,512.0 199.9,513.2 198.1,516.7 197.5,521.5 201.1,522.7 204.7,521.5 205.9,526.3 204.7,531.1 205.9,534.1 202.3,533.5 199.9,534.7 196.3,532.3 192.7,529.9 192.7,528.1 189.7,524.5 186.7,522.1 182.0,522.1 178.4,519.7 174.8,517.9 168.8,517.9"/>
<polyline points="227.4,500.0 222.6,503.6 219.0,506.0 214.3,507.2 209.5,506.0 208.3,500.0"/>
<polyline points="199.9,500.0 198.7,503.6 193.9,503.6 189.1,506.0 184.4,507.2 180.8,509.6 178.4,507.2 177.2,500.0"/>
<polyline points="747.6,139.7 743.6,147.7 738.6,154.6 739.6,154.6"/>
<polyline points="738.6,159.6 739.6,167.6 750.5,170.5"/>
<polyline points="764.5,134.7 768.5,133.7 774.4,135.7 781.4,137.7 787.4,135.7 793.3,133.7"/>
<polyline points="802.3,142.7 807.3,140.7"/>
<polyline points="787.4,154.6 791.3,159.6 787.4,165.6 783.4,169.6 785.4,172.5"/>
<polyline points="795.3,173.5 799.3,171.5 804.3,174.5"/>
<polyline points="808.9,193.2 813.7,193.8 818.5,195.6 823.3,198.5 832.9,197.9"/>
<polyline points="808.9,203.9 811.3,203.9 813.7,207.5"/>
<polyline points="817.3,221.9 816.7,229.0"/>
<polyline points="779.0,230.2 775.5,233.8 769.5,241.0 771.3,245.2"/>
<polyline points="758.7,227.8 755.1,232.6 749.7,235.0 750.3,242.2 751.5,249.4"/>
<polyline points="661.9,218.5 670.7,220.7 675.1,227.2 680.5,225.1 683.8,231.6 687.1,236.0"/>
<polyline points="687.1,236.0 699.2,242.6"/>
<polyline points="702.4,247.4 705.7,253.5 716.7,257.9 726.5,257.9"/>
<polyline points="686.0,253.5 697.0,252.4 705.7,253.5"/>
<polyline points="716.7,257.9 712.3,264.5 703.5,271.1 700.3,277.6 686.0,280.9 680.5,286.4 674.0,293.0 678.3,299.6 672.9,308.3 668.5,320.4"/>
<polyline points="716.7,257.9 723.3,264.5 727.6,273.3 732.0,282.0"/>
<polyline points="703.5,271.1 714.5,276.5 724.4,282.0 732.0,282.0"/>
<polyline points="700.3,277.6 705.7,286.4 715.6,293.0 724.4,282.0"/>
<polyline points="686.0,280.9 688.2,290.8 698.1,293.0 705.7,294.1"/>
<polyline points="715.6,293.0 714.5,303.9"/>
<polyline points="724.4,282.0 736.4,286.4"/>
<polyline points="674.0,293.0 661.9,295.2 648.8,293.0 640.0,294.1"/>
<polyline points="678.3,299.6 698.1,303.9"/>
<polyline points="715.6,227.2 711.2,232.7 705.7,237.1 699.2,242.6"/>
<polyline points="726.5,238.2 723.3,244.8 721.1,252.4"/>
<polyline points="732.0,240.4 736.4,244.8"/>
<polyline points="705.7,321.5 710.1,330.2 705.7,339.0 693.7,332.4"/>
<polyline points="571.1,272.3 579.8,270.1 588.6,266.8"/>
<polyline points="564.5,284.4 568.9,288.7 576.5,293.1 584.2,289.8 593.0,288.7 598.5,287.6"/>
<polyline points="576.5,293.1 574.4,300.8 577.6,307.4 586.4,309.6 595.2,307.4 601.7,303.0 608.3,300.8 610.5,296.4"/>
<polyline points="567.8,304.1 574.4,300.8"/>
<polyline points="595.2,307.4 597.4,316.1 608.3,316.1 616.0,303.0"/>
<polyline points="608.3,316.1 612.7,324.9 621.5,329.3 626.9,333.7 632.4,331.5 641.2,320.5"/>
<polyline points="555.7,310.6 553.5,319.4 548.1,329.3"/>
<polyline points="553.5,319.4 562.3,322.7 573.3,318.3 577.6,307.4"/>
<polyline points="552.4,331.5 557.9,335.8 562.3,331.5 562.3,322.7"/>
<polyline points="605.0,247.1 612.7,250.4 621.5,253.7 617.1,260.3 621.5,266.8 628.0,267.9 629.1,276.7 626.9,287.6 625.8,294.2 617.1,296.4 610.5,296.4"/>
<polyline points="625.8,294.2 634.6,293.1 645.6,294.2 647.8,303.0 649.9,309.6 652.1,318.3 652.1,326.0"/>
<polyline points="649.9,309.6 660.9,311.7 669.7,313.9"/>
<polyline points="630.2,309.6 635.7,305.2 647.8,303.0"/>
<polyline points="626.9,333.7 630.2,340.2 639.0,344.6 639.0,353.4 635.7,363.0"/>
<polyline points="639.0,344.6 645.6,340.2 651.0,331.5"/>
<polyline points="496.6,305.2 503.1,309.6 509.7,307.4 518.5,309.6 528.3,319.4"/>
<polyline points="492.2,322.7 501.0,329.3 507.5,335.8 513.0,349.0"/>
<polyline points="507.5,335.8 518.5,333.7 530.5,329.3"/>
<polyline points="522.9,353.4 530.5,349.0"/>
<polyline points="503.1,363.0 505.3,353.4 513.0,349.0"/>
<polyline points="349.2,396.0 355.7,394.9 360.1,392.7 364.5,388.3"/>
<polyline points="388.6,394.9 393.0,405.8 399.6,414.6 403.9,421.2"/>
<polyline points="412.7,386.1 418.2,391.6"/>
<polyline points="421.5,399.3 430.2,397.1 435.7,385.0"/>
<polyline points="447.8,304.0 451.0,313.8 456.5,324.8 454.3,333.5"/>
<polyline points="454.3,333.5 463.1,337.9 468.6,335.7"/>
<polyline points="439.0,337.9 447.8,344.5 456.5,351.1 453.2,355.5"/>
<polyline points="476.2,359.8 485.0,357.6 493.8,353.3 500.3,346.7 494.9,333.5"/>
<polyline points="493.8,353.3 500.3,362.0 506.9,362.0"/>
<polyline points="456.5,369.7 465.3,371.9"/>
<polyline points="476.2,373.0 487.2,370.8 496.0,374.1 500.3,379.6"/>
<polyline points="471.9,376.3 471.9,385.0"/>
<polyline points="444.5,377.4 452.1,374.1"/>
<polyline points="430.2,339.0 443.4,346.7 453.2,355.5"/>
<polyline points="431.3,341.2 443.4,349.3 452.1,357.2"/>
<polyline points="317.4,354.4 314.1,364.2 311.9,373.0 316.3,383.9"/>
<polyline points="497.1,302.9 500.3,313.8 498.2,324.8 494.9,333.5"/>
<polyline points="169.2,438.1 168.1,447.9 164.8,456.7 162.6,465.5 159.3,472.0 161.5,473.1"/>
<polyline points="146.2,489.6 153.8,490.6 159.3,487.4"/>
<polyline points="194.4,489.6 190.0,493.9 182.3,497.2 176.8,501.6 173.5,502.7"/>
<polyline points="243.7,403.0 250.2,399.7 259.0,404.1"/>
<polyline points="231.6,434.8 239.3,442.4 245.8,450.1 254.6,455.6 263.4,454.5"/>
<polyline points="245.8,450.1 241.5,463.3 228.3,466.5"/>
<polyline points="254.6,455.6 255.7,466.5"/>
<polyline points="250.2,483.0 252.4,472.0"/>
<polyline points="280.9,467.6 287.5,472.0 291.9,480.8 294.0,485.2"/>
<polyline points="291.9,480.8 300.6,476.4 303.9,477.5"/>
<polyline points="250.2,483.0 251.3,491.7 248.0,498.3 250.2,507.1 241.5,511.5 239.3,522.4 241.5,533.4 241.5,543.0"/>
<polyline points="231.6,499.4 241.5,501.6 248.0,498.3"/>
<polyline points="250.2,507.1 263.4,509.3 276.5,511.5 285.3,509.3"/>
<polyline points="217.4,529.0 219.6,522.4 213.0,515.8 208.6,503.8"/>
<polyline points="198.7,513.7 206.4,511.5 213.0,515.8"/>
<polyline points="223.9,536.7 232.7,537.8 241.5,533.4"/>
<polyline points="317.1,443.5 324.7,445.7 330.0,445.7"/>
<polyline points="320.8,428.5 324.1,437.2 332.9,441.6 340.5,438.3 347.1,441.6"/>
<polyline points="318.6,441.6 324.1,437.2"/>
<polyline points="332.9,441.6 337.2,452.6 344.9,452.6"/>
<polyline points="337.2,452.6 332.9,461.3 339.4,461.3"/>
<polyline points="300.0,472.3 308.8,476.7"/>
<polyline points="319.7,489.8 328.5,481.1 336.2,474.5 340.5,469.0"/>
<polyline points="336.2,474.5 353.7,476.7"/>
<polyline points="336.2,492.0 342.7,485.5 353.7,482.2"/>
<polyline points="342.7,485.5 346.0,494.2"/>
<polyline points="339.4,498.6 347.1,505.2"/>
<polyline points="332.9,509.6 344.9,513.9"/>
<polyline points="300.0,496.4 309.9,494.2"/>
<polyline points="315.3,496.4 317.5,492.0"/>
<polyline points="359.2,485.5 358.1,492.0"/>
<polyline points="386.5,444.9 394.2,442.7 400.8,437.2 399.7,419.3"/>
<polyline points="398.6,463.5 406.3,470.1"/>
<polyline points="389.8,480.0 394.2,474.5"/>
<polyline points="385.5,483.3 387.6,496.4"/>
<polyline points="442.4,506.3 440.2,513.9 444.6,522.7 450.1,522.7"/>
<polyline points="427.1,523.8 440.2,513.9"/>
<polyline points="479.7,519.4 486.2,516.1"/>
<polyline points="470.9,529.3 473.1,540.2 466.5,549.0 457.8,553.4 453.4,563.0"/>
<polyline points="457.8,531.5 459.9,540.2 473.1,540.2"/>
<polyline points="492.8,515.0 497.2,522.7 498.3,523.8"/>
<polyline points="510.3,529.3 520.0,531.5"/>
<polyline points="327.4,534.8 330.7,542.4 339.4,546.8 350.4,544.6 354.8,529.3"/>
<polyline points="350.4,544.6 352.6,555.6 348.2,563.0"/>
<polyline points="352.6,555.6 363.5,553.4 372.3,557.8 374.5,563.0"/>
<polyline points="363.5,553.4 361.3,540.2 367.9,524.9"/>
<polyline points="382.2,529.3 383.3,533.7"/>
<polyline points="396.4,519.4 409.6,527.1 424.9,531.5"/>
<polyline points="401.9,540.2 409.6,527.1"/>
<polyline points="372.3,557.8 384.4,542.4"/>
<polyline points="486.2,505.2 490.6,500.8"/>
<polyline points="506.0,494.2 508.2,503.0 501.6,509.6"/>
<polyline points="520.0,503.0 508.2,503.0"/>
<polyline points="544.8,355.3 551.3,359.7 560.1,358.6 562.3,355.3"/>
<polyline points="574.4,364.1 582.0,366.3 588.6,370.7 595.2,368.5 601.7,372.9 599.6,381.6 595.2,388.2 586.4,390.4 577.6,394.8"/>
<polyline points="571.1,370.7 568.9,379.4 566.7,380.5"/>
<polyline points="588.6,370.7 586.4,381.6 586.4,390.4"/>
<polyline points="601.7,372.9 610.5,377.2 619.3,376.2"/>
<polyline points="610.5,377.2 612.7,366.3 610.5,357.5 617.1,353.1 622.6,352.1"/>
<polyline points="612.7,366.3 625.8,364.1 635.7,360.8"/>
<polyline points="647.8,366.3 645.6,370.7"/>
<polyline points="618.2,399.2 621.5,405.7 623.7,405.7"/>
<polyline points="630.2,388.2 631.3,392.6"/>
<polyline points="636.8,397.0 639.0,405.7"/>
<polyline points="649.9,397.0 660.9,392.6"/>
<polyline points="675.1,383.8 687.2,372.9"/>
<polyline points="673.0,392.6 678.4,401.3 677.3,411.2"/>
<polyline points="678.4,401.3 691.6,399.2 700.3,403.5 710.0,401.3"/>
<polyline points="697.1,380.5 700.3,390.4 696.0,397.0 691.6,399.2"/>
<polyline points="663.1,410.1 670.8,413.4"/>
<polyline points="641.2,418.9 643.4,427.6 639.0,432.0"/>
<polyline points="610.5,436.4 617.1,434.2 621.5,444.1"/>
<polyline points="663.1,421.1 665.3,429.8 669.7,436.4"/>
<polyline points="656.5,438.6 665.3,429.8"/>
<polyline points="653.2,450.6 658.7,456.1"/>
<polyline points="687.2,448.5 687.2,453.9"/>
<polyline points="583.1,405.7 590.8,407.9 597.4,405.7"/>
<polyline points="607.2,410.1 608.3,412.3"/>
<polyline points="614.9,418.9 621.5,427.6 617.1,434.2"/>
<polyline points="605.0,416.7 601.7,422.2"/>
<polyline points="576.5,417.8 584.2,414.5"/>
<polyline points="544.8,428.7 549.2,436.4 555.7,438.6"/>
<polyline points="532.7,436.4 536.0,443.0 541.5,449.6"/>
<polyline points="556.8,447.4 564.5,449.6"/>
<polyline points="595.2,449.6 603.9,453.9"/>
<polyline points="567.8,453.9 564.5,462.7 555.7,467.1 551.3,475.8 550.3,480.2"/>
<polyline points="573.3,456.1 575.5,467.1 576.5,475.8"/>
<polyline points="593.0,456.1 595.2,467.1 590.8,476.9"/>
<polyline points="595.2,467.1 603.9,469.3 607.2,469.3"/>
<polyline points="601.7,479.1 603.9,469.3"/>
<polyline points="652.1,464.9 656.5,471.5 665.3,473.7 665.3,481.3"/>
<polyline points="665.3,473.7 676.2,471.5 683.9,464.9"/>
<polyline points="676.2,471.5 678.4,482.4 674.0,491.2 667.5,489.0"/>
<polyline points="678.4,482.4 687.2,484.6 696.0,481.3"/>
<polyline points="653.2,491.2 660.9,491.2"/>
<polyline points="686.1,473.7 687.2,484.6"/>
<polyline points="674.0,491.2 676.2,503.0"/>
<polyline points="503.1,383.8 511.9,383.8"/>
<polyline points="522.9,390.4 537.1,390.4"/>
<polyline points="501.0,392.6 506.4,405.7"/>
<polyline points="518.5,399.2 520.7,410.1 526.2,412.3"/>
<polyline points="490.0,361.9 498.8,364.1 506.4,364.1"/>
<polyline points="518.5,379.4 520.7,381.6"/>
<polyline points="525.1,366.3 532.7,355.3"/>
<polyline points="490.0,412.3 504.2,410.1"/>
<polyline points="496.6,434.2 507.5,416.7"/>
<polyline points="613.1,298.8 626.3,292.2 643.8,294.4 647.1,303.1 652.6,309.7 651.5,325.1"/>
<polyline points="647.1,303.1 661.3,301.0 674.5,298.8 676.7,290.0"/>
<polyline points="674.5,298.8 687.6,296.6 696.4,302.1"/>
<polyline points="652.6,309.7 670.1,307.5 674.5,298.8"/>
<polyline points="670.1,307.5 667.9,320.7"/>
<polyline points="715.0,307.5 724.9,306.4"/>
<polyline points="687.6,329.4 696.4,333.8 705.2,333.8 709.6,322.9 716.1,318.5 721.6,316.3"/>
<polyline points="705.2,333.8 712.8,342.6"/>
<polyline points="694.2,364.5 705.2,362.3 719.4,365.6"/>
<polyline points="697.5,380.9 692.0,386.4 694.2,395.2 703.0,397.4 705.2,403.9 703.0,412.7 696.4,417.1"/>
<polyline points="674.5,386.4 692.0,386.4"/>
<polyline points="660.3,399.6 663.5,403.9 672.3,408.3 671.2,413.8"/>
<polyline points="703.0,412.7 713.9,419.3 727.1,425.8"/>
<polyline points="676.7,421.5 674.5,430.2 667.9,436.8"/>
<polyline points="694.2,423.7 696.4,439.0"/>
<polyline points="713.9,419.3 718.3,430.2 713.9,441.2"/>
<polyline points="635.1,395.2 641.6,399.6 642.7,401.7"/>
<polyline points="620.8,393.0 621.9,403.9 624.1,406.1"/>
<polyline points="643.8,412.7 654.8,414.9"/>
<polyline points="636.2,423.7 639.4,436.8"/>
<polyline points="649.3,357.9 650.4,349.2 655.9,348.1"/>
<polyline points="641.6,352.4 640.5,340.4 646.0,331.6 652.6,332.7 655.9,341.5"/>
<polyline points="611.0,391.9 608.8,377.6 613.1,366.7 611.0,357.9 621.9,351.3"/>
<polyline points="613.1,366.7 619.7,375.5"/>
<polyline points="636.2,360.1 628.5,364.5 629.6,375.5"/>
<polyline points="621.9,329.4 613.1,333.8 615.3,344.8 621.9,351.3"/>
<polyline points="621.9,329.4 630.7,331.6 640.5,340.4"/>
<polyline points="654.4,459.6 656.5,473.8 657.6,484.8 656.5,495.7"/>
<polyline points="656.5,473.8 666.4,476.0 668.6,484.8 667.5,487.0"/>
<polyline points="666.4,457.4 666.4,476.0"/>
<polyline points="668.6,484.8 677.4,482.6 683.9,487.0 689.4,491.3"/>
<polyline points="677.4,482.6 679.6,473.8 688.3,474.9"/>
<polyline points="677.4,493.5 683.9,487.0"/>
<polyline points="673.0,495.7 679.6,497.9 689.4,497.9"/>
<polyline points="703.7,491.3 700.4,495.7"/>
<polyline points="697.1,502.3 701.5,513.3 710.2,516.5"/>
<polyline points="621.5,537.4 622.6,548.3 624.8,561.5"/>
<polyline points="621.5,537.4 635.7,535.2 643.4,541.7"/>
<polyline points="662.0,549.4 669.7,557.1"/>
<polyline points="659.8,541.7 668.6,537.4 675.2,539.6 677.4,548.3"/>
<polyline points="609.4,495.7 611.6,508.9 605.1,518.7"/>
<polyline points="591.9,523.1 594.1,526.4 609.4,528.6 621.5,537.4"/>
<polyline points="712.4,469.4 721.2,482.6 719.0,495.7"/>
<polyline points="738.7,460.7 743.1,473.8 751.9,483.7"/>
<polyline points="721.2,468.3 732.1,469.4 743.1,473.8"/>
<polyline points="420.8,513.8 428.5,522.6 439.4,520.4 440.5,507.2 443.8,502.9"/>
<polyline points="439.4,520.4 450.4,522.6"/>
<polyline points="457.0,534.6 459.2,542.3 467.9,551.1 474.5,556.5"/>
<polyline points="476.7,523.7 484.4,522.6 492.0,512.7"/>
<polyline points="484.4,522.6 493.1,529.2"/>
<polyline points="494.2,494.1 496.4,502.9 503.0,509.4 498.6,516.0 492.0,512.7"/>
<polyline points="503.0,509.4 519.4,513.8 520.5,516.0"/>
<polyline points="494.2,494.1 509.6,496.3 522.7,500.7 529.3,499.6"/>
<polyline points="519.4,533.5 521.6,542.3 519.4,551.1 513.9,555.5"/>
<polyline points="521.6,542.3 533.7,551.1"/>
<polyline points="538.0,544.5 533.7,551.1"/>
<polyline points="476.7,579.6 486.5,575.2"/>
<polyline points="472.3,568.6 465.7,573.0 459.2,579.6"/>
<polyline points="465.7,573.0 467.9,586.1 482.2,592.7"/>
<polyline points="454.8,586.1 467.9,586.1"/>
<polyline points="513.9,592.7 527.1,590.5 542.4,588.3 544.6,586.1"/>
<polyline points="516.1,586.1 529.3,583.9 540.2,577.4"/>
<polyline points="465.7,601.5 472.3,597.1 476.7,601.5 477.8,612.4"/>
<polyline points="426.3,542.3 417.5,542.3"/>
<polyline points="419.7,533.5 424.1,531.3"/>
<polyline points="413.1,577.4 428.5,579.6 443.8,579.6"/>
<polyline points="428.5,579.6 430.7,592.7 424.1,605.8 427.4,614.6"/>
<polyline points="417.5,583.9 430.7,592.7"/>
<polyline points="240.7,526.3 247.2,524.1 251.6,517.5"/>
<polyline points="240.7,526.3 242.9,539.4 245.1,552.6"/>
<polyline points="259.3,558.1 253.8,559.2 245.1,563.5 240.7,565.7"/>
<polyline points="272.4,586.5 275.7,596.4"/>
<polyline points="271.3,576.7 260.4,574.5 244.0,572.3"/>
<polyline points="287.8,558.1 295.5,552.6 304.2,558.1 313.0,561.3 317.4,567.9 323.9,572.3"/>
<polyline points="304.2,562.4 304.2,558.1"/>
<polyline points="307.5,576.7 319.6,580.0"/>
<polyline points="297.6,542.7 295.5,552.6"/>
<polyline points="341.5,534.0 345.8,543.8 352.4,547.1 361.2,539.4 367.8,525.2"/>
<polyline points="352.4,547.1 350.2,557.0 346.9,564.6"/>
<polyline points="361.2,539.4 367.8,543.8 383.1,537.2"/>
<polyline points="367.8,543.8 369.9,557.0 363.4,563.5 359.0,567.9"/>
<polyline points="369.9,557.0 385.3,561.3 397.3,558.1"/>
<polyline points="359.0,574.5 367.8,581.1 372.1,592.0 369.9,607.4"/>
<polyline points="367.8,581.1 385.3,578.9 396.2,576.7"/>
<polyline points="372.1,592.0 385.3,596.4 396.2,598.6"/>
<polyline points="385.3,596.4 389.7,609.6 391.9,616.1"/>
<polyline points="417.1,581.1 430.0,583.3"/>
<polyline points="413.8,603.0 430.0,600.8"/>
<polyline points="417.1,631.5 430.0,629.3"/>
<polyline points="407.2,638.0 402.8,646.8 385.3,653.4 376.5,646.8"/>
<polyline points="318.5,607.4 328.3,603.0 332.7,592.0 332.7,582.2"/>
<polyline points="328.3,603.0 339.3,605.2 345.8,609.6"/>
<polyline points="339.3,624.9 328.3,622.7 319.6,627.1 304.2,626.0 294.4,621.6"/>
<polyline points="319.6,627.1 319.6,640.2"/>
<polyline points="477.6,391.5 482.8,400.5 490.6,405.7 493.1,413.5"/>
<polyline points="482.8,400.5 477.6,405.7 472.4,404.4 467.3,397.9"/>
<polyline points="490.6,405.7 500.9,404.4 508.7,397.9"/>
<polyline points="480.2,427.7 472.4,423.8 463.4,425.1"/>
<polyline points="488.0,422.5 490.6,417.3 493.1,413.5"/>
<polyline points="478.9,449.7 484.1,454.9 490.6,452.3 495.7,448.4 502.2,452.3 499.6,457.4 502.2,462.6"/>
<polyline points="516.4,427.7 513.8,421.2"/>
<polyline points="433.6,416.0 438.8,421.2 440.1,429.0 438.8,434.2"/>
<polyline points="438.8,421.2 447.9,422.5 455.6,419.9"/>
<polyline points="447.9,422.5 444.0,429.0 444.0,436.1"/>
<polyline points="453.7,439.3 460.8,444.5 466.0,441.9"/>
<polyline points="453.0,445.8 456.9,454.9 455.6,456.2"/>
<polyline points="456.9,454.9 464.7,462.6"/>
<polyline points="476.3,391.1 481.8,395.0 488.2,395.8 491.4,397.4 499.4,395.8"/>
<polyline points="476.3,395.0 481.8,403.0 488.2,409.4 491.4,414.1"/>
<polyline points="481.8,366.4 487.4,368.0 493.0,367.6 490.6,371.9 490.6,379.1"/>
<polyline points="491.4,375.1 496.2,372.7 501.8,373.5 504.9,371.9"/>
<polyline points="521.7,387.1 530.0,386.3"/>
<polyline points="524.8,404.6 530.0,411.0"/>
<polyline points="715.4,99.1 716.6,102.3 717.4,107.1 715.8,110.3 716.6,112.7 714.2,115.8 711.8,119.0 707.0,121.4"/>
<polyline points="734.1,107.9 738.1,118.2 739.7,123.0 742.1,128.6 745.2,133.4"/>
<polyline points="711.8,123.0 715.0,128.6 713.4,133.4 716.6,135.0"/>
<polyline points="688.7,439.8 683.9,446.2 683.9,451.0"/>
<polyline points="722.1,451.0 725.3,454.1"/>
<polyline points="707.8,439.8 707.8,433.4 701.4,430.3"/>
<polyline points="267.5,427.0 278.7,435.7 288.2,446.9 294.6,451.7"/>
<polyline points="305.7,397.5 310.5,408.7 305.7,416.6 307.3,424.6 313.7,423.0 322.5,427.8"/>
<polyline points="313.7,423.0 320.1,418.2 328.8,418.2"/>
<polyline points="542.9,428.7 547.1,433.5 551.3,437.1 551.9,444.3"/>
<polyline points="530.9,435.9 535.1,434.7 538.7,429.9 542.9,428.7"/>
<polyline points="565.0,449.0 565.0,452.6"/>
<polyline points="581.8,440.7 586.6,434.7"/>
<polyline points="583.0,446.7 584.2,447.8"/>
<polyline points="588.9,450.2 593.7,447.8 598.5,450.2 603.3,447.8 608.1,450.2 612.3,440.7"/>
<polyline points="598.5,450.2 599.7,456.2 602.1,461.0"/>
<polyline points="591.3,455.0 599.7,456.2"/>
<polyline points="572.2,461.0 573.4,467.0"/>
<polyline points="561.4,456.2 557.8,459.8 556.7,467.0"/>
<polyline points="550.7,458.6 556.7,447.8"/>
<polyline points="586.6,417.9 592.5,416.7 596.1,412.0"/>
<polyline points="594.3,426.3 600.3,425.7"/>
<polyline points="607.5,425.7 610.5,435.9"/>
<polyline points="615.3,455.0 617.7,451.4"/>
<polyline points="615.9,462.2 617.7,459.8"/>
<polyline points="593.7,470.6 581.8,474.8"/>
<polyline points="551.3,476.6 560.2,475.4 568.6,482.5"/>
<polyline points="560.2,475.4 561.4,467.0"/>
<polyline points="315.2,636.8 314.1,657.6 317.4,666.4 319.6,677.4 309.7,686.1"/>
<polyline points="317.4,666.4 328.3,666.4 332.7,673.0 341.5,677.4 346.9,681.7"/>
<polyline points="319.6,677.4 323.9,690.5 321.7,701.5 310.8,703.7"/>
<polyline points="332.7,673.0 329.4,679.6 323.9,690.5"/>
<polyline points="323.9,690.5 332.7,694.9 339.3,699.3"/>
<polyline points="350.2,652.2 367.8,653.3"/>
</g></g>
<g fill="none" stroke="#000" stroke-width="1.75" stroke-linejoin="round" stroke-linecap="round">
<polyline points="732.6,190.4 737.6,195.4 741.6,197.4 747.6,199.4 753.5,202.4 759.5,206.4"/>
<polyline points="758.7,205.7 765.9,202.1 775.5,203.3 780.2,200.9 782.0,194.4 788.6,191.4 792.2,187.2 792.8,180.0"/>
<polyline points="790.3,188.5 789.4,183.5 792.3,178.5 795.3,173.5 801.3,171.5 804.3,174.5"/>
<polyline points="758.7,205.7 753.9,214.7 752.7,218.3 757.5,220.1 763.5,222.5 769.5,224.9 771.3,228.4 780.2,227.2 788.6,224.9 797.0,226.1 803.0,227.8 807.8,231.4"/>
<polyline points="525.1,293.1 531.6,296.4 540.0,300.8 537.1,304.1 533.8,309.6 528.3,319.4 530.5,329.3 532.7,338.0 530.5,349.0 531.6,363.0"/>
<polyline points="589.7,247.5 590.8,254.8 587.5,262.4 588.6,266.8 596.3,269.0 603.9,269.0 602.8,275.6 599.6,281.1 598.5,287.6 606.1,289.8 610.5,296.4 616.0,303.0 621.5,307.4 630.2,309.6 635.7,313.9 641.2,320.5 645.6,327.1 652.1,326.0 651.0,331.5 658.7,336.9 665.3,343.5 665.3,349.0 671.9,351.2 682.8,353.4 696.0,354.5 704.7,356.7 710.0,355.6"/>
<polyline points="665.3,349.0 664.2,363.0"/>
<polyline points="397.4,310.5 403.9,313.8 409.4,319.3 408.3,324.8 416.0,328.1 414.9,333.5 417.1,337.9 411.6,341.2 409.4,346.7 414.9,350.0 420.4,354.4 423.7,360.9 426.9,367.5 432.4,370.8 426.9,375.2 430.2,381.7 435.7,385.0 439.0,392.7 445.6,399.3"/>
<polyline points="445.3,399.2 450.1,399.7"/>
<polyline points="450.0,399.8 456.4,399.4 463.5,398.2 464.3,393.4 458.0,391.8 458.0,390.3 463.5,389.5 465.9,386.3 470.7,384.7 473.1,385.5 477.1,389.5 481.8,390.7 485.8,386.3 487.4,381.5 493.0,379.1 497.8,379.1 504.9,382.3 508.9,385.5 509.3,391.8 508.1,397.4 508.9,405.4 505.7,407.0 504.1,411.8 505.7,416.5 509.9,416.9"/>
<polyline points="445.6,399.3 443.4,401.5 441.2,410.2 435.7,412.4 430.2,410.2 425.8,408.0 419.3,412.4 412.7,416.8 408.3,421.2 399.6,419.0 388.6,421.2 377.6,423.4 366.7,421.2 357.9,416.8 353.5,421.2 347.0,414.6 344.8,408.0 337.1,405.8 331.6,410.2 330.5,403.7 334.9,397.1 330.5,393.8 322.9,394.9 316.3,392.7 311.9,388.3 306.4,381.7 304.2,375.2 303.1,369.7"/>
<polyline points="347.0,414.6 350.3,421.2 360.1,423.4 362.3,433.0"/>
<polyline points="437.5,412.2 444.0,414.8 449.2,418.6 455.6,419.9 460.8,419.9 463.4,425.1 466.0,429.0 467.4,433.1"/>
<polyline points="229.4,442.4 227.2,450.1 223.9,458.9 228.3,466.5 226.1,474.2 231.6,480.8 233.8,487.4 241.5,485.2 250.2,483.0 255.7,485.2 259.0,489.6 265.6,491.7 272.1,493.9 273.2,499.4 278.7,506.0 285.3,509.3 294.0,511.5 301.7,513.7 303.9,522.4 300.6,531.2 296.2,537.8 296.2,543.0"/>
<polyline points="362.2,433.1 363.5,435.1 365.7,441.6 369.0,447.1 370.1,453.7 377.8,454.8 383.3,458.1 382.2,465.7 377.8,471.2 380.0,477.8 385.5,483.3 384.4,492.0 383.3,496.4"/>
<polyline points="467.4,433.1 466.5,437.2 469.8,446.0 474.2,452.6 475.3,459.2 474.2,465.7 475.3,472.3 478.6,478.9 479.7,485.5 480.8,494.2"/>
<polyline points="383.3,496.4 389.8,499.7 396.4,503.0 400.8,507.4 405.2,503.0 411.7,499.7 413.9,496.4 418.3,494.2 424.9,496.4 433.7,498.6 441.3,501.9 442.4,506.3 451.2,503.0 459.9,500.8 468.7,498.6 475.3,496.4 480.8,494.2"/>
<polyline points="383.3,496.4 377.8,503.0 374.5,511.7 376.7,518.3 381.1,524.9 382.2,529.3 374.5,527.1 367.9,524.9 361.3,527.1 354.8,529.3 352.6,533.7 343.8,534.8 335.1,533.7 327.4,534.8 325.2,540.2 320.8,542.0 311.0,538.5 300.0,542.4 296.3,543.1"/>
<polyline points="418.3,494.2 419.4,503.0 421.6,509.6 420.5,516.1 427.1,523.8 424.9,531.5 427.1,542.4 424.9,551.2 418.3,554.5 411.7,552.3 407.4,555.6 409.6,563.0"/>
<polyline points="509.9,416.9 515.8,421.9 520.0,424.1"/>
<polyline points="531.6,363.0 534.9,368.5 538.2,375.1 537.1,381.6 541.5,387.1 549.2,389.3 556.8,390.4 562.3,394.8 563.4,399.2"/>
<polyline points="563.4,399.2 571.1,398.1 577.6,394.8 583.1,397.0 583.1,405.7 584.2,414.5 588.6,421.1 593.0,424.4 591.9,432.0 589.7,436.4 595.2,438.6 603.9,438.6 610.5,436.4 612.7,445.2 614.9,453.9 617.1,462.7 616.0,469.3 611.6,471.5 610.5,480.2 608.3,489.0 614.9,493.4 621.5,496.7 625.8,503.0"/>
<polyline points="583.1,397.0 593.0,394.8 603.9,393.7 610.5,391.5 618.2,399.2 621.5,394.8 629.1,388.2 630.2,382.7 639.0,381.6 643.4,376.2 645.6,370.7 654.3,372.9 663.1,366.3 665.3,357.5 664.2,348.8 664.6,363.0"/>
<polyline points="563.4,399.2 560.1,403.5 551.3,405.7 542.6,410.1 536.0,413.4 529.4,415.6 527.2,421.1 526.2,427.6 528.3,436.4 525.1,440.8 518.5,441.9 520.7,449.6 517.8,449.6"/>
<polyline points="520.0,424.1 525.1,422.2 528.3,415.6"/>
<polyline points="490.0,471.5 496.6,469.3 501.0,462.7 509.7,456.1 516.3,451.7"/>
<polyline points="652.1,459.4 658.7,456.1 665.3,452.8 671.9,451.7 678.4,452.8 687.2,453.9 696.0,456.1 702.5,461.6 701.4,469.3 705.8,475.8 710.0,480.2"/>
<polyline points="616.0,469.3 621.5,472.6 630.2,474.8 634.6,471.5 641.2,470.4 647.8,469.3 652.1,464.9 652.1,459.4"/>
<polyline points="630.2,474.8 632.4,475.8 633.5,482.4 634.6,493.4 630.2,497.8 625.8,503.0"/>
<polyline points="710.0,355.5 715.0,350.3 719.4,350.3"/>
<polyline points="600.0,441.2 608.8,439.0 613.1,445.6 615.3,453.0"/>
<polyline points="710.0,480.2 709.1,488.1 715.7,493.5 721.2,495.7"/>
<polyline points="585.3,552.7 584.2,546.1 581.0,539.6 578.8,535.2"/>
<polyline points="613.8,493.5 610.5,495.7 600.7,499.7 599.6,506.7 602.9,513.3 605.1,518.7 598.5,522.0 591.9,523.1 585.3,525.3 581.0,530.8 578.8,535.2"/>
<polyline points="550.5,493.2 554.5,499.6 555.6,507.2 552.3,516.0 549.0,522.6 555.6,527.0 562.1,532.4 568.7,535.7 575.3,534.6 578.8,535.1"/>
<polyline points="409.6,562.9 415.3,566.4 424.1,568.6 432.9,564.2 440.5,566.4 448.2,564.2 454.8,563.1 452.6,569.7 447.1,573.0 443.8,579.6 441.6,588.3 437.2,594.9 434.0,601.5 429.6,608.0 427.4,614.6 425.2,621.2 427.4,633.0"/>
<polyline points="475.3,468.1 481.3,468.7 487.2,468.1 491.4,471.7 494.4,468.7 496.6,469.3"/>
<polyline points="517.8,449.6 514.2,455.6 513.6,461.5 516.6,466.3 517.8,472.3 518.3,478.3 516.6,484.3 518.9,490.2 522.5,496.2 526.1,500.4 529.7,501.0 534.5,495.0 539.3,493.8 545.3,494.4 550.6,493.2"/>
<polyline points="323.9,539.4 329.4,543.8 336.0,547.1 331.6,552.6 336.0,557.0 329.4,561.3 325.0,565.7 323.9,572.3 327.2,577.8"/>
<polyline points="327.2,577.8 319.6,580.0 313.0,582.2 311.9,589.8 309.7,596.4 302.0,603.0 296.5,598.6 294.4,594.2 286.7,594.2 280.1,597.5 275.7,600.8 272.4,607.4 265.9,611.7 259.3,618.3 254.9,621.6 257.1,627.1 253.8,628.2"/>
<polyline points="327.2,577.8 332.7,582.2 339.3,587.6 346.9,586.5 349.1,594.2 352.4,603.0 359.0,609.6 363.4,618.3 369.9,624.9 378.7,631.5 380.9,640.2 376.5,646.8 378.7,647.8"/>
<polygon points="660.0,217.3 668.0,211.3 669.0,198.4 674.9,196.4 683.9,193.4 690.8,196.4 699.8,195.4 709.8,196.4 716.7,190.4 727.7,192.4 732.6,190.4 732.6,181.5 738.6,175.5 737.6,167.6 734.6,162.6 726.7,163.6 719.7,160.6 714.7,157.6 707.8,156.6 701.8,152.6 698.8,145.7 701.5,143.0 706.2,141.3 707.0,136.5 703.8,134.2 699.9,135.0 695.1,137.3 690.3,139.7 686.3,136.5 683.1,135.0 679.2,131.8 680.0,128.6 683.1,125.4 681.6,122.2 679.6,119.0 683.9,117.4 687.9,115.8 689.5,113.5 687.9,111.1 690.3,107.9 690.3,103.9 688.7,101.5 685.5,99.9 685.9,97.9 691.1,98.3 693.5,94.4 695.9,90.4 698.3,88.0 703.8,88.0 707.0,91.2 709.8,94.4 711.8,98.3 716.6,98.3 719.0,95.9 723.4,95.1 726.9,97.5 730.9,99.1 731.3,104.7 734.1,107.9 738.9,109.5 743.7,111.9 748.4,110.3 752.0,107.9 756.5,102.9 762.5,100.9 767.5,102.9 770.4,107.9 775.4,109.9 778.4,109.9 778.4,102.9 776.4,97.9 779.4,94.9 783.4,97.9 781.4,102.9 781.4,110.8 787.4,112.8 793.3,114.8 797.3,119.8 801.3,120.8 807.3,118.8 811.2,125.8 817.2,130.7 820.2,138.7 818.2,147.7 817.2,156.6 811.2,163.6 806.3,168.6 804.3,174.5 807.3,177.5 813.2,180.5 819.2,178.5 825.2,175.5 831.1,173.5 837.1,171.5 842.1,169.6 842.1,187.5 842.4,187.2 836.5,190.8 835.3,196.7 832.9,197.9 831.7,206.3 832.9,211.1 830.5,217.1 826.9,222.5 824.5,227.8 817.3,230.2 812.5,230.2 807.8,231.4 808.3,238.6 805.4,244.6 806.0,254.2 800.6,258.3 793.4,259.5 788.6,258.3 782.6,253.6 777.8,250.6 774.3,248.2 771.3,245.2 765.9,245.8 758.7,247.0 756.9,249.4 758.7,253.0 758.1,258.9 759.9,263.7 758.1,269.0 760.5,268.9 757.2,274.4 751.7,276.5 748.5,280.9 747.4,288.6 744.1,295.2 748.5,296.3 749.6,298.5 746.3,300.6 741.9,299.6 740.8,302.8 734.2,305.0 726.5,308.3 724.4,314.9 725.5,321.5 727.6,328.0 723.3,334.6 716.7,339.0 712.3,343.4 712.8,342.6 713.9,348.1 719.4,350.3 720.5,357.9 719.4,365.6 723.8,374.4 728.2,384.2 733.7,391.9 739.1,399.6 741.3,408.3 745.7,416.0 751.2,422.6 753.4,432.4 762.1,435.7 767.6,439.0 769.8,447.8 772.0,453.0 772.0,453.0 766.1,450.8 760.6,454.1 762.8,460.7 766.1,468.3 763.9,476.0 766.1,484.8 759.5,487.0 751.9,483.7 745.3,487.0 745.3,493.5 743.1,502.3 738.7,500.1 733.2,496.8 726.7,494.6 721.2,495.7 719.0,500.1 722.3,506.7 723.4,512.2 720.1,515.5 724.5,519.8 725.6,526.4 725.6,534.1 721.2,537.4 722.3,543.9 719.0,549.4 712.4,550.5 705.8,547.2 699.3,549.4 694.9,548.3 689.4,551.6 681.7,553.8 675.2,559.3 670.8,563.7 666.4,561.5 657.6,557.1 646.7,556.0 640.1,559.3 629.2,561.5 618.2,561.5 607.2,559.3 598.5,557.1 591.9,554.9 585.3,552.7 575.3,551.1 568.7,554.4 563.2,557.6 558.9,562.0 559.9,568.6 563.2,575.2 562.1,579.6 553.4,578.5 546.8,579.6 544.6,586.1 542.4,592.7 535.8,594.9 527.1,597.1 519.4,599.3 513.9,601.5 511.7,608.0 507.4,611.3 508.5,619.0 500.8,620.1 497.5,614.6 494.2,609.1 487.6,605.8 482.2,606.9 477.8,612.4 472.3,616.8 466.8,619.0 462.4,626.7 457.0,627.8 450.4,628.9 441.6,628.9 432.9,631.0 427.4,633.0 427.4,632.9 420.3,633.5 413.8,635.7 408.3,639.0 402.8,640.1 400.6,645.6 395.1,650.0 385.3,652.2 380.9,653.3 378.7,647.8 373.2,650.0 367.8,653.3 363.4,657.6 359.0,662.0 355.7,666.4 350.2,667.5 350.2,673.0 351.3,679.6 346.9,681.7 349.1,688.3 348.0,692.7 341.5,693.8 339.3,699.3 336.0,703.7 330.5,704.8 326.1,709.1 319.6,710.2 315.2,712.4 314.1,719.0 307.5,720.1 302.0,723.4 297.6,722.3 295.5,715.7 290.0,713.5 284.5,710.2 280.1,715.7 277.9,709.1 272.4,708.0 268.1,708.0 264.8,700.4 259.3,696.0 253.8,692.7 246.2,690.5 239.6,685.0 244.0,680.6 250.5,678.5 257.1,679.6 256.0,673.0 262.6,669.7 262.6,662.0 257.1,663.0 253.8,653.4 250.5,646.8 251.6,640.2 246.2,635.8 238.5,632.6 234.1,630.4 240.7,628.2 248.3,627.1 253.8,628.2 251.6,622.7 245.1,619.4 239.6,613.9 242.9,609.6 246.2,603.0 244.0,596.4 240.7,592.0 238.5,587.6 231.9,588.7 237.4,585.5 240.7,578.9 244.0,572.3 239.6,565.7 241.8,559.2 245.1,552.6 240.7,546.0 237.4,540.5 235.2,537.1 232.2,537.1 228.6,540.7 223.8,541.9 220.2,540.7 215.5,540.1 210.7,538.9 205.9,537.1 202.3,535.9 198.7,539.5 195.7,541.9 194.5,545.5 192.7,540.7 189.1,538.3 186.1,538.3 187.9,533.5 189.7,529.9 192.7,528.1 189.7,524.5 186.7,522.1 182.0,521.5 178.4,518.5 174.8,516.7 170.0,516.7 167.0,518.0 161.5,515.8 156.0,511.5 148.3,512.6 141.8,513.7 136.3,513.7 131.9,508.2 126.4,504.9 123.1,500.5 129.7,499.4 138.5,497.2 142.9,491.7 146.2,487.4 152.7,483.0 157.1,476.4 158.2,467.6 158.2,456.7 161.5,445.7 162.6,438.1 169.2,437.0 171.3,441.3 180.1,443.5 186.7,442.4 194.4,440.3 198.7,435.9 204.2,432.6 207.5,438.1 214.1,439.2 220.6,440.3 226.1,442.4 230.5,441.3 231.6,434.8 236.0,429.3 237.1,422.7 242.6,417.2 244.8,410.7 243.7,403.0 249.1,398.6 250.2,392.1 252.4,385.5 259.0,383.3 265.6,385.5 269.9,391.0 272.1,396.4 278.7,394.2 285.3,392.1 285.3,384.4 286.4,380.0 290.0,373.0 296.6,370.8 303.1,369.7 307.5,366.4 308.6,357.6 306.4,348.9 313.0,350.0 317.4,354.4 320.7,362.0 324.0,369.7 329.4,371.9 336.0,374.1 342.6,375.2 347.0,370.8 352.4,365.3 357.9,360.9 364.5,358.7 370.0,357.6 370.0,352.2 366.7,347.8 372.2,342.3 377.6,337.9 378.7,331.3 376.5,324.8 374.4,317.1 373.3,312.7 379.8,310.5 385.3,308.3 390.8,308.3 397.4,310.5 401.7,311.6 407.2,309.4 412.7,305.1 414.9,300.7 421.5,297.4 429.1,296.3 435.7,299.6 441.2,305.1 447.8,304.0 452.1,299.6 458.7,296.3 467.5,297.4 476.2,295.2 483.9,296.3 490.0,296.4 495.5,299.7 503.1,301.9 510.8,299.7 513.0,292.0 518.5,290.9 525.1,293.1 529.4,286.5 526.2,280.0 522.9,273.4 526.2,265.7 530.5,258.1 537.1,259.2 543.7,258.1 550.3,252.6 554.6,247.1 562.3,243.8 567.8,241.6 572.2,244.9 576.5,247.1 583.1,250.4 587.5,247.1 593.0,248.2 601.7,247.1 605.0,240.5 612.7,236.2 621.5,232.9 630.2,228.5 639.0,223.0 647.8,221.9 656.5,218.6" stroke-width="1.9"/>
</g>
<text class="lb" x="726.7" y="151.2" textLength="70.6" lengthAdjust="spacingAndGlyphs">Rumburk</text>
<text class="lb" x="764.5" y="218.9" textLength="75.5" lengthAdjust="spacingAndGlyphs">Varnsdorf</text>
<text class="lb" x="654.2" y="273.7" textLength="44.5" lengthAdjust="spacingAndGlyphs">Děčín</text>
<text class="lb" x="578.7" y="328.8" textLength="30.7" lengthAdjust="spacingAndGlyphs">Ústí</text>
<text class="lb" x="549.2" y="349.0" textLength="86.5" lengthAdjust="spacingAndGlyphs">nad Labem</text>
<text class="lb" x="450.0" y="350.6" textLength="51.4" lengthAdjust="spacingAndGlyphs">Teplice</text>
<text class="lb" x="362.3" y="383.9" textLength="59.2" lengthAdjust="spacingAndGlyphs">Litvínov</text>
<text class="lb" x="260.1" y="466.1" textLength="80.4" lengthAdjust="spacingAndGlyphs">Chomutov</text>
<text class="lb" x="208.6" y="521.3" textLength="48.2" lengthAdjust="spacingAndGlyphs">Kadaň</text>
<text class="lb" x="406.3" y="460.7" textLength="37.2" lengthAdjust="spacingAndGlyphs">Most</text>
<text class="lb" x="472.0" y="442.3" textLength="41.6" lengthAdjust="spacingAndGlyphs">Bílina</text>
<text class="lb" x="467.6" y="547.5" textLength="46.0" lengthAdjust="spacingAndGlyphs">Louny</text>
<text class="lb" x="360.0" y="583.7" textLength="42.8" lengthAdjust="spacingAndGlyphs">Žatec</text>
<text class="lb" x="269.2" y="655.5" textLength="84.3" lengthAdjust="spacingAndGlyphs">Podbořany</text>
<text class="lb" x="530.5" y="472.6" textLength="68.6" lengthAdjust="spacingAndGlyphs">Lovosice</text>
<text class="lb" x="637.2" y="434.0" textLength="80.0" lengthAdjust="spacingAndGlyphs">Litoměřice</text>
<text class="lb" x="632.4" y="515.5" textLength="73.4" lengthAdjust="spacingAndGlyphs">Roudnice</text>
<text class="lb" x="624.8" y="536.3" textLength="86.5" lengthAdjust="spacingAndGlyphs">nad Labem</text>
</svg>
</body></html>
